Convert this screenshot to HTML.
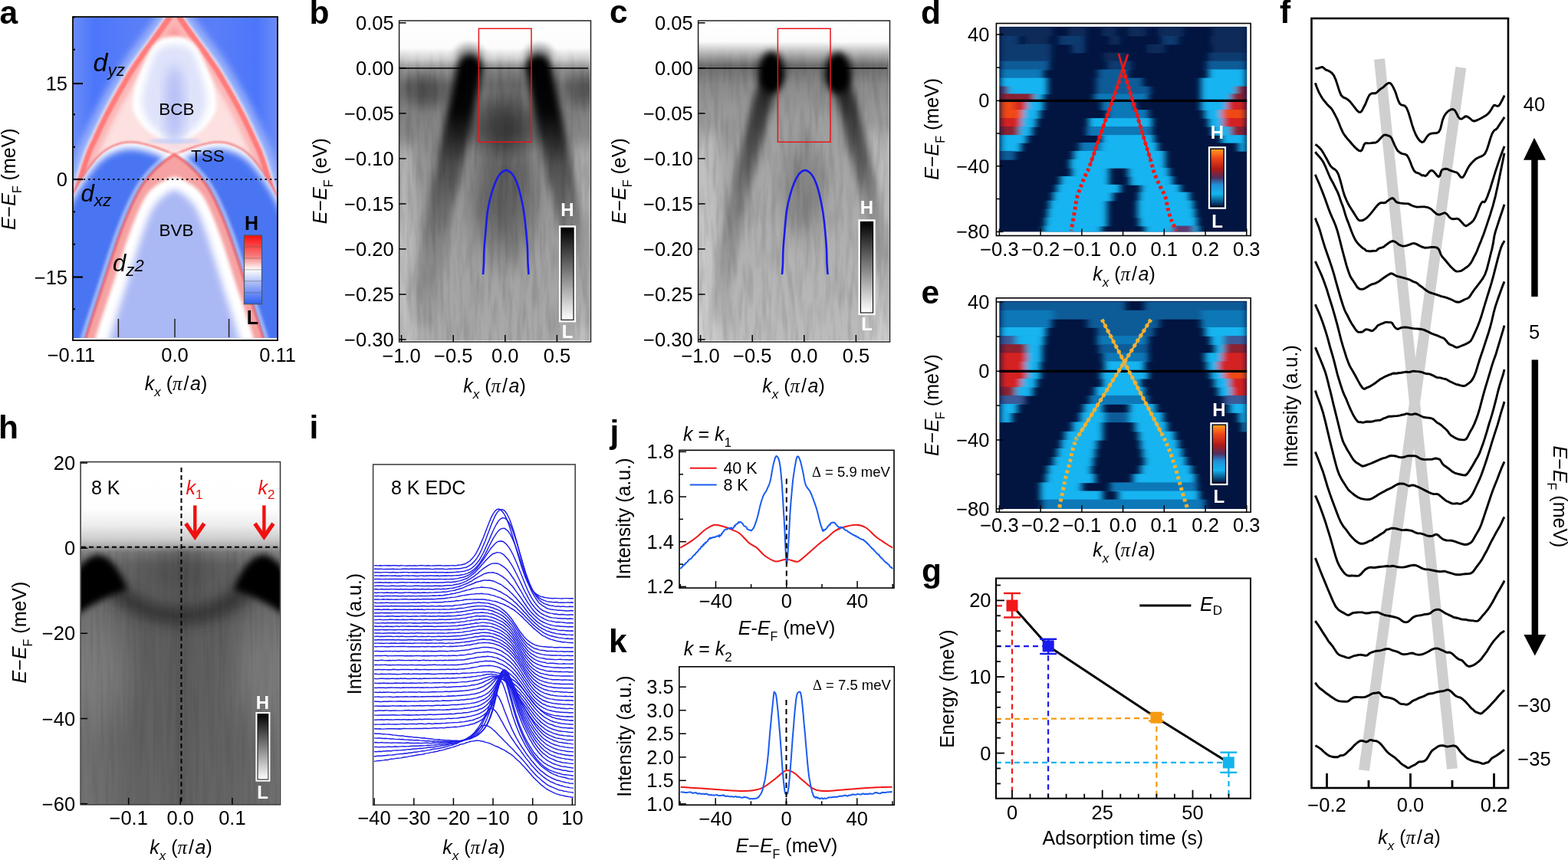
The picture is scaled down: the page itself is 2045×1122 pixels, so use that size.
<!DOCTYPE html><html><head><meta charset="utf-8"><style>html,body{margin:0;padding:0;background:#fff;overflow:hidden}svg{display:block}</style></head><body><svg width="2045" height="1122" viewBox="0 0 2045 1122" font-family='"Liberation Sans", Arial, sans-serif'><defs><clipPath id="clipA"><rect x="96" y="23" width="265" height="418"/></clipPath><filter id="bA1" x="-30%" y="-30%" width="160%" height="160%"><feGaussianBlur stdDeviation="1.0"/></filter><filter id="bA2" x="-30%" y="-30%" width="160%" height="160%"><feGaussianBlur stdDeviation="2"/></filter><filter id="bA3" x="-30%" y="-30%" width="160%" height="160%"><feGaussianBlur stdDeviation="3"/></filter><filter id="bA5" x="-30%" y="-30%" width="160%" height="160%"><feGaussianBlur stdDeviation="5"/></filter><filter id="bA8" x="-30%" y="-30%" width="160%" height="160%"><feGaussianBlur stdDeviation="8"/></filter><linearGradient id="gAbg" x1="0" y1="0" x2="1" y2="0"><stop offset="0" stop-color="#6a8cf8"/><stop offset="0.1" stop-color="#4c76fa"/><stop offset="0.3" stop-color="#5a7ef8"/><stop offset="0.7" stop-color="#5a7ef8"/><stop offset="0.9" stop-color="#4c76fa"/><stop offset="1" stop-color="#6a8cf8"/></linearGradient><linearGradient id="cbA" x1="0" y1="0" x2="0" y2="1"><stop offset="0" stop-color="#ff0c0c"/><stop offset="0.3" stop-color="#f77a7a"/><stop offset="0.5" stop-color="#ffffff"/><stop offset="0.72" stop-color="#9fb2f5"/><stop offset="1" stop-color="#2f5ff4"/></linearGradient><linearGradient id="gfade" gradientUnits="userSpaceOnUse" x1="0" y1="60" x2="0" y2="100"><stop offset="0" stop-color="#fff" stop-opacity="0"/><stop offset="1" stop-color="#fff" stop-opacity="1"/></linearGradient><mask id="mfade" maskUnits="userSpaceOnUse" x="0" y="0" width="2045" height="1122"><rect x="0" y="60" width="2045" height="400" fill="url(#gfade)"/></mask><filter id="streakb" x="0" y="0" width="100%" height="100%"><feTurbulence type="fractalNoise" baseFrequency="0.16 0.02" numOctaves="2" seed="3"/><feColorMatrix type="matrix" values="0 0 0 0 0  0 0 0 0 0  0 0 0 0 0  1.6 0 0 0 -0.62"/></filter><filter id="streakc" x="0" y="0" width="100%" height="100%"><feTurbulence type="fractalNoise" baseFrequency="0.16 0.02" numOctaves="2" seed="7"/><feColorMatrix type="matrix" values="0 0 0 0 0  0 0 0 0 0  0 0 0 0 0  1.6 0 0 0 -0.62"/></filter><filter id="bB4" x="-50%" y="-50%" width="200%" height="200%"><feGaussianBlur stdDeviation="5"/></filter><filter id="bB8" x="-50%" y="-50%" width="200%" height="200%"><feGaussianBlur stdDeviation="9"/></filter><clipPath id="clipBb"><rect x="521" y="27.5" width="248.5" height="417.0"/></clipPath><linearGradient id="gBbg" gradientUnits="userSpaceOnUse" x1="0" y1="27" x2="0" y2="445"><stop offset="0" stop-color="#ffffff"/><stop offset="0.085" stop-color="#fcfcfc"/><stop offset="0.12" stop-color="#d0d0d0"/><stop offset="0.15" stop-color="#909090"/><stop offset="0.2" stop-color="#7a7a7a"/><stop offset="0.3" stop-color="#828282"/><stop offset="0.45" stop-color="#909090"/><stop offset="0.7" stop-color="#a0a0a0"/><stop offset="1" stop-color="#aaaaaa"/></linearGradient><radialGradient id="rg0"><stop offset="0" stop-color="#202020" stop-opacity="0.450"/><stop offset="0.25" stop-color="#202020" stop-opacity="0.414"/><stop offset="0.5" stop-color="#202020" stop-opacity="0.293"/><stop offset="0.75" stop-color="#202020" stop-opacity="0.113"/><stop offset="0.9" stop-color="#202020" stop-opacity="0.032"/><stop offset="1" stop-color="#202020" stop-opacity="0.000"/></radialGradient><radialGradient id="rg1"><stop offset="0" stop-color="#202020" stop-opacity="0.400"/><stop offset="0.25" stop-color="#202020" stop-opacity="0.368"/><stop offset="0.5" stop-color="#202020" stop-opacity="0.260"/><stop offset="0.75" stop-color="#202020" stop-opacity="0.100"/><stop offset="0.9" stop-color="#202020" stop-opacity="0.028"/><stop offset="1" stop-color="#202020" stop-opacity="0.000"/></radialGradient><radialGradient id="rg2"><stop offset="0" stop-color="#606060" stop-opacity="0.600"/><stop offset="0.25" stop-color="#606060" stop-opacity="0.552"/><stop offset="0.5" stop-color="#606060" stop-opacity="0.390"/><stop offset="0.75" stop-color="#606060" stop-opacity="0.150"/><stop offset="0.9" stop-color="#606060" stop-opacity="0.042"/><stop offset="1" stop-color="#606060" stop-opacity="0.000"/></radialGradient><linearGradient id="gArmb" gradientUnits="userSpaceOnUse" x1="0" y1="80" x2="0" y2="420"><stop offset="0" stop-color="#000" stop-opacity="1"/><stop offset="0.2" stop-color="#000" stop-opacity="0.95"/><stop offset="0.4" stop-color="#000" stop-opacity="0.45"/><stop offset="0.7" stop-color="#000" stop-opacity="0.18"/><stop offset="1" stop-color="#000" stop-opacity="0.06"/></linearGradient><radialGradient id="rg3"><stop offset="0" stop-color="#404040" stop-opacity="0.300"/><stop offset="0.25" stop-color="#404040" stop-opacity="0.276"/><stop offset="0.5" stop-color="#404040" stop-opacity="0.195"/><stop offset="0.75" stop-color="#404040" stop-opacity="0.075"/><stop offset="0.9" stop-color="#404040" stop-opacity="0.021"/><stop offset="1" stop-color="#404040" stop-opacity="0.000"/></radialGradient><radialGradient id="rg4"><stop offset="0" stop-color="#101010" stop-opacity="0.600"/><stop offset="0.25" stop-color="#101010" stop-opacity="0.552"/><stop offset="0.5" stop-color="#101010" stop-opacity="0.390"/><stop offset="0.75" stop-color="#101010" stop-opacity="0.150"/><stop offset="0.9" stop-color="#101010" stop-opacity="0.042"/><stop offset="1" stop-color="#101010" stop-opacity="0.000"/></radialGradient><radialGradient id="rg5"><stop offset="0" stop-color="#101010" stop-opacity="0.420"/><stop offset="0.25" stop-color="#101010" stop-opacity="0.386"/><stop offset="0.5" stop-color="#101010" stop-opacity="0.273"/><stop offset="0.75" stop-color="#101010" stop-opacity="0.105"/><stop offset="0.9" stop-color="#101010" stop-opacity="0.029"/><stop offset="1" stop-color="#101010" stop-opacity="0.000"/></radialGradient><clipPath id="clipBc"><rect x="911" y="27.5" width="248.5" height="417.0"/></clipPath><linearGradient id="gCbg" gradientUnits="userSpaceOnUse" x1="0" y1="27" x2="0" y2="445"><stop offset="0" stop-color="#ffffff"/><stop offset="0.065" stop-color="#fcfcfc"/><stop offset="0.1" stop-color="#b8b8b8"/><stop offset="0.14" stop-color="#6e6e6e"/><stop offset="0.2" stop-color="#8a8a8a"/><stop offset="0.3" stop-color="#9c9c9c"/><stop offset="0.6" stop-color="#acacac"/><stop offset="1" stop-color="#bcbcbc"/></linearGradient><linearGradient id="gArmc" gradientUnits="userSpaceOnUse" x1="0" y1="95" x2="0" y2="420"><stop offset="0" stop-color="#000" stop-opacity="0.8"/><stop offset="0.25" stop-color="#000" stop-opacity="0.55"/><stop offset="0.5" stop-color="#000" stop-opacity="0.25"/><stop offset="1" stop-color="#000" stop-opacity="0.06"/></linearGradient><radialGradient id="rg6"><stop offset="0" stop-color="#303030" stop-opacity="0.300"/><stop offset="0.25" stop-color="#303030" stop-opacity="0.276"/><stop offset="0.5" stop-color="#303030" stop-opacity="0.195"/><stop offset="0.75" stop-color="#303030" stop-opacity="0.075"/><stop offset="0.9" stop-color="#303030" stop-opacity="0.021"/><stop offset="1" stop-color="#303030" stop-opacity="0.000"/></radialGradient><linearGradient id="cbG" x1="0" y1="0" x2="0" y2="1"><stop offset="0" stop-color="#000"/><stop offset="1" stop-color="#fff"/></linearGradient><filter id="hblur" x="-5%" y="0" width="110%" height="100%"><feGaussianBlur stdDeviation="4 0"/></filter><linearGradient id="cbDE" x1="0" y1="0" x2="0" y2="1"><stop offset="0" stop-color="#ffa020"/><stop offset="0.15" stop-color="#f04a18"/><stop offset="0.35" stop-color="#b01818"/><stop offset="0.5" stop-color="#503060"/><stop offset="0.62" stop-color="#2090d8"/><stop offset="0.78" stop-color="#14b4f0"/><stop offset="1" stop-color="#021440"/></linearGradient><clipPath id="clipd"><rect x="1303.4" y="34.9" width="322.79999999999995" height="267.5"/></clipPath><clipPath id="clipe"><rect x="1303.4" y="392.8" width="322.79999999999995" height="271.2"/></clipPath><clipPath id="clipH"><rect x="106" y="603.5" width="258.8" height="445.5"/></clipPath><linearGradient id="gHbg" gradientUnits="userSpaceOnUse" x1="0" y1="603" x2="0" y2="1049"><stop offset="0" stop-color="#fff"/><stop offset="0.135" stop-color="#fefefe"/><stop offset="0.185" stop-color="#ececec"/><stop offset="0.222" stop-color="#d0d0d0"/><stop offset="0.243" stop-color="#b2b2b2"/><stop offset="0.251" stop-color="#909090"/><stop offset="0.265" stop-color="#747474"/><stop offset="0.3" stop-color="#636363"/><stop offset="0.4" stop-color="#5b5b5b"/><stop offset="0.6" stop-color="#5e5e5e"/><stop offset="1" stop-color="#646464"/></linearGradient><linearGradient id="gHx" x1="0" y1="0" x2="1" y2="0"><stop offset="0" stop-color="#fff" stop-opacity="0.1"/><stop offset="0.3" stop-color="#fff" stop-opacity="0"/><stop offset="0.5" stop-color="#000" stop-opacity="0.06"/><stop offset="0.75" stop-color="#fff" stop-opacity="0"/><stop offset="1" stop-color="#fff" stop-opacity="0.08"/></linearGradient><filter id="bH4" x="-50%" y="-50%" width="200%" height="200%"><feGaussianBlur stdDeviation="4"/></filter><filter id="bH8" x="-100%" y="-200%" width="300%" height="500%"><feGaussianBlur stdDeviation="8"/></filter><radialGradient id="rg7"><stop offset="0" stop-color="#909090" stop-opacity="0.450"/><stop offset="0.25" stop-color="#909090" stop-opacity="0.414"/><stop offset="0.5" stop-color="#909090" stop-opacity="0.293"/><stop offset="0.75" stop-color="#909090" stop-opacity="0.113"/><stop offset="0.9" stop-color="#909090" stop-opacity="0.032"/><stop offset="1" stop-color="#909090" stop-opacity="0.000"/></radialGradient><radialGradient id="rg8"><stop offset="0" stop-color="#383838" stop-opacity="0.350"/><stop offset="0.25" stop-color="#383838" stop-opacity="0.322"/><stop offset="0.5" stop-color="#383838" stop-opacity="0.227"/><stop offset="0.75" stop-color="#383838" stop-opacity="0.087"/><stop offset="0.9" stop-color="#383838" stop-opacity="0.025"/><stop offset="1" stop-color="#383838" stop-opacity="0.000"/></radialGradient><filter id="streakh" x="0" y="0" width="100%" height="100%"><feTurbulence type="fractalNoise" baseFrequency="0.2 0.01" numOctaves="2" seed="5"/><feColorMatrix type="matrix" values="0 0 0 0 0  0 0 0 0 0  0 0 0 0 0  1.6 0 0 0 -0.62"/></filter><linearGradient id="cbH" x1="0" y1="0" x2="0" y2="1"><stop offset="0" stop-color="#000"/><stop offset="1" stop-color="#fff"/></linearGradient><clipPath id="clipI"><rect x="487.5" y="607" width="262" height="442"/></clipPath></defs><text x="-0.5" y="31.3" font-size="42.5" font-weight="bold">a</text>
<text x="403.5" y="31.0" font-size="42.5" font-weight="bold">b</text>
<text x="795.0" y="29.5" font-size="42.5" font-weight="bold">c</text>
<text x="1201.0" y="30.5" font-size="42.5" font-weight="bold">d</text>
<text x="1201.5" y="395.6" font-size="42.5" font-weight="bold">e</text>
<text x="1669.0" y="30.0" font-size="42.5" font-weight="bold">f</text>
<text x="1202.0" y="759.0" font-size="42.5" font-weight="bold">g</text>
<text x="-2.0" y="572.3" font-size="42.5" font-weight="bold">h</text>
<text x="403.5" y="572.0" font-size="42.5" font-weight="bold">i</text>
<text x="795.5" y="578.0" font-size="42.5" font-weight="bold">j</text>
<text x="794.0" y="851.0" font-size="42.5" font-weight="bold">k</text>
<g clip-path="url(#clipA)">
<rect x="96.0" y="23.0" width="265.0" height="418.0" fill="url(#gAbg)"/>
<path d="M76.6,319.0 L77.5,314.5 L78.7,308.1 L80.2,300.7 L81.8,292.8 L83.3,285.3 L84.6,279.0 L85.7,273.7 L86.8,269.0 L87.8,264.6 L88.7,260.5 L89.7,256.6 L90.6,252.8 L91.5,249.3 L92.3,246.1 L93.1,243.2 L94.0,240.1 L95.0,236.7 L96.2,232.5 L97.8,227.5 L99.6,221.7 L101.5,215.5 L103.5,209.2 L105.5,203.4 L107.3,198.3 L108.9,194.2 L110.2,190.9 L111.5,188.0 L112.9,185.2 L114.4,182.1 L116.2,178.3 L118.3,173.7 L120.7,168.5 L123.3,163.0 L126.0,157.3 L128.8,151.6 L131.5,146.0 L134.3,140.6 L137.2,135.3 L140.1,129.9 L143.1,124.5 L146.1,119.2 L149.2,113.8 L152.2,108.5 L155.3,103.1 L158.5,97.8 L161.7,92.4 L165.2,86.9 L168.8,81.2 L172.9,75.3 L177.3,69.2 L181.9,63.0 L186.4,57.0 L190.6,51.2 L194.5,46.0 L197.9,41.1 L201.2,36.6 L204.2,32.4 L207.0,28.4 L209.5,24.7 L211.8,21.3 L213.7,18.2 L215.3,15.2 L216.7,12.5 L217.9,9.9 L219.0,7.6 L220.1,5.6 L221.0,4.1 L221.6,3.0 L222.2,2.0 L223.3,0.7 L225.3,-0.6 L227.5,-1.0 L229.7,-0.6 L231.7,0.7 L232.8,2.0 L233.4,3.0 L234.0,4.1 L234.9,5.6 L236.0,7.6 L237.1,9.9 L238.3,12.5 L239.7,15.2 L241.3,18.2 L243.2,21.3 L245.5,24.7 L248.0,28.4 L250.8,32.4 L253.8,36.6 L257.1,41.1 L260.5,46.0 L264.4,51.2 L268.6,57.0 L273.1,63.0 L277.7,69.2 L282.1,75.3 L286.2,81.2 L289.8,86.9 L293.3,92.4 L296.5,97.8 L299.7,103.1 L302.8,108.5 L305.8,113.8 L308.9,119.2 L311.9,124.5 L314.9,129.9 L317.8,135.3 L320.7,140.6 L323.5,146.0 L326.2,151.6 L329.0,157.3 L331.7,163.0 L334.3,168.5 L336.7,173.7 L338.8,178.3 L340.6,182.1 L342.1,185.2 L343.5,188.0 L344.8,190.9 L346.1,194.2 L347.7,198.3 L349.5,203.4 L351.5,209.2 L353.5,215.5 L355.4,221.7 L357.2,227.5 L358.8,232.5 L360.0,236.7 L361.0,240.1 L361.9,243.2 L362.7,246.1 L363.5,249.3 L364.4,252.8 L365.3,256.6 L366.3,260.5 L367.2,264.6 L368.2,269.0 L369.3,273.7 L370.4,279.0 L371.7,285.3 L373.2,292.8 L374.8,300.7 L376.3,308.1 L377.5,314.5 L378.4,319.0" fill="none" stroke="#a8bdfa" stroke-width="14" filter="url(#bA5)" opacity="0.8"/>
<path d="M81.5,320.0 L82.4,315.5 L83.6,309.1 L85.1,301.6 L86.7,293.8 L88.2,286.3 L89.5,280.0 L90.6,274.8 L91.7,270.1 L92.7,265.8 L93.6,261.7 L94.6,257.8 L95.5,254.0 L96.4,250.5 L97.2,247.4 L97.9,244.5 L98.8,241.5 L99.8,238.1 L101.0,234.0 L102.5,229.0 L104.3,223.2 L106.3,217.0 L108.3,210.8 L110.2,205.0 L112.0,200.0 L113.5,196.0 L114.8,192.9 L116.1,190.1 L117.4,187.3 L118.9,184.2 L120.7,180.4 L122.8,175.8 L125.2,170.6 L127.8,165.1 L130.5,159.5 L133.2,153.8 L136.0,148.3 L138.8,143.0 L141.6,137.6 L144.5,132.3 L147.4,127.0 L150.4,121.6 L153.5,116.3 L156.6,111.0 L159.6,105.7 L162.8,100.3 L166.0,95.0 L169.4,89.5 L173.0,84.0 L177.0,78.2 L181.4,72.1 L185.9,66.0 L190.4,59.9 L194.6,54.2 L198.5,48.9 L202.0,44.1 L205.3,39.5 L208.3,35.3 L211.1,31.3 L213.7,27.5 L216.0,24.0 L218.0,20.7 L219.7,17.6 L221.2,14.7 L222.4,12.1 L223.5,9.9 L224.5,8.0 L225.3,6.5 L225.9,5.5 L226.3,4.8 L226.7,4.3 L227.1,4.1 L227.5,4.0 L227.9,4.1 L228.3,4.3 L228.7,4.8 L229.1,5.5 L229.7,6.5 L230.5,8.0 L231.5,9.9 L232.6,12.1 L233.8,14.7 L235.3,17.6 L237.0,20.7 L239.0,24.0 L241.3,27.5 L243.9,31.3 L246.7,35.3 L249.7,39.5 L253.0,44.1 L256.5,48.9 L260.4,54.2 L264.6,59.9 L269.1,66.0 L273.6,72.1 L278.0,78.2 L282.0,84.0 L285.6,89.5 L289.0,95.0 L292.2,100.3 L295.4,105.7 L298.4,111.0 L301.5,116.3 L304.6,121.6 L307.6,127.0 L310.5,132.3 L313.4,137.6 L316.2,143.0 L319.0,148.3 L321.8,153.8 L324.5,159.5 L327.2,165.1 L329.8,170.6 L332.2,175.8 L334.3,180.4 L336.1,184.2 L337.6,187.3 L338.9,190.1 L340.2,192.9 L341.5,196.0 L343.0,200.0 L344.8,205.0 L346.7,210.8 L348.7,217.0 L350.7,223.2 L352.5,229.0 L354.0,234.0 L355.2,238.1 L356.2,241.5 L357.1,244.5 L357.8,247.4 L358.6,250.5 L359.5,254.0 L360.4,257.8 L361.4,261.7 L362.3,265.8 L363.3,270.1 L364.4,274.8 L365.5,280.0 L366.8,286.3 L368.3,293.8 L369.9,301.6 L371.4,309.1 L372.6,315.5 L373.5,320.0" fill="none" stroke="#ffffff" stroke-width="5" filter="url(#bA2)" opacity="0.9"/>
<path d="M81.5,320.0 L82.4,315.5 L83.6,309.1 L85.1,301.6 L86.7,293.8 L88.2,286.3 L89.5,280.0 L90.6,274.8 L91.7,270.1 L92.7,265.8 L93.6,261.7 L94.6,257.8 L95.5,254.0 L96.4,250.5 L97.2,247.4 L97.9,244.5 L98.8,241.5 L99.8,238.1 L101.0,234.0 L102.5,229.0 L104.3,223.2 L106.3,217.0 L108.3,210.8 L110.2,205.0 L112.0,200.0 L113.5,196.0 L114.8,192.9 L116.1,190.1 L117.4,187.3 L118.9,184.2 L120.7,180.4 L122.8,175.8 L125.2,170.6 L127.8,165.1 L130.5,159.5 L133.2,153.8 L136.0,148.3 L138.8,143.0 L141.6,137.6 L144.5,132.3 L147.4,127.0 L150.4,121.6 L153.5,116.3 L156.6,111.0 L159.6,105.7 L162.8,100.3 L166.0,95.0 L169.4,89.5 L173.0,84.0 L177.0,78.2 L181.4,72.1 L185.9,66.0 L190.4,59.9 L194.6,54.2 L198.5,48.9 L202.0,44.1 L205.3,39.5 L208.3,35.3 L211.1,31.3 L213.7,27.5 L216.0,24.0 L218.0,20.7 L219.7,17.6 L221.2,14.7 L222.4,12.1 L223.5,9.9 L224.5,8.0 L225.3,6.5 L225.9,5.5 L226.3,4.8 L226.7,4.3 L227.1,4.1 L227.5,4.0 L227.9,4.1 L228.3,4.3 L228.7,4.8 L229.1,5.5 L229.7,6.5 L230.5,8.0 L231.5,9.9 L232.6,12.1 L233.8,14.7 L235.3,17.6 L237.0,20.7 L239.0,24.0 L241.3,27.5 L243.9,31.3 L246.7,35.3 L249.7,39.5 L253.0,44.1 L256.5,48.9 L260.4,54.2 L264.6,59.9 L269.1,66.0 L273.6,72.1 L278.0,78.2 L282.0,84.0 L285.6,89.5 L289.0,95.0 L292.2,100.3 L295.4,105.7 L298.4,111.0 L301.5,116.3 L304.6,121.6 L307.6,127.0 L310.5,132.3 L313.4,137.6 L316.2,143.0 L319.0,148.3 L321.8,153.8 L324.5,159.5 L327.2,165.1 L329.8,170.6 L332.2,175.8 L334.3,180.4 L336.1,184.2 L337.6,187.3 L338.9,190.1 L340.2,192.9 L341.5,196.0 L343.0,200.0 L344.8,205.0 L346.7,210.8 L348.7,217.0 L350.7,223.2 L352.5,229.0 L354.0,234.0 L355.2,238.1 L356.2,241.5 L357.1,244.5 L357.8,247.4 L358.6,250.5 L359.5,254.0 L360.4,257.8 L361.4,261.7 L362.3,265.8 L363.3,270.1 L364.4,274.8 L365.5,280.0 L366.8,286.3 L368.3,293.8 L369.9,301.6 L371.4,309.1 L372.6,315.5 L373.5,320.0 Z" fill="#fde0e0" stroke="none" stroke-width="1.5" filter="url(#bA1)"/>
<path d="M181.4,72.1 L185.9,66.0 L190.4,59.9 L194.6,54.2 L198.5,48.9 L202.0,44.1 L205.3,39.5 L208.3,35.3 L211.1,31.3 L213.7,27.5 L216.0,24.0 L218.0,20.7 L219.7,17.6 L221.2,14.7 L222.4,12.1 L223.5,9.9 L224.5,8.0 L225.3,6.5 L225.9,5.5 L226.3,4.8 L226.7,4.3 L227.1,4.1 L227.5,4.0 L227.9,4.1 L228.3,4.3 L228.7,4.8 L229.1,5.5 L229.7,6.5 L230.5,8.0 L231.5,9.9 L232.6,12.1 L233.8,14.7 L235.3,17.6 L237.0,20.7 L239.0,24.0 L241.3,27.5 L243.9,31.3 L246.7,35.3 L249.7,39.5 L253.0,44.1 L256.5,48.9 L260.4,54.2 L264.6,59.9 L269.1,66.0 L273.6,72.1 Z" fill="#fc9a9a" stroke="none" stroke-width="1.5" filter="url(#bA1)"/>
<path d="M90.3,321.7 L91.2,317.2 L92.5,310.9 L94.0,303.4 L95.5,295.5 L97.0,288.1 L98.3,281.9 L99.4,276.7 L100.4,272.1 L101.4,267.8 L102.4,263.8 L103.3,260.0 L104.2,256.2 L105.1,252.7 L105.9,249.7 L106.6,246.9 L107.4,244.0 L108.4,240.6 L109.6,236.6 L111.1,231.6 L112.9,225.9 L114.9,219.7 L116.9,213.6 L118.7,207.9 L120.5,203.1 L121.9,199.4 L123.1,196.4 L124.2,193.9 L125.5,191.2 L127.0,188.1 L128.9,184.2 L131.0,179.6 L133.4,174.4 L135.9,169.0 L138.6,163.4 L141.3,157.8 L144.0,152.4 L146.7,147.1 L149.5,141.9 L152.4,136.6 L155.3,131.4 L158.3,126.1 L161.3,120.8 L164.4,115.5 L167.4,110.2 L170.5,104.9 L173.7,99.7 L177.0,94.4 L180.5,89.0 L184.4,83.4 L188.6,77.4 L193.1,71.3 L197.6,65.3 L201.9,59.5 L205.8,54.2 L209.3,49.3 L212.6,44.8 L215.6,40.5 L218.5,36.4 L221.2,32.5 L223.6,28.8 L225.8,25.2 L227.7,21.8 L229.2,18.7 L230.5,16.1 L231.5,13.9 L232.4,12.3 L233.2,10.9 L233.7,9.9 L233.8,9.8 L232.9,10.8 L230.2,12.5 L227.5,13.0 L224.8,12.5 L222.1,10.8 L221.2,9.8 L221.3,9.9 L221.8,10.9 L222.6,12.3 L223.5,13.9 L224.5,16.1 L225.8,18.7 L227.3,21.8 L229.2,25.2 L231.4,28.8 L233.8,32.5 L236.5,36.4 L239.4,40.5 L242.4,44.8 L245.7,49.3 L249.2,54.2 L253.1,59.5 L257.4,65.3 L261.9,71.3 L266.4,77.4 L270.6,83.4 L274.5,89.0 L278.0,94.4 L281.3,99.7 L284.5,104.9 L287.6,110.2 L290.6,115.5 L293.7,120.8 L296.7,126.1 L299.7,131.4 L302.6,136.6 L305.5,141.9 L308.3,147.1 L311.0,152.4 L313.7,157.8 L316.4,163.4 L319.1,169.0 L321.6,174.4 L324.0,179.6 L326.1,184.2 L328.0,188.1 L329.5,191.2 L330.8,193.9 L331.9,196.4 L333.1,199.4 L334.5,203.1 L336.3,207.9 L338.1,213.6 L340.1,219.7 L342.1,225.9 L343.9,231.6 L345.4,236.6 L346.6,240.6 L347.6,244.0 L348.4,246.9 L349.1,249.7 L349.9,252.7 L350.8,256.2 L351.7,260.0 L352.6,263.8 L353.6,267.8 L354.6,272.1 L355.6,276.7 L356.7,281.9 L358.0,288.1 L359.5,295.5 L361.0,303.4 L362.5,310.9 L363.8,317.2 L364.7,321.7" fill="none" stroke="#fbb6b6" stroke-width="12" filter="url(#bA3)"/>
<path d="M84.9,320.7 L85.8,316.2 L87.1,309.8 L88.6,302.3 L90.1,294.5 L91.6,287.0 L92.9,280.7 L94.0,275.5 L95.1,270.8 L96.1,266.5 L97.0,262.5 L98.0,258.7 L98.9,254.8 L99.8,251.3 L100.6,248.3 L101.3,245.4 L102.1,242.4 L103.1,239.1 L104.3,235.0 L105.9,230.0 L107.7,224.2 L109.6,218.0 L111.6,211.9 L113.5,206.1 L115.3,201.2 L116.8,197.3 L118.0,194.3 L119.3,191.6 L120.6,188.8 L122.1,185.7 L123.9,181.9 L126.0,177.2 L128.4,172.1 L131.0,166.6 L133.6,161.0 L136.4,155.3 L139.1,149.9 L141.9,144.6 L144.7,139.3 L147.6,134.0 L150.5,128.7 L153.5,123.4 L156.5,118.0 L159.6,112.7 L162.7,107.4 L165.8,102.1 L169.0,96.8 L172.3,91.4 L175.9,85.9 L179.9,80.2 L184.2,74.2 L188.7,68.1 L193.2,62.0 L197.5,56.3 L201.3,51.0 L204.8,46.1 L208.1,41.6 L211.2,37.3 L214.0,33.3 L216.6,29.5 L219.0,25.9 L221.0,22.4 L222.8,19.2 L224.3,16.2 L225.6,13.6 L226.6,11.5 L227.6,9.7 L228.4,8.3 L228.9,7.2 L229.2,6.7 L229.1,6.8 L228.3,7.3 L227.5,7.5 L226.7,7.3 L225.9,6.8 L225.8,6.7 L226.1,7.2 L226.6,8.3 L227.4,9.7 L228.4,11.5 L229.4,13.6 L230.7,16.2 L232.2,19.2 L234.0,22.4 L236.0,25.9 L238.4,29.5 L241.0,33.3 L243.8,37.3 L246.9,41.6 L250.2,46.1 L253.7,51.0 L257.5,56.3 L261.8,62.0 L266.3,68.1 L270.8,74.2 L275.1,80.2 L279.1,85.9 L282.7,91.4 L286.0,96.8 L289.2,102.1 L292.3,107.4 L295.4,112.7 L298.5,118.0 L301.5,123.4 L304.5,128.7 L307.4,134.0 L310.3,139.3 L313.1,144.6 L315.9,149.9 L318.6,155.3 L321.4,161.0 L324.0,166.6 L326.6,172.1 L329.0,177.2 L331.1,181.9 L332.9,185.7 L334.4,188.8 L335.7,191.6 L337.0,194.3 L338.2,197.3 L339.7,201.2 L341.5,206.1 L343.4,211.9 L345.4,218.0 L347.3,224.2 L349.1,230.0 L350.7,235.0 L351.9,239.1 L352.9,242.4 L353.7,245.4 L354.4,248.3 L355.2,251.3 L356.1,254.8 L357.0,258.7 L358.0,262.5 L358.9,266.5 L359.9,270.8 L361.0,275.5 L362.1,280.7 L363.4,287.0 L364.9,294.5 L366.4,302.3 L367.9,309.8 L369.2,316.2 L370.1,320.7" fill="none" stroke="#ff7a7a" stroke-width="7" filter="url(#bA1)"/>
<path d="M227.5,185.0 L226.9,184.9 L226.2,184.8 L225.2,184.7 L224.2,184.6 L222.9,184.3 L221.5,184.0 L219.8,183.6 L217.9,183.1 L215.9,182.5 L213.7,181.9 L211.6,181.2 L209.5,180.4 L207.5,179.5 L205.5,178.6 L203.5,177.6 L201.5,176.5 L199.5,175.3 L197.5,174.0 L195.5,172.6 L193.5,171.0 L191.4,169.3 L189.4,167.6 L187.5,165.8 L185.8,164.0 L184.2,162.1 L182.6,160.1 L181.2,158.1 L179.9,156.1 L178.6,154.0 L177.5,152.0 L176.4,150.1 L175.5,148.4 L174.6,146.8 L173.8,144.9 L173.3,142.7 L173.0,140.0 L173.0,136.6 L173.2,132.6 L173.7,128.2 L174.2,123.9 L174.9,119.7 L175.5,116.0 L176.2,112.9 L176.9,110.1 L177.8,107.5 L178.6,105.0 L179.6,102.6 L180.5,100.0 L181.5,97.3 L182.6,94.6 L183.7,91.9 L184.8,89.2 L185.9,86.6 L187.0,84.0 L188.1,81.5 L189.2,79.0 L190.4,76.5 L191.5,74.1 L192.5,72.0 L193.5,70.0 L194.3,68.3 L195.0,66.9 L195.7,65.6 L196.4,64.4 L197.1,63.3 L198.0,62.0 L199.0,60.6 L200.2,59.2 L201.4,57.8 L202.7,56.4 L204.1,55.2 L205.5,54.0 L207.0,53.0 L208.6,52.0 L210.2,51.1 L211.9,50.3 L213.7,49.6 L215.5,49.0 L217.4,48.5 L219.4,48.1 L221.4,47.8 L223.4,47.6 L225.5,47.5 L227.5,47.5 L229.5,47.5 L231.6,47.6 L233.6,47.8 L235.6,48.1 L237.6,48.5 L239.5,49.0 L241.3,49.6 L243.1,50.3 L244.8,51.1 L246.4,52.0 L248.0,53.0 L249.5,54.0 L250.9,55.2 L252.3,56.4 L253.6,57.8 L254.8,59.2 L256.0,60.6 L257.0,62.0 L257.9,63.3 L258.6,64.4 L259.3,65.6 L260.0,66.9 L260.7,68.3 L261.5,70.0 L262.5,72.0 L263.5,74.1 L264.6,76.5 L265.8,79.0 L266.9,81.5 L268.0,84.0 L269.1,86.6 L270.2,89.2 L271.3,91.9 L272.4,94.6 L273.5,97.3 L274.5,100.0 L275.4,102.6 L276.4,105.0 L277.2,107.5 L278.1,110.1 L278.8,112.9 L279.5,116.0 L280.1,119.7 L280.8,123.9 L281.3,128.2 L281.8,132.6 L282.0,136.6 L282.0,140.0 L281.7,142.7 L281.2,144.9 L280.4,146.8 L279.5,148.4 L278.6,150.1 L277.5,152.0 L276.4,154.0 L275.1,156.1 L273.8,158.1 L272.4,160.1 L270.8,162.1 L269.2,164.0 L267.5,165.8 L265.6,167.6 L263.6,169.3 L261.5,171.0 L259.5,172.6 L257.5,174.0 L255.5,175.3 L253.5,176.5 L251.5,177.6 L249.5,178.6 L247.5,179.5 L245.5,180.4 L243.4,181.2 L241.3,181.9 L239.1,182.5 L237.1,183.1 L235.2,183.6 L233.5,184.0 L232.1,184.3 L230.8,184.6 L229.8,184.7 L228.8,184.8 L228.1,184.9 L227.5,185.0 Z" fill="#ffffff" stroke="none" stroke-width="1.5" filter="url(#bA2)"/>
<path d="M227.5,186.0 L226.9,185.6 L226.2,185.1 L225.2,184.5 L224.2,183.8 L222.9,182.9 L221.5,182.0 L219.8,180.9 L217.9,179.7 L215.8,178.4 L213.6,177.0 L211.5,175.5 L209.5,174.0 L207.6,172.5 L205.6,170.9 L203.8,169.2 L201.9,167.6 L200.1,165.8 L198.5,164.0 L197.0,162.2 L195.5,160.3 L194.1,158.4 L192.8,156.4 L191.6,154.3 L190.5,152.0 L189.4,149.6 L188.4,147.1 L187.4,144.5 L186.5,141.8 L185.9,138.9 L185.5,136.0 L185.4,132.9 L185.5,129.8 L185.8,126.5 L186.2,123.1 L186.8,119.6 L187.5,116.0 L188.4,112.1 L189.5,108.0 L190.8,103.8 L192.1,99.6 L193.4,95.6 L194.5,92.0 L195.4,88.8 L196.3,85.9 L197.1,83.1 L197.8,80.6 L198.6,78.2 L199.5,76.0 L200.4,73.9 L201.3,72.1 L202.2,70.4 L203.2,68.8 L204.3,67.4 L205.5,66.0 L206.9,64.7 L208.5,63.6 L210.1,62.5 L211.9,61.6 L213.7,60.7 L215.5,60.0 L217.4,59.4 L219.4,58.9 L221.4,58.5 L223.4,58.2 L225.5,58.1 L227.5,58.0 L229.5,58.1 L231.6,58.2 L233.6,58.5 L235.6,58.9 L237.6,59.4 L239.5,60.0 L241.3,60.7 L243.1,61.6 L244.9,62.5 L246.5,63.6 L248.1,64.7 L249.5,66.0 L250.7,67.4 L251.8,68.8 L252.8,70.4 L253.7,72.1 L254.6,73.9 L255.5,76.0 L256.4,78.2 L257.2,80.6 L257.9,83.1 L258.7,85.9 L259.6,88.8 L260.5,92.0 L261.6,95.6 L262.9,99.6 L264.2,103.8 L265.5,108.0 L266.6,112.1 L267.5,116.0 L268.2,119.6 L268.8,123.1 L269.2,126.5 L269.5,129.8 L269.6,132.9 L269.5,136.0 L269.1,138.9 L268.5,141.8 L267.6,144.5 L266.6,147.1 L265.6,149.6 L264.5,152.0 L263.4,154.3 L262.2,156.4 L260.9,158.4 L259.5,160.3 L258.0,162.2 L256.5,164.0 L254.9,165.8 L253.1,167.6 L251.2,169.2 L249.4,170.9 L247.4,172.5 L245.5,174.0 L243.5,175.5 L241.4,177.0 L239.2,178.4 L237.1,179.7 L235.2,180.9 L233.5,182.0 L232.1,182.9 L230.8,183.8 L229.8,184.5 L228.8,185.1 L228.1,185.6 L227.5,186.0 Z" fill="#dfe3fa" stroke="none" stroke-width="1.5" filter="url(#bA5)"/>
<ellipse cx="227.5" cy="135" rx="12" ry="50" fill="#b4bef5" filter="url(#bA8)"/>
<ellipse cx="227.5" cy="184" rx="34" ry="2.5" fill="#c0ccf8" filter="url(#bA2)"/>
<path d="M80.0,282.0 L82.1,277.8 L85.1,271.9 L88.6,264.9 L92.4,257.5 L96.3,250.2 L100.0,243.6 L103.7,237.5 L107.5,231.4 L111.3,225.5 L115.2,219.8 L119.0,214.6 L122.7,210.0 L126.1,206.1 L129.4,202.7 L132.6,199.8 L135.8,197.2 L139.2,194.9 L142.8,192.8 L146.7,190.9 L150.8,189.2 L155.0,187.7 L159.3,186.6 L163.7,185.8 L168.2,185.4 L172.7,185.4 L177.3,185.8 L181.9,186.6 L186.6,187.6 L191.4,188.8 L196.3,190.1 L201.3,191.9 L206.5,194.2 L211.7,196.8 L217.0,199.1 L222.3,200.8 L227.5,201.5 L232.7,200.8 L238.0,199.1 L243.3,196.8 L248.5,194.2 L253.7,191.9 L258.7,190.1 L263.6,188.8 L268.4,187.6 L273.1,186.6 L277.7,185.8 L282.3,185.4 L286.8,185.4 L291.3,185.8 L295.7,186.6 L300.0,187.7 L304.2,189.2 L308.3,190.9 L312.2,192.8 L315.8,194.9 L319.2,197.2 L322.4,199.8 L325.6,202.7 L328.9,206.1 L332.3,210.0 L336.0,214.6 L339.8,219.8 L343.7,225.5 L347.5,231.4 L351.3,237.5 L355.0,243.6 L358.7,250.2 L362.6,257.5 L366.4,264.9 L369.9,271.9 L372.9,277.8 L375.0,282.0 L380,470 L60,470 Z" fill="#ffffff" stroke="none" stroke-width="1.5" filter="url(#bA1)"/>
<path d="M80.0,291.0 L82.1,286.8 L85.1,280.9 L88.6,273.9 L92.4,266.5 L96.3,259.2 L100.0,252.6 L103.7,246.5 L107.5,240.4 L111.3,234.5 L115.2,228.8 L119.0,223.6 L122.7,219.0 L126.1,215.1 L129.4,211.7 L132.6,208.8 L135.8,206.2 L139.2,203.9 L142.8,201.8 L146.7,199.9 L150.8,198.2 L155.0,196.7 L159.3,195.6 L163.7,194.8 L168.2,194.4 L172.7,194.4 L177.3,194.8 L181.9,195.6 L186.6,196.6 L191.4,197.8 L196.3,199.1 L201.3,200.9 L206.5,203.2 L211.7,205.8 L217.0,208.1 L222.3,209.8 L227.5,210.5 L232.7,209.8 L238.0,208.1 L243.3,205.8 L248.5,203.2 L253.7,200.9 L258.7,199.1 L263.6,197.8 L268.4,196.6 L273.1,195.6 L277.7,194.8 L282.3,194.4 L286.8,194.4 L291.3,194.8 L295.7,195.6 L300.0,196.7 L304.2,198.2 L308.3,199.9 L312.2,201.8 L315.8,203.9 L319.2,206.2 L322.4,208.8 L325.6,211.7 L328.9,215.1 L332.3,219.0 L336.0,223.6 L339.8,228.8 L343.7,234.5 L347.5,240.4 L351.3,246.5 L355.0,252.6 L358.7,259.2 L362.6,266.5 L366.4,273.9 L369.9,280.9 L372.9,286.8 L375.0,291.0 L380,470 L60,470 Z" fill="#4a74f2" stroke="none" stroke-width="1.5" filter="url(#bA5)"/>
<path d="M105.0,470.0 L105.6,467.3 L106.2,464.0 L107.1,459.9 L108.2,454.9 L109.8,448.6 L112.0,441.0 L114.9,431.6 L118.5,420.4 L122.5,408.1 L126.7,395.1 L131.0,382.3 L135.0,370.0 L138.9,358.0 L142.9,345.7 L146.9,333.4 L150.9,321.5 L154.8,310.2 L158.5,300.0 L162.1,290.7 L165.6,282.2 L169.0,274.3 L172.3,267.0 L175.4,260.4 L178.5,254.3 L181.4,249.0 L184.1,244.4 L186.7,240.5 L189.3,236.9 L191.9,233.6 L194.6,230.2 L197.4,226.8 L200.4,223.7 L203.3,220.7 L206.3,217.9 L209.2,215.3 L212.0,212.8 L214.7,210.3 L217.3,207.7 L219.9,205.4 L222.4,203.4 L224.9,202.0 L227.5,201.5 L230.1,202.0 L232.6,203.4 L235.1,205.4 L237.7,207.7 L240.3,210.3 L243.0,212.8 L245.8,215.3 L248.7,217.9 L251.7,220.7 L254.6,223.7 L257.6,226.8 L260.4,230.2 L263.1,233.6 L265.7,236.9 L268.3,240.5 L270.9,244.4 L273.6,249.0 L276.5,254.3 L279.6,260.4 L282.7,267.0 L286.0,274.3 L289.4,282.2 L292.9,290.7 L296.5,300.0 L300.2,310.2 L304.1,321.5 L308.1,333.4 L312.1,345.7 L316.1,358.0 L320.0,370.0 L324.0,382.3 L328.3,395.1 L332.5,408.1 L336.5,420.4 L340.1,431.6 L343.0,441.0 L345.2,448.6 L346.8,454.9 L347.9,459.9 L348.8,464.0 L349.4,467.3 L350.0,470.0 Z" fill="#f6a2a2" stroke="none" stroke-width="1.5" filter="url(#bA1)"/>
<path d="M119.5,470.0 L119.8,467.3 L120.1,464.0 L120.6,459.9 L121.3,454.9 L122.6,448.6 L124.5,441.0 L127.3,431.6 L130.8,420.4 L134.9,408.1 L139.2,395.1 L143.5,382.3 L147.5,370.0 L151.4,358.0 L155.2,345.7 L159.1,333.4 L163.0,321.5 L166.8,310.2 L170.5,300.0 L174.1,290.7 L177.6,282.0 L181.1,273.9 L184.5,266.6 L188.0,260.0 L191.5,254.3 L195.2,249.5 L199.1,245.7 L202.9,242.6 L206.7,240.1 L210.3,238.0 L213.5,236.0 L216.3,234.3 L218.8,233.0 L221.0,232.0 L223.1,231.4 L225.3,231.1 L227.5,231.0 L229.7,231.1 L231.9,231.4 L234.0,232.0 L236.2,233.0 L238.7,234.3 L241.5,236.0 L244.7,238.0 L248.3,240.1 L252.1,242.6 L255.9,245.7 L259.8,249.5 L263.5,254.3 L267.0,260.0 L270.5,266.6 L273.9,273.9 L277.4,282.0 L280.9,290.7 L284.5,300.0 L288.2,310.2 L292.0,321.5 L295.9,333.4 L299.8,345.7 L303.6,358.0 L307.5,370.0 L311.5,382.3 L315.8,395.1 L320.1,408.1 L324.2,420.4 L327.7,431.6 L330.5,441.0 L332.4,448.6 L333.7,454.9 L334.4,459.9 L334.9,464.0 L335.2,467.3 L335.5,470.0 Z" fill="#ffffff" stroke="none" stroke-width="1.5" filter="url(#bA2)"/>
<path d="M139.5,470.0 L139.7,467.3 L139.9,464.0 L140.1,459.9 L140.7,454.9 L141.7,448.6 L143.5,441.0 L146.1,431.6 L149.5,420.4 L153.4,408.1 L157.5,395.1 L161.6,382.3 L165.5,370.0 L169.3,357.8 L173.2,345.1 L177.1,332.4 L180.8,320.3 L184.4,309.3 L187.5,300.0 L190.2,292.5 L192.5,286.4 L194.6,281.5 L196.5,277.3 L198.4,273.6 L200.5,270.0 L202.7,266.7 L204.8,263.9 L206.9,261.6 L209.1,259.6 L211.3,257.8 L213.5,256.0 L215.8,254.1 L218.1,252.3 L220.4,250.6 L222.8,249.3 L225.2,248.3 L227.5,248.0 L229.8,248.3 L232.2,249.3 L234.6,250.6 L236.9,252.3 L239.2,254.1 L241.5,256.0 L243.7,257.8 L245.9,259.6 L248.1,261.6 L250.2,263.9 L252.3,266.7 L254.5,270.0 L256.6,273.6 L258.5,277.3 L260.4,281.5 L262.5,286.4 L264.8,292.5 L267.5,300.0 L270.6,309.3 L274.2,320.3 L277.9,332.4 L281.8,345.1 L285.7,357.8 L289.5,370.0 L293.4,382.3 L297.5,395.1 L301.6,408.1 L305.5,420.4 L308.9,431.6 L311.5,441.0 L313.3,448.6 L314.3,454.9 L314.9,459.9 L315.1,464.0 L315.3,467.3 L315.5,470.0 Z" fill="#aab8f4" stroke="none" stroke-width="1.5" filter="url(#bA5)"/>
<path d="M80.0,282.0 L82.1,277.8 L85.1,271.9 L88.6,264.9 L92.4,257.5 L96.3,250.2 L100.0,243.6 L103.7,237.5 L107.5,231.4 L111.3,225.5 L115.2,219.8 L119.0,214.6 L122.7,210.0 L126.1,206.1 L129.4,202.7 L132.6,199.8 L135.8,197.2 L139.2,194.9 L142.8,192.8 L146.7,190.9 L150.8,189.2 L155.0,187.7 L159.3,186.6 L163.7,185.8 L168.2,185.4 L172.7,185.4 L177.3,185.8 L181.9,186.6 L186.6,187.6 L191.4,188.8 L196.3,190.1 L201.7,191.7 L207.6,193.8 L213.7,196.1 L219.3,198.3 L224.1,200.2 L227.5,201.5" fill="none" stroke="#f26060" stroke-width="2" filter="url(#bA1)" opacity="0.9"/>
<path d="M375.0,282.0 L372.9,277.8 L369.9,271.9 L366.4,264.9 L362.6,257.5 L358.7,250.2 L355.0,243.6 L351.3,237.5 L347.5,231.4 L343.7,225.5 L339.8,219.8 L336.0,214.6 L332.3,210.0 L328.9,206.1 L325.6,202.7 L322.4,199.8 L319.2,197.2 L315.8,194.9 L312.2,192.8 L308.3,190.9 L304.2,189.2 L300.0,187.7 L295.7,186.6 L291.3,185.8 L286.8,185.4 L282.3,185.4 L277.7,185.8 L273.1,186.6 L268.4,187.6 L263.6,188.8 L258.7,190.1 L253.3,191.7 L247.4,193.8 L241.3,196.1 L235.7,198.3 L230.9,200.2 L227.5,201.5" fill="none" stroke="#f26060" stroke-width="2" filter="url(#bA1)" opacity="0.9"/>
<path d="M229.8,198.2 L231.4,199.4 L233.7,200.9 L236.5,202.8 L239.5,204.9 L242.6,207.3 L245.6,209.8 L248.5,212.3 L251.4,215.0 L254.5,217.8 L257.5,220.9 L260.5,224.2 L263.5,227.7 L266.3,231.1 L268.9,234.5 L271.6,238.2 L274.3,242.3 L277.1,247.0 L280.0,252.5 L283.2,258.6 L286.4,265.3 L289.7,272.7 L293.1,280.6 L296.6,289.3 L300.2,298.6 L304.0,308.9 L307.9,320.2 L311.9,332.2 L315.9,344.5 L319.9,356.8 L323.8,368.8 L327.8,381.0 L332.1,393.9 L336.3,406.8 L340.3,419.2 L343.9,430.4 L346.8,439.9 L349.0,447.5 L350.7,453.9 L351.8,459.1 L352.7,463.2 L353.3,466.5 L353.9,469.2" fill="none" stroke="#ffffff" stroke-width="4" filter="url(#bA2)" opacity="0.7"/>
<path d="M225.2,198.2 L223.6,199.4 L221.3,200.9 L218.5,202.8 L215.5,204.9 L212.4,207.3 L209.4,209.8 L206.5,212.3 L203.6,215.0 L200.5,217.8 L197.5,220.9 L194.5,224.2 L191.5,227.7 L188.7,231.1 L186.1,234.5 L183.4,238.2 L180.7,242.3 L177.9,247.0 L175.0,252.5 L171.8,258.6 L168.6,265.3 L165.3,272.7 L161.9,280.6 L158.4,289.3 L154.8,298.6 L151.0,308.9 L147.1,320.2 L143.1,332.2 L139.1,344.5 L135.1,356.8 L131.2,368.8 L127.2,381.0 L122.9,393.9 L118.7,406.8 L114.7,419.2 L111.1,430.4 L108.2,439.9 L106.0,447.5 L104.3,453.9 L103.2,459.1 L102.3,463.2 L101.7,466.5 L101.1,469.2" fill="none" stroke="#ffffff" stroke-width="4" filter="url(#bA2)" opacity="0.7"/>
<path d="M227.5,201.5 L229.2,202.7 L231.4,204.2 L234.2,206.1 L237.1,208.2 L240.1,210.4 L243.0,212.8 L245.8,215.3 L248.7,217.9 L251.7,220.7 L254.6,223.7 L257.6,226.8 L260.4,230.2 L263.1,233.6 L265.7,236.9 L268.3,240.5 L270.9,244.4 L273.6,249.0 L276.5,254.3 L279.6,260.4 L282.7,267.0 L286.0,274.3 L289.4,282.2 L292.9,290.7 L296.5,300.0 L300.2,310.2 L304.1,321.5 L308.1,333.4 L312.1,345.7 L316.1,358.0 L320.0,370.0 L324.0,382.3 L328.3,395.1 L332.5,408.1 L336.5,420.4 L340.1,431.6 L343.0,441.0 L345.2,448.6 L346.8,454.9 L347.9,459.9 L348.8,464.0 L349.4,467.3 L350.0,470.0" fill="none" stroke="#f26a6a" stroke-width="3" filter="url(#bA1)"/>
<path d="M227.5,201.5 L225.8,202.7 L223.6,204.2 L220.8,206.1 L217.9,208.2 L214.9,210.4 L212.0,212.8 L209.2,215.3 L206.3,217.9 L203.3,220.7 L200.4,223.7 L197.4,226.8 L194.6,230.2 L191.9,233.6 L189.3,236.9 L186.7,240.5 L184.1,244.4 L181.4,249.0 L178.5,254.3 L175.4,260.4 L172.3,267.0 L169.0,274.3 L165.6,282.2 L162.1,290.7 L158.5,300.0 L154.8,310.2 L150.9,321.5 L146.9,333.4 L142.9,345.7 L138.9,358.0 L135.0,370.0 L131.0,382.3 L126.7,395.1 L122.5,408.1 L118.5,420.4 L114.9,431.6 L112.0,441.0 L109.8,448.6 L108.2,454.9 L107.1,459.9 L106.2,464.0 L105.6,467.3 L105.0,470.0" fill="none" stroke="#f26a6a" stroke-width="3" filter="url(#bA1)"/>
</g>
<line x1="96.0" y1="234.0" x2="361.0" y2="234.0" stroke="#000" stroke-width="2.2" stroke-dasharray="2.2 4.2"/>
<line x1="154.4" y1="416.0" x2="154.4" y2="440.0" stroke="#222" stroke-width="1.5"/>
<line x1="228.0" y1="416.0" x2="228.0" y2="440.0" stroke="#222" stroke-width="1.5"/>
<line x1="298.6" y1="416.0" x2="298.6" y2="440.0" stroke="#222" stroke-width="1.5"/>
<rect x="96.0" y="441.0" width="265.0" height="2.5" fill="#fff"/>
<rect x="95.0" y="22.0" width="267.0" height="422.0" fill="none" stroke="#000" stroke-width="1.8"/>
<line x1="95.0" y1="109.0" x2="108.0" y2="109.0" stroke="#000" stroke-width="2.2"/>
<text x="88.0" y="118.0" font-size="25.5" text-anchor="end">15</text>
<line x1="95.0" y1="234.0" x2="108.0" y2="234.0" stroke="#000" stroke-width="2.2"/>
<text x="88.0" y="243.0" font-size="25.5" text-anchor="end">0</text>
<line x1="95.0" y1="361.5" x2="108.0" y2="361.5" stroke="#000" stroke-width="2.2"/>
<text x="88.0" y="370.5" font-size="25.5" text-anchor="end">−15</text>
<line x1="95.0" y1="403.3" x2="98.0" y2="403.3" stroke="#000" stroke-width="2"/>
<line x1="95.0" y1="318.7" x2="98.0" y2="318.7" stroke="#000" stroke-width="2"/>
<line x1="95.0" y1="276.3" x2="98.0" y2="276.3" stroke="#000" stroke-width="2"/>
<line x1="95.0" y1="191.7" x2="98.0" y2="191.7" stroke="#000" stroke-width="2"/>
<line x1="95.0" y1="149.3" x2="98.0" y2="149.3" stroke="#000" stroke-width="2"/>
<line x1="95.0" y1="64.7" x2="98.0" y2="64.7" stroke="#000" stroke-width="2"/>
<line x1="95.0" y1="22.4" x2="98.0" y2="22.4" stroke="#000" stroke-width="2"/>
<text x="93.0" y="472.0" font-size="25.5" text-anchor="middle">−0.11</text>
<text x="228.0" y="472.0" font-size="25.5" text-anchor="middle">0.0</text>
<text x="362.0" y="472.0" font-size="25.5" text-anchor="middle">0.11</text>
<text x="229.5" y="509.0" font-size="25" text-anchor="middle"><tspan font-style="italic">k</tspan><tspan font-style="italic" font-size="17" dy="8">x</tspan><tspan dy="-8"> (</tspan><tspan font-family="Liberation Serif" font-style="italic">π</tspan><tspan dx="2">/</tspan><tspan font-style="italic" dx="1.5">a</tspan>)</text>
<text x="20.5" y="233.7" font-size="25" text-anchor="middle" transform="rotate(-90 20.5 233.7)"><tspan font-style="italic">E</tspan>−<tspan font-style="italic">E</tspan><tspan font-size="16" dy="8">F</tspan><tspan dy="-8"> (meV)</tspan></text>
<text x="121.5" y="93.0" font-size="34"><tspan font-style="italic">d</tspan><tspan font-style="italic" font-size="22.5" dy="6.4">yz</tspan></text>
<text x="105.5" y="262.5" font-size="31"><tspan font-style="italic">d</tspan><tspan font-style="italic" font-size="22.5" dy="6.4">xz</tspan></text>
<text x="147.0" y="353.5" font-size="31"><tspan font-style="italic">d</tspan><tspan font-style="italic" font-size="22.5" dy="6.3">z</tspan><tspan font-style="italic" font-size="22" dy="-6.3">2</tspan></text>
<text x="230.4" y="150.4" font-size="22.5" text-anchor="middle">BCB</text>
<text x="270.8" y="210.5" font-size="22.5" text-anchor="middle">TSS</text>
<text x="229.9" y="308.2" font-size="22.5" text-anchor="middle">BVB</text>
<rect x="318.5" y="307.0" width="23.0" height="89.7" fill="url(#cbA)" stroke="#555" stroke-width="1.2"/>
<line x1="319.0" y1="321.9" x2="341.0" y2="321.9" stroke="#555" stroke-width="0.8" opacity="0.6"/>
<line x1="319.0" y1="336.9" x2="341.0" y2="336.9" stroke="#555" stroke-width="0.8" opacity="0.6"/>
<line x1="319.0" y1="351.9" x2="341.0" y2="351.9" stroke="#555" stroke-width="0.8" opacity="0.6"/>
<line x1="319.0" y1="366.8" x2="341.0" y2="366.8" stroke="#555" stroke-width="0.8" opacity="0.6"/>
<line x1="319.0" y1="381.8" x2="341.0" y2="381.8" stroke="#555" stroke-width="0.8" opacity="0.6"/>
<text x="328.1" y="300.0" font-size="25" text-anchor="middle" font-weight="bold">H</text>
<text x="329.5" y="422.6" font-size="25" text-anchor="middle" font-weight="bold">L</text>
<g clip-path="url(#clipBb)">
<rect x="521.0" y="27.5" width="248.5" height="417.0" fill="url(#gBbg)"/>
<rect x="501" y="190" width="42" height="300" fill="#fff" opacity="0.3" filter="url(#bB8)"/>
<rect x="743.5" y="190" width="42" height="300" fill="#fff" opacity="0.25" filter="url(#bB8)"/>
<ellipse cx="554.0" cy="118.0" rx="44.0" ry="32.0" fill="url(#rg0)"/>
<ellipse cx="760.0" cy="118.0" rx="36.0" ry="32.0" fill="url(#rg1)"/>
<ellipse cx="612.0" cy="70.0" rx="25.6" ry="19.2" fill="url(#rg2)"/>
<ellipse cx="703.0" cy="70.0" rx="25.6" ry="19.2" fill="url(#rg2)"/>
<path d="M613.0,88.0 L612.1,92.3 L610.8,98.0 L609.3,104.9 L607.6,112.7 L605.8,121.2 L604.0,130.0 L602.1,139.5 L600.0,150.0 L597.8,161.1 L595.6,172.5 L593.3,183.9 L591.0,195.0 L588.7,205.8 L586.4,216.5 L584.1,227.2 L581.7,238.0 L579.3,248.9 L577.0,260.0 L574.6,271.3 L572.3,282.6 L569.9,294.1 L567.5,305.7 L565.2,317.7 L563.0,330.0 L560.7,343.7 L558.4,358.9 L556.1,374.4 L554.0,388.9 L552.3,401.2 L551.0,410.0" fill="none" stroke="url(#gArmb)" stroke-width="34" filter="url(#bB4)" stroke-linecap="round"/>
<path d="M702.0,88.0 L702.9,92.3 L704.2,98.0 L705.7,104.9 L707.4,112.7 L709.2,121.2 L711.0,130.0 L712.9,139.5 L715.0,150.0 L717.2,161.1 L719.4,172.5 L721.7,183.9 L724.0,195.0 L726.3,205.8 L728.6,216.5 L730.9,227.2 L733.3,238.0 L735.7,248.9 L738.0,260.0 L740.4,271.3 L742.7,282.6 L745.1,294.1 L747.5,305.7 L749.8,317.7 L752.0,330.0 L754.3,343.7 L756.6,358.9 L758.9,374.4 L761.0,388.9 L762.7,401.2 L764.0,410.0" fill="none" stroke="url(#gArmb)" stroke-width="34" filter="url(#bB4)" stroke-linecap="round"/>
<ellipse cx="658.0" cy="115.0" rx="48.0" ry="44.0" fill="url(#rg3)"/>
<ellipse cx="658.0" cy="165.0" rx="64.0" ry="48.0" fill="url(#rg4)"/>
<ellipse cx="658.0" cy="255.0" rx="60.0" ry="120.0" fill="url(#rg5)"/>
<rect x="521" y="60" width="248.5" height="384.5" fill="#000" filter="url(#streakb)" mask="url(#mfade)" opacity="0.16"/>
</g>
<line x1="521.0" y1="89.0" x2="767.0" y2="89.0" stroke="#000" stroke-width="1.5"/>
<rect x="624.4" y="37.3" width="68.6" height="148.0" fill="none" stroke="#e8161b" stroke-width="1.5"/>
<path d="M630.0,358.0 C630.2,355.5 630.8,348.5 631.0,343.0 C631.2,337.5 631.1,332.2 631.5,325.0 C631.9,317.8 632.8,308.3 633.5,300.0 C634.2,291.7 634.9,282.5 636.0,275.0 C637.1,267.5 638.6,261.2 640.3,255.0 C642.0,248.8 644.0,242.7 646.0,238.0 C648.0,233.3 650.0,229.6 652.0,227.0 C654.0,224.4 656.3,223.2 658.0,222.5 C659.7,221.8 660.3,221.8 662.0,222.5 C663.7,223.2 666.0,224.4 668.0,227.0 C670.0,229.6 672.2,233.3 674.0,238.0 C675.8,242.7 677.5,248.8 679.0,255.0 C680.5,261.2 681.8,267.5 683.0,275.0 C684.2,282.5 685.2,291.7 686.0,300.0 C686.8,308.3 687.6,317.8 688.0,325.0 C688.4,332.2 688.2,337.5 688.5,343.0 C688.8,348.5 689.3,355.5 689.5,358.0" fill="none" stroke="#1a1aee" stroke-width="2.6"/>
<rect x="520.6" y="27.0" width="249.9" height="419.0" fill="none" stroke="#222" stroke-width="1.5"/>
<line x1="520.6" y1="29.8" x2="529.6" y2="29.8" stroke="#000" stroke-width="1.5"/>
<text x="513.6" y="38.8" font-size="25.5" text-anchor="end">0.05</text>
<line x1="520.6" y1="88.8" x2="529.6" y2="88.8" stroke="#000" stroke-width="1.5"/>
<text x="513.6" y="97.8" font-size="25.5" text-anchor="end">0.00</text>
<line x1="520.6" y1="147.9" x2="529.6" y2="147.9" stroke="#000" stroke-width="1.5"/>
<text x="513.6" y="156.9" font-size="25.5" text-anchor="end">−0.05</text>
<line x1="520.6" y1="206.9" x2="529.6" y2="206.9" stroke="#000" stroke-width="1.5"/>
<text x="513.6" y="215.9" font-size="25.5" text-anchor="end">−0.10</text>
<line x1="520.6" y1="265.9" x2="529.6" y2="265.9" stroke="#000" stroke-width="1.5"/>
<text x="513.6" y="274.9" font-size="25.5" text-anchor="end">−0.15</text>
<line x1="520.6" y1="324.9" x2="529.6" y2="324.9" stroke="#000" stroke-width="1.5"/>
<text x="513.6" y="333.9" font-size="25.5" text-anchor="end">−0.20</text>
<line x1="520.6" y1="384.0" x2="529.6" y2="384.0" stroke="#000" stroke-width="1.5"/>
<text x="513.6" y="393.0" font-size="25.5" text-anchor="end">−0.25</text>
<line x1="520.6" y1="443.0" x2="529.6" y2="443.0" stroke="#000" stroke-width="1.5"/>
<text x="513.6" y="452.0" font-size="25.5" text-anchor="end">−0.30</text>
<line x1="523.6" y1="446.0" x2="523.6" y2="437.0" stroke="#000" stroke-width="1.5"/>
<text x="523.6" y="472.5" font-size="25.5" text-anchor="middle">−1.0</text>
<line x1="591.2" y1="446.0" x2="591.2" y2="437.0" stroke="#000" stroke-width="1.5"/>
<text x="591.2" y="472.5" font-size="25.5" text-anchor="middle">−0.5</text>
<line x1="658.8" y1="446.0" x2="658.8" y2="437.0" stroke="#000" stroke-width="1.5"/>
<text x="658.8" y="472.5" font-size="25.5" text-anchor="middle">0.0</text>
<line x1="726.4" y1="446.0" x2="726.4" y2="437.0" stroke="#000" stroke-width="1.5"/>
<text x="726.4" y="472.5" font-size="25.5" text-anchor="middle">0.5</text>
<text x="645.0" y="511.5" font-size="25" text-anchor="middle"><tspan font-style="italic">k</tspan><tspan font-style="italic" font-size="17" dy="8">x</tspan><tspan dy="-8"> (</tspan><tspan font-family="Liberation Serif" font-style="italic">π</tspan><tspan dx="2">/</tspan><tspan font-style="italic" dx="1.5">a</tspan>)</text>
<text x="425.7" y="236.2" font-size="25" text-anchor="middle" transform="rotate(-90 425.7 236.2)"><tspan font-style="italic">E</tspan>−<tspan font-style="italic">E</tspan><tspan font-size="16" dy="8">F</tspan><tspan dy="-8"> (eV)</tspan></text>
<g clip-path="url(#clipBc)">
<rect x="911.0" y="27.5" width="248.5" height="417.0" fill="url(#gCbg)"/>
<rect x="891" y="170" width="45" height="300" fill="#fff" opacity="0.3" filter="url(#bB8)"/>
<rect x="1131.5" y="170" width="45" height="300" fill="#fff" opacity="0.25" filter="url(#bB8)"/>
<path d="M1006.0,100.0 L1004.7,103.5 L1003.0,108.0 L1001.0,113.4 L998.7,119.8 L996.4,127.0 L994.0,135.0 L991.6,144.1 L989.0,154.4 L986.2,165.6 L983.5,177.2 L980.7,188.8 L978.0,200.0 L975.3,210.8 L972.6,221.5 L969.9,232.2 L967.2,243.0 L964.6,253.9 L962.0,265.0 L959.5,276.3 L957.1,287.6 L954.8,299.1 L952.4,310.7 L950.2,322.7 L948.0,335.0 L945.7,348.7 L943.4,363.9 L941.1,379.4 L939.0,393.9 L937.3,406.2 L936.0,415.0" fill="none" stroke="url(#gArmc)" stroke-width="24" filter="url(#bB4)" stroke-linecap="round"/>
<path d="M1093.0,100.0 L1094.3,103.5 L1096.0,108.0 L1098.0,113.4 L1100.3,119.8 L1102.6,127.0 L1105.0,135.0 L1107.4,144.1 L1110.0,154.4 L1112.8,165.6 L1115.5,177.2 L1118.3,188.8 L1121.0,200.0 L1123.7,210.8 L1126.4,221.5 L1129.1,232.2 L1131.8,243.0 L1134.4,253.9 L1137.0,265.0 L1139.5,276.3 L1141.9,287.6 L1144.2,299.1 L1146.6,310.7 L1148.8,322.7 L1151.0,335.0 L1153.3,348.7 L1155.6,363.9 L1157.9,379.4 L1160.0,393.9 L1161.7,406.2 L1163.0,415.0" fill="none" stroke="url(#gArmc)" stroke-width="24" filter="url(#bB4)" stroke-linecap="round"/>
<ellipse cx="1006" cy="94" rx="17" ry="27" fill="#000" filter="url(#bB4)"/>
<ellipse cx="1093" cy="95" rx="17" ry="27" fill="#000" filter="url(#bB4)"/>
<ellipse cx="1048.0" cy="250.0" rx="44.0" ry="90.0" fill="url(#rg6)"/>
<rect x="911" y="60" width="248.5" height="384.5" fill="#000" filter="url(#streakc)" mask="url(#mfade)" opacity="0.16"/>
</g>
<line x1="911.0" y1="89.0" x2="1157.0" y2="89.0" stroke="#000" stroke-width="1.5"/>
<rect x="1014.4" y="37.3" width="68.6" height="148.0" fill="none" stroke="#e8161b" stroke-width="1.5"/>
<path d="M1020.0,358.0 C1020.2,355.5 1020.8,348.5 1021.0,343.0 C1021.2,337.5 1021.1,332.2 1021.5,325.0 C1021.9,317.8 1022.8,308.3 1023.5,300.0 C1024.2,291.7 1024.9,282.5 1026.0,275.0 C1027.1,267.5 1028.6,261.2 1030.3,255.0 C1032.0,248.8 1034.0,242.7 1036.0,238.0 C1038.0,233.3 1040.0,229.6 1042.0,227.0 C1044.0,224.4 1046.3,223.2 1048.0,222.5 C1049.7,221.8 1050.3,221.8 1052.0,222.5 C1053.7,223.2 1056.0,224.4 1058.0,227.0 C1060.0,229.6 1062.2,233.3 1064.0,238.0 C1065.8,242.7 1067.5,248.8 1069.0,255.0 C1070.5,261.2 1071.8,267.5 1073.0,275.0 C1074.2,282.5 1075.2,291.7 1076.0,300.0 C1076.8,308.3 1077.6,317.8 1078.0,325.0 C1078.4,332.2 1078.2,337.5 1078.5,343.0 C1078.8,348.5 1079.3,355.5 1079.5,358.0" fill="none" stroke="#1a1aee" stroke-width="2.6"/>
<rect x="910.6" y="27.0" width="249.9" height="419.0" fill="none" stroke="#222" stroke-width="1.5"/>
<line x1="910.6" y1="29.8" x2="919.6" y2="29.8" stroke="#000" stroke-width="1.5"/>
<text x="903.6" y="38.8" font-size="25.5" text-anchor="end">0.05</text>
<line x1="910.6" y1="88.8" x2="919.6" y2="88.8" stroke="#000" stroke-width="1.5"/>
<text x="903.6" y="97.8" font-size="25.5" text-anchor="end">0.00</text>
<line x1="910.6" y1="147.9" x2="919.6" y2="147.9" stroke="#000" stroke-width="1.5"/>
<text x="903.6" y="156.9" font-size="25.5" text-anchor="end">−0.05</text>
<line x1="910.6" y1="206.9" x2="919.6" y2="206.9" stroke="#000" stroke-width="1.5"/>
<text x="903.6" y="215.9" font-size="25.5" text-anchor="end">−0.10</text>
<line x1="910.6" y1="265.9" x2="919.6" y2="265.9" stroke="#000" stroke-width="1.5"/>
<text x="903.6" y="274.9" font-size="25.5" text-anchor="end">−0.15</text>
<line x1="910.6" y1="324.9" x2="919.6" y2="324.9" stroke="#000" stroke-width="1.5"/>
<text x="903.6" y="333.9" font-size="25.5" text-anchor="end">−0.20</text>
<line x1="910.6" y1="384.0" x2="919.6" y2="384.0" stroke="#000" stroke-width="1.5"/>
<text x="903.6" y="393.0" font-size="25.5" text-anchor="end">−0.25</text>
<line x1="910.6" y1="443.0" x2="919.6" y2="443.0" stroke="#000" stroke-width="1.5"/>
<text x="903.6" y="452.0" font-size="25.5" text-anchor="end">−0.30</text>
<line x1="913.6" y1="446.0" x2="913.6" y2="437.0" stroke="#000" stroke-width="1.5"/>
<text x="913.6" y="472.5" font-size="25.5" text-anchor="middle">−1.0</text>
<line x1="981.2" y1="446.0" x2="981.2" y2="437.0" stroke="#000" stroke-width="1.5"/>
<text x="981.2" y="472.5" font-size="25.5" text-anchor="middle">−0.5</text>
<line x1="1048.8" y1="446.0" x2="1048.8" y2="437.0" stroke="#000" stroke-width="1.5"/>
<text x="1048.8" y="472.5" font-size="25.5" text-anchor="middle">0.0</text>
<line x1="1116.4" y1="446.0" x2="1116.4" y2="437.0" stroke="#000" stroke-width="1.5"/>
<text x="1116.4" y="472.5" font-size="25.5" text-anchor="middle">0.5</text>
<text x="1035.0" y="511.5" font-size="25" text-anchor="middle"><tspan font-style="italic">k</tspan><tspan font-style="italic" font-size="17" dy="8">x</tspan><tspan dy="-8"> (</tspan><tspan font-family="Liberation Serif" font-style="italic">π</tspan><tspan dx="2">/</tspan><tspan font-style="italic" dx="1.5">a</tspan>)</text>
<text x="815.7" y="236.2" font-size="25" text-anchor="middle" transform="rotate(-90 815.7 236.2)"><tspan font-style="italic">E</tspan>−<tspan font-style="italic">E</tspan><tspan font-size="16" dy="8">F</tspan><tspan dy="-8"> (eV)</tspan></text>
<rect x="732.0" y="297.4" width="16.0" height="119.9" fill="url(#cbG)" stroke="#000" stroke-width="1"/>
<rect x="730.0" y="295.4" width="20.0" height="123.9" fill="none" stroke="#fff" stroke-width="2.2"/>
<text x="740.0" y="282.0" font-size="24" text-anchor="middle" font-weight="bold" fill="#fff">H</text>
<text x="740.0" y="440.5" font-size="24" text-anchor="middle" font-weight="bold" fill="#fff">L</text>
<rect x="1122.5" y="289.4" width="16.0" height="118.6" fill="url(#cbG)" stroke="#000" stroke-width="1"/>
<rect x="1120.5" y="287.4" width="20.0" height="122.6" fill="none" stroke="#fff" stroke-width="2.2"/>
<text x="1130.5" y="279.0" font-size="24" text-anchor="middle" font-weight="bold" fill="#fff">H</text>
<text x="1130.5" y="431.0" font-size="24" text-anchor="middle" font-weight="bold" fill="#fff">L</text>
<rect x="1303.4" y="34.9" width="322.8" height="267.5" fill="#021440"/>
<g clip-path="url(#clipd)" filter="url(#hblur)">
<rect x="1304.9" y="35.7" width="68.4" height="11.8" fill="#082a58"/>
<rect x="1392.8" y="35.7" width="24.4" height="11.8" fill="#082a58"/>
<rect x="1436.8" y="35.7" width="19.5" height="11.8" fill="#082a58"/>
<rect x="1471.0" y="35.7" width="24.4" height="11.8" fill="#082a58"/>
<rect x="1510.1" y="35.7" width="34.2" height="11.8" fill="#082a58"/>
<rect x="1580.9" y="35.7" width="44.0" height="11.8" fill="#082a58"/>
<rect x="1304.9" y="46.7" width="24.4" height="11.8" fill="#0a3a70"/>
<rect x="1336.6" y="46.7" width="31.8" height="11.8" fill="#082a58"/>
<rect x="1380.6" y="46.7" width="34.2" height="11.8" fill="#0a3a70"/>
<rect x="1446.6" y="46.7" width="14.7" height="11.8" fill="#082a58"/>
<rect x="1514.9" y="46.7" width="22.0" height="11.8" fill="#0a3a70"/>
<rect x="1578.5" y="46.7" width="46.4" height="11.8" fill="#082a58"/>
<rect x="1304.9" y="57.6" width="66.0" height="11.8" fill="#0a3a70"/>
<rect x="1397.7" y="57.6" width="17.1" height="11.8" fill="#0a3a70"/>
<rect x="1495.4" y="57.6" width="24.4" height="11.8" fill="#082a58"/>
<rect x="1580.9" y="57.6" width="44.0" height="11.8" fill="#082a58"/>
<rect x="1304.9" y="68.6" width="66.0" height="11.8" fill="#0a3a70"/>
<rect x="1439.2" y="68.6" width="31.8" height="11.8" fill="#082a58"/>
<rect x="1576.0" y="68.6" width="48.9" height="11.8" fill="#0a3a70"/>
<rect x="1304.9" y="79.6" width="63.5" height="11.8" fill="#0c5c98"/>
<rect x="1444.1" y="79.6" width="31.8" height="11.8" fill="#0a3a70"/>
<rect x="1573.6" y="79.6" width="51.3" height="11.8" fill="#0c5c98"/>
<rect x="1304.9" y="90.6" width="56.2" height="11.8" fill="#0f78b8"/>
<rect x="1431.9" y="90.6" width="39.1" height="11.8" fill="#0c5c98"/>
<rect x="1576.0" y="90.6" width="48.9" height="11.8" fill="#14b4f0"/>
<rect x="1304.9" y="101.6" width="61.1" height="11.8" fill="#14b4f0"/>
<rect x="1429.5" y="101.6" width="61.1" height="11.8" fill="#0c5c98"/>
<rect x="1566.2" y="101.6" width="58.6" height="11.8" fill="#14b4f0"/>
<rect x="1304.9" y="112.6" width="9.8" height="10.6" fill="#5a3a70"/>
<rect x="1314.7" y="112.6" width="51.3" height="10.6" fill="#14b4f0"/>
<rect x="1429.5" y="112.6" width="70.8" height="10.6" fill="#0c5c98"/>
<rect x="1566.2" y="112.6" width="46.4" height="10.6" fill="#14b4f0"/>
<rect x="1612.7" y="112.6" width="12.2" height="10.6" fill="#8a2030"/>
<rect x="1304.9" y="122.4" width="44.0" height="10.6" fill="#8a2030"/>
<rect x="1348.9" y="122.4" width="12.2" height="10.6" fill="#14b4f0"/>
<rect x="1427.0" y="122.4" width="70.8" height="10.6" fill="#0f78b8"/>
<rect x="1566.2" y="122.4" width="39.1" height="10.6" fill="#14b4f0"/>
<rect x="1605.3" y="122.4" width="19.5" height="10.6" fill="#8a2030"/>
<rect x="1304.9" y="132.1" width="19.5" height="11.8" fill="#f04a18"/>
<rect x="1324.4" y="132.1" width="14.7" height="11.8" fill="#d42020"/>
<rect x="1339.1" y="132.1" width="22.0" height="11.8" fill="#14b4f0"/>
<rect x="1436.8" y="132.1" width="44.0" height="11.8" fill="#0f78b8"/>
<rect x="1566.2" y="132.1" width="34.2" height="11.8" fill="#14b4f0"/>
<rect x="1600.4" y="132.1" width="24.4" height="11.8" fill="#d42020"/>
<rect x="1304.9" y="143.1" width="29.3" height="11.8" fill="#f04a18"/>
<rect x="1334.2" y="143.1" width="22.0" height="11.8" fill="#14b4f0"/>
<rect x="1444.1" y="143.1" width="53.7" height="11.8" fill="#0f78b8"/>
<rect x="1571.1" y="143.1" width="22.0" height="11.8" fill="#14b4f0"/>
<rect x="1593.1" y="143.1" width="31.8" height="11.8" fill="#f04a18"/>
<rect x="1304.9" y="154.1" width="26.9" height="11.8" fill="#d42020"/>
<rect x="1331.8" y="154.1" width="19.5" height="11.8" fill="#14b4f0"/>
<rect x="1419.7" y="154.1" width="83.0" height="11.8" fill="#14b4f0"/>
<rect x="1576.0" y="154.1" width="19.5" height="11.8" fill="#14b4f0"/>
<rect x="1595.6" y="154.1" width="29.3" height="11.8" fill="#d42020"/>
<rect x="1304.9" y="165.1" width="24.4" height="11.8" fill="#8a2030"/>
<rect x="1329.3" y="165.1" width="17.1" height="11.8" fill="#14b4f0"/>
<rect x="1417.2" y="165.1" width="85.5" height="11.8" fill="#0f78b8"/>
<rect x="1580.9" y="165.1" width="24.4" height="11.8" fill="#14b4f0"/>
<rect x="1605.3" y="165.1" width="19.5" height="11.8" fill="#8a2030"/>
<rect x="1304.9" y="176.1" width="34.2" height="10.6" fill="#14b4f0"/>
<rect x="1436.8" y="176.1" width="68.4" height="10.6" fill="#14b4f0"/>
<rect x="1593.1" y="176.1" width="31.8" height="10.6" fill="#14b4f0"/>
<rect x="1304.9" y="185.9" width="26.9" height="11.8" fill="#14b4f0"/>
<rect x="1407.5" y="185.9" width="29.3" height="11.8" fill="#0f78b8"/>
<rect x="1436.8" y="185.9" width="73.3" height="11.8" fill="#14b4f0"/>
<rect x="1615.1" y="185.9" width="9.8" height="11.8" fill="#14b4f0"/>
<rect x="1304.9" y="196.9" width="19.5" height="11.8" fill="#0c5c98"/>
<rect x="1400.1" y="196.9" width="119.7" height="11.8" fill="#14b4f0"/>
<rect x="1395.3" y="207.9" width="124.6" height="11.8" fill="#14b4f0"/>
<rect x="1397.7" y="218.9" width="48.9" height="11.8" fill="#14b4f0"/>
<rect x="1471.0" y="218.9" width="53.7" height="11.8" fill="#14b4f0"/>
<rect x="1383.0" y="229.9" width="63.5" height="11.8" fill="#14b4f0"/>
<rect x="1473.4" y="229.9" width="56.2" height="11.8" fill="#14b4f0"/>
<rect x="1378.2" y="240.8" width="83.0" height="10.6" fill="#14b4f0"/>
<rect x="1488.1" y="240.8" width="51.3" height="10.6" fill="#14b4f0"/>
<rect x="1373.3" y="250.6" width="78.2" height="11.8" fill="#14b4f0"/>
<rect x="1485.6" y="250.6" width="66.0" height="11.8" fill="#14b4f0"/>
<rect x="1368.4" y="261.6" width="75.7" height="11.8" fill="#14b4f0"/>
<rect x="1483.2" y="261.6" width="73.3" height="11.8" fill="#14b4f0"/>
<rect x="1366.0" y="272.6" width="78.2" height="11.8" fill="#14b4f0"/>
<rect x="1483.2" y="272.6" width="75.7" height="11.8" fill="#14b4f0"/>
<rect x="1363.5" y="283.6" width="80.6" height="11.8" fill="#14b4f0"/>
<rect x="1485.6" y="283.6" width="75.7" height="11.8" fill="#14b4f0"/>
<rect x="1361.1" y="294.6" width="75.7" height="10.6" fill="#14b4f0"/>
<rect x="1493.0" y="294.6" width="36.6" height="10.6" fill="#14b4f0"/>
<rect x="1529.6" y="294.6" width="26.9" height="10.6" fill="#5a3a70"/>
<rect x="1556.5" y="294.6" width="7.3" height="10.6" fill="#14b4f0"/>
</g>
<line x1="1303.4" y1="131.4" x2="1626.2" y2="131.4" stroke="#000" stroke-width="3.2"/>
<rect x="1299.4" y="30.5" width="331.8" height="277.0" fill="none" stroke="#000" stroke-width="1.6"/>
<line x1="1299.4" y1="45.0" x2="1308.4" y2="45.0" stroke="#000" stroke-width="1.5"/>
<text x="1290.4" y="54.0" font-size="25.5" text-anchor="end">40</text>
<line x1="1299.4" y1="131.4" x2="1308.4" y2="131.4" stroke="#000" stroke-width="1.5"/>
<text x="1290.4" y="140.4" font-size="25.5" text-anchor="end">0</text>
<line x1="1299.4" y1="216.7" x2="1308.4" y2="216.7" stroke="#000" stroke-width="1.5"/>
<text x="1290.4" y="225.7" font-size="25.5" text-anchor="end">−40</text>
<line x1="1299.4" y1="302.4" x2="1308.4" y2="302.4" stroke="#000" stroke-width="1.5"/>
<text x="1290.4" y="311.4" font-size="25.5" text-anchor="end">−80</text>
<line x1="1299.4" y1="88.2" x2="1304.4" y2="88.2" stroke="#000" stroke-width="1.5"/>
<line x1="1299.4" y1="174.1" x2="1304.4" y2="174.1" stroke="#000" stroke-width="1.5"/>
<line x1="1299.4" y1="259.5" x2="1304.4" y2="259.5" stroke="#000" stroke-width="1.5"/>
<line x1="1303.4" y1="307.5" x2="1303.4" y2="298.5" stroke="#000" stroke-width="1.5"/>
<text x="1303.4" y="333.6" font-size="25.5" text-anchor="middle">−0.3</text>
<line x1="1357.1" y1="307.5" x2="1357.1" y2="298.5" stroke="#000" stroke-width="1.5"/>
<text x="1357.1" y="333.6" font-size="25.5" text-anchor="middle">−0.2</text>
<line x1="1410.9" y1="307.5" x2="1410.9" y2="298.5" stroke="#000" stroke-width="1.5"/>
<text x="1410.9" y="333.6" font-size="25.5" text-anchor="middle">−0.1</text>
<line x1="1464.6" y1="307.5" x2="1464.6" y2="298.5" stroke="#000" stroke-width="1.5"/>
<text x="1464.6" y="333.6" font-size="25.5" text-anchor="middle">0.0</text>
<line x1="1518.3" y1="307.5" x2="1518.3" y2="298.5" stroke="#000" stroke-width="1.5"/>
<text x="1518.3" y="333.6" font-size="25.5" text-anchor="middle">0.1</text>
<line x1="1572.1" y1="307.5" x2="1572.1" y2="298.5" stroke="#000" stroke-width="1.5"/>
<text x="1572.1" y="333.6" font-size="25.5" text-anchor="middle">0.2</text>
<line x1="1625.8" y1="307.5" x2="1625.8" y2="298.5" stroke="#000" stroke-width="1.5"/>
<text x="1625.8" y="333.6" font-size="25.5" text-anchor="middle">0.3</text>
<text x="1466.0" y="365.7" font-size="25" text-anchor="middle"><tspan font-style="italic">k</tspan><tspan font-style="italic" font-size="17" dy="8">x</tspan><tspan dy="-8"> (</tspan><tspan font-family="Liberation Serif" font-style="italic">π</tspan><tspan dx="2">/</tspan><tspan font-style="italic" dx="1.5">a</tspan>)</text>
<text x="1224.0" y="168.3" font-size="25" text-anchor="middle" transform="rotate(-90 1224.0 168.3)"><tspan font-style="italic">E</tspan>−<tspan font-style="italic">E</tspan><tspan font-size="16" dy="8">F</tspan><tspan dy="-8"> (meV)</tspan></text>
<rect x="1579.0" y="194.3" width="17.0" height="75.3" fill="url(#cbDE)" stroke="#000" stroke-width="1"/>
<rect x="1577.0" y="192.3" width="21.0" height="79.3" fill="none" stroke="#fff" stroke-width="2.2"/>
<text x="1587.5" y="181.0" font-size="24" text-anchor="middle" font-weight="bold" fill="#fff">H</text>
<text x="1587.5" y="297.0" font-size="24" text-anchor="middle" font-weight="bold" fill="#fff">L</text>
<rect x="1303.4" y="392.8" width="322.8" height="271.2" fill="#021440"/>
<g clip-path="url(#clipe)" filter="url(#hblur)">
<rect x="1304.9" y="393.7" width="162.9" height="11.9" fill="#0c5c98"/>
<rect x="1492.5" y="393.7" width="133.3" height="11.9" fill="#0c5c98"/>
<rect x="1304.9" y="404.8" width="69.1" height="11.9" fill="#0f78b8"/>
<rect x="1374.0" y="404.8" width="192.5" height="11.9" fill="#0c5c98"/>
<rect x="1566.6" y="404.8" width="59.2" height="11.9" fill="#0f78b8"/>
<rect x="1304.9" y="415.9" width="66.6" height="11.9" fill="#0f78b8"/>
<rect x="1418.5" y="415.9" width="93.8" height="11.9" fill="#0c5c98"/>
<rect x="1566.6" y="415.9" width="59.2" height="11.9" fill="#0f78b8"/>
<rect x="1304.9" y="427.0" width="59.2" height="11.9" fill="#14b4f0"/>
<rect x="1430.8" y="427.0" width="74.0" height="11.9" fill="#0c5c98"/>
<rect x="1571.5" y="427.0" width="54.3" height="11.9" fill="#14b4f0"/>
<rect x="1304.9" y="438.1" width="19.7" height="11.9" fill="#3a5a98"/>
<rect x="1324.7" y="438.1" width="37.0" height="11.9" fill="#14b4f0"/>
<rect x="1430.8" y="438.1" width="66.6" height="11.9" fill="#0f78b8"/>
<rect x="1578.9" y="438.1" width="17.3" height="11.9" fill="#14b4f0"/>
<rect x="1596.2" y="438.1" width="29.6" height="11.9" fill="#3a5a98"/>
<rect x="1304.9" y="449.2" width="34.6" height="11.9" fill="#8a2030"/>
<rect x="1339.5" y="449.2" width="19.7" height="11.9" fill="#14b4f0"/>
<rect x="1433.3" y="449.2" width="64.2" height="11.9" fill="#0c5c98"/>
<rect x="1583.8" y="449.2" width="12.3" height="11.9" fill="#14b4f0"/>
<rect x="1596.2" y="449.2" width="29.6" height="11.9" fill="#8a2030"/>
<rect x="1304.9" y="460.3" width="34.6" height="11.9" fill="#d42020"/>
<rect x="1339.5" y="460.3" width="19.7" height="11.9" fill="#14b4f0"/>
<rect x="1438.2" y="460.3" width="59.2" height="11.9" fill="#0f78b8"/>
<rect x="1571.5" y="460.3" width="22.2" height="11.9" fill="#14b4f0"/>
<rect x="1593.7" y="460.3" width="32.1" height="11.9" fill="#d42020"/>
<rect x="1304.9" y="471.5" width="32.1" height="11.9" fill="#d42020"/>
<rect x="1337.0" y="471.5" width="19.7" height="11.9" fill="#14b4f0"/>
<rect x="1440.7" y="471.5" width="51.8" height="11.9" fill="#14b4f0"/>
<rect x="1574.0" y="471.5" width="14.8" height="11.9" fill="#14b4f0"/>
<rect x="1588.8" y="471.5" width="37.0" height="11.9" fill="#d42020"/>
<rect x="1304.9" y="482.6" width="34.6" height="11.9" fill="#d42020"/>
<rect x="1339.5" y="482.6" width="17.3" height="11.9" fill="#14b4f0"/>
<rect x="1435.8" y="482.6" width="61.7" height="11.9" fill="#14b4f0"/>
<rect x="1578.9" y="482.6" width="17.3" height="11.9" fill="#14b4f0"/>
<rect x="1596.2" y="482.6" width="29.6" height="11.9" fill="#f04a18"/>
<rect x="1304.9" y="493.7" width="27.2" height="11.9" fill="#d42020"/>
<rect x="1332.1" y="493.7" width="19.7" height="11.9" fill="#14b4f0"/>
<rect x="1438.2" y="493.7" width="49.4" height="11.9" fill="#14b4f0"/>
<rect x="1583.8" y="493.7" width="19.7" height="11.9" fill="#14b4f0"/>
<rect x="1603.6" y="493.7" width="22.2" height="11.9" fill="#d42020"/>
<rect x="1304.9" y="504.8" width="19.7" height="11.9" fill="#8a2030"/>
<rect x="1324.7" y="504.8" width="22.2" height="11.9" fill="#14b4f0"/>
<rect x="1428.3" y="504.8" width="64.2" height="11.9" fill="#14b4f0"/>
<rect x="1588.8" y="504.8" width="17.3" height="11.9" fill="#14b4f0"/>
<rect x="1606.1" y="504.8" width="19.7" height="11.9" fill="#d42020"/>
<rect x="1304.9" y="515.9" width="32.1" height="11.9" fill="#3a5a98"/>
<rect x="1420.9" y="515.9" width="76.5" height="11.9" fill="#0f78b8"/>
<rect x="1596.2" y="515.9" width="29.6" height="11.9" fill="#3a5a98"/>
<rect x="1304.9" y="527.0" width="22.2" height="11.9" fill="#14b4f0"/>
<rect x="1413.5" y="527.0" width="24.7" height="11.9" fill="#14b4f0"/>
<rect x="1472.8" y="527.0" width="34.6" height="11.9" fill="#14b4f0"/>
<rect x="1603.6" y="527.0" width="22.2" height="11.9" fill="#14b4f0"/>
<rect x="1304.9" y="538.1" width="14.8" height="13.1" fill="#14b4f0"/>
<rect x="1408.6" y="538.1" width="32.1" height="13.1" fill="#14b4f0"/>
<rect x="1440.7" y="538.1" width="32.1" height="13.1" fill="#0c5c98"/>
<rect x="1472.8" y="538.1" width="44.4" height="13.1" fill="#14b4f0"/>
<rect x="1615.9" y="538.1" width="9.9" height="13.1" fill="#14b4f0"/>
<rect x="1398.7" y="550.4" width="39.5" height="13.1" fill="#14b4f0"/>
<rect x="1480.2" y="550.4" width="42.0" height="13.1" fill="#14b4f0"/>
<rect x="1620.9" y="550.4" width="4.9" height="13.1" fill="#14b4f0"/>
<rect x="1388.9" y="562.8" width="49.4" height="11.9" fill="#14b4f0"/>
<rect x="1485.1" y="562.8" width="46.9" height="11.9" fill="#14b4f0"/>
<rect x="1383.9" y="573.9" width="46.9" height="11.9" fill="#14b4f0"/>
<rect x="1487.6" y="573.9" width="49.4" height="11.9" fill="#14b4f0"/>
<rect x="1379.0" y="585.0" width="49.4" height="11.9" fill="#14b4f0"/>
<rect x="1490.1" y="585.0" width="51.8" height="11.9" fill="#14b4f0"/>
<rect x="1374.0" y="596.1" width="51.8" height="11.9" fill="#14b4f0"/>
<rect x="1492.5" y="596.1" width="54.3" height="11.9" fill="#14b4f0"/>
<rect x="1366.6" y="607.2" width="56.8" height="11.9" fill="#14b4f0"/>
<rect x="1487.6" y="607.2" width="66.6" height="11.9" fill="#14b4f0"/>
<rect x="1364.2" y="618.3" width="64.2" height="11.9" fill="#14b4f0"/>
<rect x="1477.7" y="618.3" width="81.5" height="11.9" fill="#14b4f0"/>
<rect x="1356.8" y="629.4" width="54.3" height="11.9" fill="#14b4f0"/>
<rect x="1448.1" y="629.4" width="113.5" height="11.9" fill="#0f78b8"/>
<rect x="1356.8" y="640.5" width="81.5" height="11.9" fill="#14b4f0"/>
<rect x="1458.0" y="640.5" width="106.1" height="11.9" fill="#14b4f0"/>
<rect x="1359.2" y="651.6" width="212.3" height="13.1" fill="#0f78b8"/>
</g>
<line x1="1303.4" y1="484.3" x2="1626.2" y2="484.3" stroke="#000" stroke-width="3.2"/>
<rect x="1299.4" y="388.8" width="331.8" height="279.4" fill="none" stroke="#000" stroke-width="1.6"/>
<line x1="1299.4" y1="393.9" x2="1308.4" y2="393.9" stroke="#000" stroke-width="1.5"/>
<text x="1290.4" y="402.9" font-size="25.5" text-anchor="end">40</text>
<line x1="1299.4" y1="484.3" x2="1308.4" y2="484.3" stroke="#000" stroke-width="1.5"/>
<text x="1290.4" y="493.3" font-size="25.5" text-anchor="end">0</text>
<line x1="1299.4" y1="574.0" x2="1308.4" y2="574.0" stroke="#000" stroke-width="1.5"/>
<text x="1290.4" y="583.0" font-size="25.5" text-anchor="end">−40</text>
<line x1="1299.4" y1="663.8" x2="1308.4" y2="663.8" stroke="#000" stroke-width="1.5"/>
<text x="1290.4" y="672.8" font-size="25.5" text-anchor="end">−80</text>
<line x1="1299.4" y1="439.1" x2="1304.4" y2="439.1" stroke="#000" stroke-width="1.5"/>
<line x1="1299.4" y1="529.1" x2="1304.4" y2="529.1" stroke="#000" stroke-width="1.5"/>
<line x1="1299.4" y1="618.9" x2="1304.4" y2="618.9" stroke="#000" stroke-width="1.5"/>
<line x1="1303.4" y1="668.2" x2="1303.4" y2="659.2" stroke="#000" stroke-width="1.5"/>
<text x="1303.4" y="693.6" font-size="25.5" text-anchor="middle">−0.3</text>
<line x1="1357.1" y1="668.2" x2="1357.1" y2="659.2" stroke="#000" stroke-width="1.5"/>
<text x="1357.1" y="693.6" font-size="25.5" text-anchor="middle">−0.2</text>
<line x1="1410.9" y1="668.2" x2="1410.9" y2="659.2" stroke="#000" stroke-width="1.5"/>
<text x="1410.9" y="693.6" font-size="25.5" text-anchor="middle">−0.1</text>
<line x1="1464.6" y1="668.2" x2="1464.6" y2="659.2" stroke="#000" stroke-width="1.5"/>
<text x="1464.6" y="693.6" font-size="25.5" text-anchor="middle">0.0</text>
<line x1="1518.3" y1="668.2" x2="1518.3" y2="659.2" stroke="#000" stroke-width="1.5"/>
<text x="1518.3" y="693.6" font-size="25.5" text-anchor="middle">0.1</text>
<line x1="1572.1" y1="668.2" x2="1572.1" y2="659.2" stroke="#000" stroke-width="1.5"/>
<text x="1572.1" y="693.6" font-size="25.5" text-anchor="middle">0.2</text>
<line x1="1625.8" y1="668.2" x2="1625.8" y2="659.2" stroke="#000" stroke-width="1.5"/>
<text x="1625.8" y="693.6" font-size="25.5" text-anchor="middle">0.3</text>
<text x="1466.0" y="725.7" font-size="25" text-anchor="middle"><tspan font-style="italic">k</tspan><tspan font-style="italic" font-size="17" dy="8">x</tspan><tspan dy="-8"> (</tspan><tspan font-family="Liberation Serif" font-style="italic">π</tspan><tspan dx="2">/</tspan><tspan font-style="italic" dx="1.5">a</tspan>)</text>
<text x="1224.0" y="528.5" font-size="25" text-anchor="middle" transform="rotate(-90 1224.0 528.5)"><tspan font-style="italic">E</tspan>−<tspan font-style="italic">E</tspan><tspan font-size="16" dy="8">F</tspan><tspan dy="-8"> (meV)</tspan></text>
<rect x="1581.4" y="554.3" width="17.0" height="75.7" fill="url(#cbDE)" stroke="#000" stroke-width="1"/>
<rect x="1579.4" y="552.3" width="21.0" height="79.7" fill="none" stroke="#fff" stroke-width="2.2"/>
<text x="1589.9" y="543.0" font-size="24" text-anchor="middle" font-weight="bold" fill="#fff">H</text>
<text x="1589.9" y="656.0" font-size="24" text-anchor="middle" font-weight="bold" fill="#fff">L</text>
<line x1="1458.8" y1="69.9" x2="1500.3" y2="207.9" stroke="#f01818" stroke-width="2.6"/>
<line x1="1471.0" y1="71.0" x2="1422.1" y2="214.0" stroke="#f01818" stroke-width="2.6"/>
<path d="M1464.9,90.6 C1461.3,100.8 1450.6,131.4 1443.5,152.0 C1436.4,172.6 1426.5,201.8 1422.1,214.0 C1417.7,226.2 1419.0,220.7 1417.2,225.0 C1415.4,229.3 1413.1,234.3 1411.1,239.6 C1409.1,244.9 1406.6,250.6 1405.0,256.7 C1403.4,262.8 1402.7,268.9 1401.4,276.3 C1400.1,283.7 1397.7,296.9 1397.0,301.0" fill="none" stroke="#f01818" stroke-width="5" stroke-dasharray="4 3.6"/>
<path d="M1464.9,90.6 C1467.9,100.3 1476.7,129.4 1482.6,149.0 C1488.5,168.6 1496.5,195.2 1500.3,207.9 C1504.1,220.6 1503.2,219.3 1505.2,225.0 C1507.2,230.7 1510.1,236.7 1512.5,242.0 C1514.9,247.3 1518.0,251.6 1519.8,256.9 C1521.6,262.2 1522.1,268.6 1523.5,273.8 C1524.9,279.0 1526.2,283.5 1528.0,288.0 C1529.8,292.5 1533.4,298.8 1534.5,301.0" fill="none" stroke="#f01818" stroke-width="5" stroke-dasharray="4 3.6"/>
<line x1="1437.2" y1="416.9" x2="1514.7" y2="565.2" stroke="#f4b030" stroke-width="2.6"/>
<line x1="1500.9" y1="416.9" x2="1408.6" y2="565.2" stroke="#f4b030" stroke-width="2.6"/>
<path d="M1437.2,416.9 C1443.7,429.2 1463.1,466.3 1476.0,491.0 C1488.9,515.7 1507.4,551.2 1514.7,565.2 C1522.0,579.2 1517.7,570.5 1519.7,575.0 C1521.8,579.5 1525.0,587.0 1527.0,592.4 C1529.0,597.8 1530.3,601.9 1532.0,607.2 C1533.7,612.6 1535.3,618.7 1537.0,624.5 C1538.7,630.3 1540.0,635.4 1541.9,641.8 C1543.8,648.2 1547.4,659.5 1548.5,663.0" fill="none" stroke="#f4b030" stroke-width="5" stroke-dasharray="4 3.6"/>
<path d="M1500.9,416.9 C1493.2,429.2 1470.2,466.3 1454.8,491.0 C1439.4,515.7 1417.1,551.6 1408.6,565.2 C1400.1,578.8 1405.3,568.9 1403.7,572.6 C1402.1,576.3 1400.2,582.1 1398.7,587.5 C1397.2,592.9 1396.5,599.0 1395.0,604.7 C1393.5,610.5 1391.4,616.2 1390.0,622.0 C1388.6,627.8 1387.8,632.5 1386.4,639.3 C1385.0,646.1 1382.3,659.0 1381.5,663.0" fill="none" stroke="#f4b030" stroke-width="5" stroke-dasharray="4 3.6"/>
<line x1="1799" y1="77" x2="1894" y2="1003" stroke="#cfcfcf" stroke-width="14"/>
<line x1="1905.3" y1="88" x2="1779" y2="1005" stroke="#cfcfcf" stroke-width="14"/>
<path d="M1715.4,89.1 L1717.2,89.4 L1719.7,89.0 L1722.4,87.9 L1724.7,87.5 L1726.3,88.4 L1727.6,89.9 L1728.9,91.0 L1730.5,91.5 L1732.6,92.3 L1734.9,93.7 L1737.3,95.5 L1739.7,98.6 L1742.0,103.8 L1744.2,110.4 L1746.5,117.9 L1749.0,124.1 L1751.7,126.8 L1754.7,128.1 L1757.6,129.8 L1760.6,132.4 L1763.6,136.1 L1766.7,140.1 L1769.6,143.9 L1772.2,146.2 L1774.2,146.4 L1775.9,145.1 L1777.5,142.1 L1779.1,139.0 L1780.8,135.8 L1782.5,131.4 L1784.3,127.1 L1786.1,123.9 L1788.0,122.3 L1790.1,121.6 L1792.1,121.8 L1794.2,121.7 L1796.2,120.0 L1798.2,118.1 L1800.2,116.3 L1802.3,115.0 L1804.6,113.4 L1807.0,111.0 L1809.4,109.1 L1811.6,108.1 L1813.5,108.7 L1815.2,110.6 L1816.8,113.4 L1818.5,116.8 L1820.2,120.8 L1821.8,125.9 L1823.6,131.2 L1825.5,135.1 L1827.6,136.8 L1829.9,137.3 L1832.3,138.2 L1834.7,141.2 L1837.0,147.0 L1839.3,154.5 L1841.6,162.6 L1844.0,169.8 L1846.5,175.7 L1849.2,180.5 L1851.9,183.8 L1854.4,185.6 L1856.7,184.8 L1858.9,181.8 L1861.1,178.2 L1863.7,175.4 L1866.8,174.1 L1870.2,173.8 L1873.6,173.6 L1876.4,172.3 L1878.5,168.5 L1880.0,162.7 L1881.4,156.6 L1883.4,151.7 L1886.0,147.8 L1889.0,144.7 L1892.1,142.9 L1894.9,142.5 L1897.4,143.9 L1899.7,147.9 L1902.0,152.6 L1904.2,155.1 L1906.5,155.1 L1908.8,153.5 L1911.2,151.8 L1913.5,152.0 L1915.7,153.5 L1918.0,155.2 L1920.3,157.3 L1922.7,158.0 L1925.6,157.1 L1928.7,155.7 L1931.7,154.2 L1934.3,152.8 L1936.4,151.6 L1938.1,150.5 L1939.6,149.4 L1941.3,147.7 L1943.0,145.8 L1944.7,143.2 L1946.5,140.0 L1948.2,137.5 L1950.0,137.2 L1951.7,138.0 L1953.4,138.6 L1955.2,137.6 L1957.1,134.4 L1959.1,130.7 L1960.9,127.2 L1962.1,124.5" fill="none" stroke="#000" stroke-width="2.9" stroke-linejoin="round"/>
<path d="M1715.4,108.3 L1717.3,113.7 L1720.1,120.4 L1723.1,125.9 L1725.8,130.0 L1728.3,133.0 L1730.7,135.9 L1733.0,138.3 L1735.1,140.2 L1737.0,142.4 L1738.6,145.1 L1740.2,148.0 L1742.1,151.6 L1744.2,155.7 L1746.4,161.0 L1748.8,167.2 L1751.3,172.7 L1754.1,177.0 L1757.0,180.7 L1760.0,184.0 L1762.9,187.5 L1765.9,190.9 L1769.1,194.0 L1772.0,196.3 L1774.5,197.1 L1776.3,195.8 L1777.6,192.6 L1778.8,189.1 L1780.3,187.0 L1782.1,186.7 L1784.1,186.9 L1786.2,186.9 L1788.4,186.6 L1790.6,186.2 L1793.0,186.3 L1795.3,185.5 L1797.7,183.6 L1800.0,181.1 L1802.4,178.4 L1804.7,176.4 L1806.9,175.9 L1809.0,176.5 L1811.0,177.1 L1813.0,178.0 L1815.0,180.4 L1817.0,184.9 L1818.9,189.4 L1820.9,193.4 L1823.1,196.9 L1825.8,199.1 L1828.9,200.6 L1831.9,201.1 L1834.7,202.4 L1837.2,206.2 L1839.5,211.7 L1841.7,217.7 L1844.0,222.4 L1846.4,224.8 L1848.8,225.6 L1851.2,226.5 L1853.3,228.1 L1854.9,229.0 L1856.2,228.7 L1857.5,229.0 L1859.0,229.6 L1860.9,228.3 L1862.9,225.5 L1865.0,223.2 L1867.1,222.3 L1869.5,223.4 L1872.0,226.2 L1874.4,229.3 L1876.4,230.7 L1877.8,229.5 L1878.7,226.5 L1879.7,223.3 L1881.0,221.3 L1883.0,220.6 L1885.4,220.2 L1887.9,220.6 L1890.3,221.9 L1892.7,222.9 L1895.0,223.5 L1897.3,224.3 L1899.6,224.9 L1901.7,226.6 L1903.7,229.4 L1905.7,231.5 L1907.7,231.4 L1909.7,228.8 L1911.7,224.9 L1913.7,220.8 L1915.8,217.1 L1918.0,214.2 L1920.2,211.8 L1922.6,209.3 L1925.1,207.1 L1927.8,205.8 L1930.9,204.4 L1933.9,203.0 L1936.6,200.7 L1939.2,195.3 L1941.6,188.0 L1943.8,180.5 L1945.9,174.8 L1947.8,171.4 L1949.4,169.6 L1951.0,168.9 L1952.9,167.0 L1955.2,163.3 L1957.9,159.2 L1960.4,155.5 L1962.1,152.8" fill="none" stroke="#000" stroke-width="2.9" stroke-linejoin="round"/>
<path d="M1715.4,188.4 L1717.3,189.6 L1720.1,192.0 L1723.1,195.3 L1725.8,199.4 L1728.2,203.6 L1730.5,207.7 L1732.7,212.1 L1735.1,216.2 L1737.7,219.0 L1740.4,220.7 L1743.1,223.0 L1745.5,227.4 L1747.7,234.2 L1749.7,241.6 L1751.6,248.8 L1753.6,255.4 L1755.9,260.8 L1758.1,265.5 L1760.5,269.7 L1762.9,273.5 L1765.4,277.4 L1768.1,281.8 L1770.7,285.8 L1773.3,287.8 L1775.9,287.8 L1778.3,287.0 L1780.9,285.5 L1783.8,283.1 L1787.1,279.4 L1790.8,274.9 L1794.4,270.2 L1797.7,266.5 L1800.3,264.8 L1802.6,264.4 L1804.7,264.7 L1806.9,264.3 L1809.3,262.4 L1811.7,260.6 L1814.0,259.1 L1816.2,258.5 L1818.0,259.7 L1819.5,261.7 L1821.1,263.4 L1823.1,264.4 L1825.8,264.9 L1828.8,265.3 L1831.9,265.6 L1834.7,265.6 L1837.0,265.9 L1838.9,266.9 L1841.1,268.0 L1844.0,269.2 L1848.1,270.1 L1853.0,269.9 L1858.0,269.8 L1862.5,270.7 L1866.5,272.8 L1870.1,276.1 L1873.5,279.1 L1876.4,280.1 L1878.8,279.7 L1880.8,278.8 L1882.6,278.1 L1884.5,277.7 L1886.5,278.7 L1888.5,281.2 L1890.5,283.6 L1892.6,285.1 L1894.8,285.8 L1897.1,285.6 L1899.5,285.2 L1901.9,285.7 L1904.4,287.7 L1907.1,290.8 L1909.8,293.9 L1912.3,294.8 L1914.7,293.4 L1917.0,291.8 L1919.2,290.1 L1921.6,287.7 L1924.2,283.3 L1927.1,276.3 L1929.8,269.2 L1932.0,264.9 L1933.5,263.2 L1934.5,263.1 L1935.5,263.8 L1936.6,263.2 L1938.2,260.3 L1940.0,256.1 L1941.8,251.1 L1943.6,246.0 L1945.2,240.6 L1946.8,235.3 L1948.5,229.9 L1950.5,223.4 L1953.4,214.6 L1956.8,204.7 L1959.9,196.3 L1962.1,190.9" fill="none" stroke="#000" stroke-width="2.9" stroke-linejoin="round"/>
<path d="M1715.4,198.1 L1717.3,200.8 L1720.0,203.8 L1723.0,207.3 L1725.8,211.4 L1728.2,216.3 L1730.5,221.8 L1732.8,227.3 L1735.1,232.5 L1737.5,236.8 L1739.9,241.3 L1742.2,246.0 L1744.4,250.4 L1746.3,255.1 L1748.0,260.3 L1749.6,264.7 L1751.3,268.9 L1753.0,274.4 L1754.7,280.3 L1756.4,285.4 L1758.3,290.1 L1760.4,295.7 L1762.6,301.8 L1765.0,307.7 L1767.5,312.9 L1770.4,317.0 L1773.6,320.4 L1776.6,323.1 L1779.1,324.7 L1780.7,325.9 L1781.6,327.0 L1782.5,327.2 L1783.8,327.4 L1785.8,327.8 L1788.3,327.7 L1790.7,327.3 L1793.0,327.4 L1794.9,327.1 L1796.6,325.5 L1798.3,324.2 L1800.0,323.7 L1801.7,323.2 L1803.3,322.7 L1805.0,321.8 L1806.9,320.1 L1809.1,318.5 L1811.4,316.8 L1813.8,315.3 L1816.2,314.5 L1818.5,314.9 L1820.9,316.3 L1823.2,318.2 L1825.5,319.7 L1827.8,320.6 L1830.1,321.1 L1832.4,320.9 L1834.7,320.3 L1836.9,319.6 L1839.1,318.9 L1841.3,317.9 L1844.0,317.4 L1847.1,318.4 L1850.5,320.1 L1854.2,322.0 L1857.9,323.2 L1862.0,323.1 L1866.4,322.5 L1870.7,322.4 L1874.1,323.2 L1876.3,325.1 L1877.7,327.9 L1879.0,331.6 L1881.0,335.1 L1884.1,338.5 L1887.9,343.0 L1891.7,347.6 L1895.0,350.8 L1897.4,352.9 L1899.3,354.0 L1901.1,354.1 L1903.1,353.9 L1905.6,353.4 L1908.2,351.8 L1910.9,349.8 L1913.5,348.2 L1915.9,346.0 L1918.3,343.1 L1920.6,339.0 L1922.7,334.7 L1924.6,331.2 L1926.3,327.5 L1928.0,323.1 L1929.7,318.7 L1931.4,314.8 L1932.9,310.8 L1934.7,306.3 L1937.0,299.6 L1940.0,290.6 L1943.5,280.2 L1947.1,268.3 L1950.5,255.3 L1953.8,240.2 L1957.1,223.9 L1960.0,209.7 L1962.0,199.7" fill="none" stroke="#000" stroke-width="2.9" stroke-linejoin="round"/>
<path d="M1715.4,227.8 L1717.3,232.5 L1720.0,238.7 L1723.0,246.0 L1725.8,253.1 L1728.2,259.5 L1730.5,266.0 L1732.7,272.2 L1735.0,278.1 L1737.3,283.5 L1739.6,288.6 L1741.9,294.2 L1744.4,301.8 L1747.2,312.4 L1750.2,324.3 L1753.2,335.7 L1756.0,346.0 L1758.5,353.8 L1760.7,359.8 L1762.9,363.7 L1765.2,366.9 L1767.5,370.6 L1769.7,374.1 L1772.0,376.4 L1774.5,377.4 L1777.2,377.3 L1780.0,376.3 L1782.9,374.5 L1786.0,372.5 L1789.3,370.8 L1792.9,369.8 L1796.4,368.4 L1800.0,366.0 L1803.6,363.2 L1807.2,360.7 L1810.8,358.4 L1813.9,356.8 L1816.4,357.2 L1818.5,358.6 L1820.6,359.8 L1823.1,360.7 L1826.3,361.4 L1829.9,362.4 L1833.6,363.4 L1837.0,364.3 L1840.1,365.8 L1843.1,367.4 L1845.9,368.3 L1848.6,369.8 L1851.0,372.0 L1853.1,373.5 L1855.3,375.0 L1857.9,377.3 L1861.0,379.5 L1864.4,381.5 L1868.1,382.7 L1871.8,383.8 L1875.7,385.2 L1879.9,386.6 L1884.1,387.7 L1888.0,388.9 L1891.7,390.3 L1895.2,392.0 L1898.6,393.7 L1901.9,394.3 L1905.0,393.5 L1908.0,391.9 L1910.8,390.5 L1913.5,389.5 L1915.9,388.1 L1918.0,385.1 L1920.1,381.8 L1922.7,378.2 L1926.0,373.9 L1929.6,369.2 L1933.3,364.2 L1936.6,358.4 L1939.4,350.4 L1941.8,341.0 L1944.0,332.0 L1945.9,324.6 L1947.2,318.4 L1948.1,312.7 L1949.0,307.4 L1950.5,301.6 L1953.2,293.4 L1956.5,283.2 L1959.8,273.5 L1962.0,266.8" fill="none" stroke="#000" stroke-width="2.9" stroke-linejoin="round"/>
<path d="M1715.4,284.5 L1716.4,287.4 L1717.9,291.3 L1719.5,295.1 L1721.2,299.9 L1722.8,305.3 L1724.3,310.7 L1726.1,316.7 L1728.2,323.3 L1730.8,330.8 L1733.7,339.1 L1736.7,347.9 L1739.7,357.7 L1742.7,368.7 L1745.8,379.5 L1748.7,389.5 L1751.3,397.8 L1753.3,403.5 L1754.9,407.3 L1756.5,410.0 L1758.3,413.5 L1760.5,418.1 L1762.9,422.2 L1765.3,425.9 L1767.5,429.3 L1769.4,431.7 L1771.1,433.1 L1772.8,433.4 L1774.5,433.3 L1776.2,433.3 L1777.8,432.5 L1779.5,430.9 L1781.4,429.7 L1783.6,429.9 L1786.0,430.7 L1788.5,431.7 L1790.7,431.3 L1792.6,429.5 L1794.4,427.9 L1796.0,425.7 L1797.7,424.2 L1799.4,423.6 L1801.0,422.7 L1802.7,422.2 L1804.6,421.4 L1806.8,420.4 L1809.2,420.4 L1811.7,420.6 L1813.9,420.6 L1815.7,421.6 L1817.3,424.3 L1819.0,426.8 L1820.8,428.5 L1822.8,429.3 L1825.0,428.6 L1827.4,427.5 L1830.1,427.1 L1833.3,427.0 L1836.8,427.4 L1840.4,428.1 L1844.0,428.6 L1847.6,428.9 L1851.2,429.2 L1854.7,429.7 L1857.9,430.7 L1860.4,431.8 L1862.6,432.8 L1864.7,433.9 L1867.2,435.2 L1870.4,436.3 L1874.1,437.6 L1877.8,439.3 L1881.0,440.5 L1883.6,441.8 L1885.9,444.2 L1888.1,447.1 L1890.3,449.1 L1892.6,450.1 L1895.0,451.0 L1897.3,452.4 L1899.6,453.3 L1901.9,453.0 L1904.2,452.0 L1906.5,451.0 L1908.8,450.1 L1911.1,449.2 L1913.4,447.9 L1915.8,446.6 L1918.1,444.9 L1920.4,440.9 L1922.8,435.7 L1925.1,430.6 L1927.4,425.2 L1929.7,419.2 L1931.9,412.8 L1934.1,405.3 L1936.6,397.1 L1939.4,387.9 L1942.4,378.2 L1945.4,368.3 L1948.2,358.2 L1950.8,347.9 L1953.3,338.1 L1955.6,329.7 L1957.5,323.4 L1959.1,319.5 L1960.3,317.3 L1961.3,315.7 L1962.0,314.0" fill="none" stroke="#000" stroke-width="2.9" stroke-linejoin="round"/>
<path d="M1715.4,340.8 L1717.3,345.1 L1720.0,351.0 L1723.0,357.6 L1725.8,364.6 L1728.1,370.9 L1730.4,377.4 L1732.6,384.8 L1735.1,392.7 L1737.9,401.8 L1740.9,412.1 L1743.9,423.0 L1746.7,434.0 L1749.2,443.8 L1751.5,451.8 L1753.7,458.9 L1756.0,466.2 L1758.3,472.6 L1760.5,477.6 L1762.7,481.6 L1765.2,485.7 L1768.0,490.8 L1771.1,496.6 L1774.2,502.1 L1776.8,505.9 L1778.7,507.3 L1780.2,507.2 L1781.7,506.2 L1783.8,505.3 L1786.9,504.1 L1790.6,501.8 L1794.4,499.2 L1797.7,496.6 L1800.3,494.6 L1802.6,493.5 L1804.7,492.3 L1806.9,491.1 L1809.2,490.2 L1811.5,489.2 L1813.9,488.3 L1816.2,487.3 L1818.5,487.0 L1820.9,487.2 L1823.2,486.8 L1825.5,486.5 L1827.8,486.2 L1830.1,485.8 L1832.4,485.3 L1834.7,485.2 L1837.0,485.6 L1839.3,485.3 L1841.7,484.4 L1844.0,484.2 L1846.3,484.5 L1848.6,484.6 L1850.9,484.9 L1853.2,485.3 L1855.5,485.9 L1857.8,486.8 L1860.2,487.5 L1862.5,487.7 L1864.8,488.2 L1867.2,489.2 L1869.5,490.1 L1871.8,491.4 L1874.1,492.5 L1876.4,492.6 L1878.7,492.9 L1881.0,493.7 L1883.3,494.2 L1885.5,494.5 L1887.8,495.7 L1890.3,497.3 L1893.0,498.5 L1896.0,500.0 L1898.9,501.3 L1901.9,502.0 L1904.9,502.8 L1907.9,503.5 L1910.8,503.2 L1913.5,501.6 L1916.0,499.6 L1918.2,497.9 L1920.4,495.0 L1922.7,490.7 L1925.0,484.7 L1927.3,477.1 L1929.7,469.3 L1932.0,462.5 L1934.3,455.8 L1936.7,448.4 L1939.0,441.3 L1941.3,434.2 L1943.6,426.5 L1945.8,417.8 L1948.0,408.2 L1950.5,399.1 L1953.5,390.3 L1956.8,380.9 L1959.9,372.5 L1962.0,367.4" fill="none" stroke="#000" stroke-width="2.9" stroke-linejoin="round"/>
<path d="M1715.4,397.1 L1717.2,401.5 L1719.9,407.4 L1722.9,414.8 L1725.8,422.7 L1728.7,431.6 L1731.7,441.7 L1734.6,452.5 L1737.4,462.0 L1739.9,470.8 L1742.2,480.1 L1744.4,488.9 L1746.7,496.5 L1749.0,503.7 L1751.2,510.4 L1753.5,515.9 L1756.0,521.2 L1758.8,528.2 L1761.9,535.4 L1764.9,541.4 L1767.5,545.8 L1769.5,548.5 L1771.1,550.3 L1772.7,550.7 L1774.5,550.7 L1776.6,551.2 L1778.7,551.1 L1781.1,550.3 L1783.8,550.0 L1787.1,550.2 L1790.9,549.7 L1794.6,548.7 L1797.7,548.4 L1799.9,548.3 L1801.6,547.5 L1803.0,546.6 L1804.6,545.8 L1806.2,545.3 L1807.7,544.9 L1809.4,544.0 L1811.6,543.3 L1814.7,543.2 L1818.4,542.9 L1822.2,542.6 L1825.5,542.1 L1828.1,541.3 L1830.4,541.0 L1832.5,540.4 L1834.7,539.7 L1837.0,540.1 L1839.3,540.9 L1841.7,540.8 L1844.0,540.1 L1846.2,539.8 L1848.4,540.5 L1850.6,541.5 L1853.2,542.8 L1856.3,544.2 L1859.7,544.8 L1863.0,545.1 L1866.0,545.5 L1868.3,546.3 L1870.1,547.5 L1871.9,549.2 L1874.1,551.3 L1876.8,552.7 L1879.8,554.8 L1882.9,557.7 L1885.7,560.0 L1888.1,562.5 L1890.1,565.6 L1892.3,567.9 L1895.0,569.6 L1898.5,571.7 L1902.6,573.3 L1906.6,573.9 L1910.0,573.9 L1912.5,572.5 L1914.4,569.5 L1916.2,565.7 L1918.1,562.0 L1920.4,558.2 L1922.7,553.4 L1925.1,547.4 L1927.4,541.0 L1929.6,533.9 L1931.7,525.9 L1933.8,517.8 L1936.0,509.8 L1938.2,502.4 L1940.5,494.9 L1942.8,487.1 L1945.0,479.6 L1947.0,473.1 L1949.0,467.6 L1951.0,461.9 L1953.0,455.2 L1955.4,447.2 L1958.0,438.4 L1960.4,430.4 L1962.0,424.6" fill="none" stroke="#000" stroke-width="2.9" stroke-linejoin="round"/>
<path d="M1715.4,453.1 L1717.8,458.9 L1721.4,467.5 L1725.1,476.6 L1728.2,484.7 L1730.3,491.8 L1732.0,498.4 L1733.4,504.3 L1735.0,510.3 L1736.7,517.4 L1738.4,524.8 L1740.2,532.0 L1742.1,539.6 L1744.3,548.5 L1746.7,558.3 L1749.1,567.8 L1751.3,575.3 L1753.2,579.5 L1754.8,582.3 L1756.4,585.5 L1758.3,588.7 L1760.4,592.1 L1762.8,596.3 L1765.1,599.8 L1767.5,602.3 L1769.8,604.0 L1772.0,605.3 L1774.3,606.9 L1776.8,608.2 L1779.6,607.8 L1782.6,606.6 L1785.6,605.5 L1788.4,604.5 L1790.9,603.4 L1793.2,602.4 L1795.4,601.4 L1797.7,600.4 L1800.0,599.3 L1802.3,598.3 L1804.6,597.7 L1806.9,597.1 L1809.2,596.2 L1811.5,595.2 L1813.9,594.5 L1816.2,594.6 L1818.5,594.8 L1820.9,595.2 L1823.2,596.0 L1825.5,596.6 L1827.8,596.7 L1830.1,596.5 L1832.4,596.0 L1834.7,595.2 L1837.0,594.6 L1839.2,594.7 L1841.5,594.8 L1844.0,594.6 L1846.7,595.1 L1849.7,596.8 L1852.6,598.4 L1855.6,599.3 L1858.6,599.6 L1861.5,599.4 L1864.5,599.4 L1867.2,599.4 L1869.7,598.6 L1872.1,598.0 L1874.3,598.3 L1876.4,598.8 L1878.1,599.8 L1879.6,602.1 L1881.2,605.0 L1883.4,607.3 L1886.4,609.3 L1889.9,611.8 L1893.7,614.9 L1897.3,617.1 L1900.9,618.2 L1904.5,619.0 L1908.1,619.9 L1911.2,620.0 L1913.8,618.0 L1916.1,614.7 L1918.2,611.4 L1920.4,607.8 L1922.7,603.7 L1925.0,599.5 L1927.4,595.7 L1929.7,591.0 L1932.1,584.6 L1934.5,577.9 L1936.8,570.9 L1939.0,563.7 L1940.9,557.0 L1942.5,551.5 L1944.1,546.6 L1945.9,540.7 L1947.8,533.8 L1949.9,525.9 L1952.0,517.6 L1954.0,509.5 L1956.2,501.6 L1958.5,494.4 L1960.6,487.7 L1962.0,482.0" fill="none" stroke="#000" stroke-width="2.9" stroke-linejoin="round"/>
<path d="M1715.4,509.5 L1717.2,514.9 L1719.9,521.9 L1722.9,530.0 L1725.8,539.3 L1728.7,550.6 L1731.7,563.4 L1734.6,575.6 L1737.4,586.8 L1739.9,596.9 L1742.2,605.7 L1744.4,613.3 L1746.7,619.4 L1749.0,623.9 L1751.2,627.7 L1753.5,631.3 L1756.0,635.2 L1758.6,639.0 L1761.3,641.5 L1764.2,644.0 L1767.5,646.5 L1771.3,649.0 L1775.5,650.6 L1779.8,651.4 L1783.8,651.8 L1787.4,651.2 L1790.9,649.6 L1794.3,647.5 L1797.7,645.2 L1801.2,643.2 L1804.7,641.4 L1808.1,639.4 L1811.6,637.9 L1815.1,636.3 L1818.7,634.0 L1822.2,632.0 L1825.5,631.0 L1828.6,630.9 L1831.7,631.5 L1834.5,632.8 L1837.0,634.0 L1839.0,633.8 L1840.6,633.1 L1842.2,632.9 L1844.0,633.2 L1846.0,633.9 L1848.2,634.8 L1850.5,635.7 L1853.2,637.0 L1856.5,638.7 L1860.2,640.6 L1863.9,642.5 L1867.2,643.9 L1869.8,644.6 L1872.1,644.6 L1874.2,644.5 L1876.4,645.4 L1878.7,647.3 L1880.9,649.2 L1883.2,651.2 L1885.7,653.2 L1888.4,654.5 L1891.4,655.9 L1894.4,657.1 L1897.3,657.0 L1900.2,656.7 L1903.2,657.4 L1906.1,657.0 L1908.8,655.2 L1911.3,654.2 L1913.6,653.1 L1915.8,650.8 L1918.1,648.0 L1920.4,644.6 L1922.8,640.0 L1925.1,635.0 L1927.4,630.2 L1929.7,625.2 L1932.0,619.5 L1934.3,613.1 L1936.6,606.4 L1938.9,599.5 L1941.2,592.1 L1943.6,584.4 L1945.9,576.7 L1948.3,569.1 L1950.7,561.6 L1953.1,554.4 L1955.2,547.2 L1957.2,539.9 L1959.2,533.4 L1960.8,528.2 L1962.0,524.0" fill="none" stroke="#000" stroke-width="2.9" stroke-linejoin="round"/>
<path d="M1715.4,589.4 L1717.2,594.1 L1719.9,600.8 L1722.9,608.7 L1725.8,616.6 L1728.6,625.7 L1731.5,635.5 L1734.5,644.4 L1737.4,652.6 L1740.3,660.3 L1743.2,668.0 L1746.1,675.5 L1749.0,681.8 L1751.8,686.5 L1754.7,689.9 L1757.5,693.6 L1760.6,698.0 L1764.0,701.8 L1767.5,705.2 L1771.1,707.8 L1774.5,709.3 L1777.7,709.3 L1780.7,708.4 L1783.6,707.1 L1786.1,705.7 L1788.0,705.2 L1789.5,704.6 L1791.1,703.1 L1793.0,701.8 L1795.7,700.4 L1798.8,698.2 L1801.9,696.2 L1804.6,694.8 L1806.5,692.9 L1808.0,691.2 L1809.5,690.8 L1811.6,690.3 L1814.6,689.2 L1818.3,689.2 L1822.0,690.0 L1825.5,690.8 L1828.5,691.6 L1831.4,691.5 L1834.2,691.3 L1837.0,691.7 L1839.8,692.1 L1842.5,693.0 L1845.4,694.6 L1848.6,695.7 L1852.5,695.9 L1856.8,697.2 L1861.1,698.8 L1864.8,699.5 L1867.6,699.4 L1869.9,698.4 L1871.9,697.4 L1874.1,697.3 L1876.3,698.7 L1878.5,701.0 L1880.8,702.7 L1883.4,704.2 L1886.5,705.0 L1889.9,705.1 L1893.6,705.3 L1897.3,706.3 L1901.4,707.9 L1905.7,709.4 L1909.9,710.5 L1913.5,710.3 L1916.3,709.1 L1918.5,707.7 L1920.6,705.4 L1922.7,701.7 L1925.0,697.6 L1927.3,693.7 L1929.7,689.5 L1932.0,684.0 L1934.3,677.3 L1936.5,670.6 L1938.8,663.8 L1941.3,656.3 L1944.1,647.7 L1947.1,639.2 L1950.1,631.7 L1952.9,624.8 L1955.6,617.6 L1958.2,610.9 L1960.4,605.9 L1962.0,602.4" fill="none" stroke="#000" stroke-width="2.9" stroke-linejoin="round"/>
<path d="M1715.4,646.5 L1717.3,650.7 L1720.0,657.1 L1723.0,664.9 L1725.8,672.8 L1728.2,679.8 L1730.5,687.1 L1732.8,694.5 L1735.1,701.9 L1737.4,710.1 L1739.8,718.7 L1742.1,726.6 L1744.4,733.2 L1746.7,738.1 L1749.0,741.9 L1751.3,745.2 L1753.6,748.1 L1755.9,750.0 L1758.2,751.1 L1760.6,751.2 L1762.9,751.0 L1765.2,751.1 L1767.4,751.2 L1769.7,751.4 L1772.2,751.1 L1775.0,749.0 L1778.0,745.5 L1781.0,742.6 L1783.8,741.1 L1786.2,740.3 L1788.3,740.1 L1790.4,740.5 L1793.0,740.5 L1796.3,740.0 L1799.9,739.5 L1803.6,739.1 L1806.9,738.7 L1809.4,738.5 L1811.6,738.9 L1813.7,738.7 L1816.2,738.3 L1819.4,738.9 L1822.9,739.8 L1826.5,740.1 L1830.1,740.1 L1833.6,739.5 L1837.2,738.5 L1840.7,737.6 L1844.0,737.2 L1847.1,737.7 L1849.9,739.0 L1852.8,740.6 L1855.6,741.9 L1858.4,742.7 L1861.3,742.9 L1864.1,743.1 L1867.2,743.8 L1870.6,744.5 L1874.2,745.3 L1877.8,745.8 L1881.0,745.5 L1883.5,745.2 L1885.6,745.7 L1887.8,746.5 L1890.3,747.2 L1893.5,748.2 L1897.0,749.2 L1900.6,749.8 L1904.2,749.7 L1907.8,749.1 L1911.4,748.8 L1914.9,748.6 L1918.1,748.0 L1920.8,746.3 L1923.0,743.5 L1925.2,740.4 L1927.4,737.3 L1929.7,734.4 L1932.0,731.2 L1934.3,727.1 L1936.6,722.8 L1938.9,718.8 L1941.2,714.1 L1943.6,709.1 L1945.9,704.7 L1948.3,700.4 L1950.7,695.8 L1953.1,691.6 L1955.2,688.1 L1957.2,684.5 L1959.2,680.1 L1960.8,676.4 L1962.0,674.4" fill="none" stroke="#000" stroke-width="2.9" stroke-linejoin="round"/>
<path d="M1715.4,728.0 L1717.7,733.8 L1720.9,742.1 L1724.6,751.2 L1728.2,759.9 L1731.6,768.2 L1735.1,776.4 L1738.6,784.6 L1742.1,791.5 L1745.7,795.6 L1749.3,798.0 L1752.9,799.9 L1756.0,801.9 L1758.6,802.6 L1760.9,801.7 L1763.0,800.3 L1765.2,799.4 L1767.5,799.3 L1769.8,799.0 L1772.2,798.9 L1774.5,798.9 L1776.8,798.9 L1779.0,799.6 L1781.3,800.0 L1783.8,800.0 L1786.6,799.5 L1789.5,798.9 L1792.5,798.9 L1795.3,798.7 L1797.8,798.9 L1800.1,800.2 L1802.3,801.1 L1804.6,802.0 L1806.9,802.8 L1809.3,803.1 L1811.6,803.5 L1813.9,804.0 L1816.2,804.5 L1818.4,805.0 L1820.7,805.6 L1823.1,806.3 L1825.6,807.7 L1828.3,809.8 L1831.0,811.4 L1833.6,811.9 L1836.2,811.3 L1838.7,809.4 L1841.3,806.7 L1844.0,804.8 L1846.9,803.6 L1849.9,803.1 L1852.8,802.8 L1855.6,802.2 L1858.1,801.5 L1860.3,801.3 L1862.5,801.0 L1864.8,800.4 L1867.1,798.8 L1869.3,796.8 L1871.6,795.8 L1874.1,795.1 L1876.9,795.2 L1879.9,796.7 L1882.9,798.8 L1885.7,800.4 L1888.1,801.5 L1890.4,802.6 L1892.6,803.6 L1895.0,805.0 L1897.7,805.8 L1900.6,806.3 L1903.6,807.2 L1906.5,808.1 L1909.4,808.2 L1912.4,808.5 L1915.4,809.3 L1918.1,809.5 L1920.6,809.6 L1923.0,810.1 L1925.3,810.4 L1927.4,810.1 L1929.2,808.7 L1930.8,806.8 L1932.5,804.6 L1934.3,802.4 L1936.4,800.2 L1938.7,797.4 L1941.1,794.3 L1943.6,790.6 L1946.5,785.7 L1949.6,780.0 L1952.6,774.3 L1955.2,770.0 L1957.4,766.2 L1959.3,762.8 L1960.9,760.1 L1962.0,757.5" fill="none" stroke="#000" stroke-width="2.9" stroke-linejoin="round"/>
<path d="M1715.4,810.2 L1717.3,812.9 L1720.0,816.7 L1723.0,821.4 L1725.8,825.9 L1728.1,829.4 L1730.4,832.9 L1732.6,836.6 L1735.1,839.5 L1737.8,842.8 L1740.7,847.3 L1743.7,851.8 L1746.7,854.5 L1749.8,855.7 L1753.0,856.6 L1756.2,857.9 L1759.4,858.4 L1762.7,857.0 L1766.0,855.6 L1769.3,855.0 L1772.2,854.4 L1774.8,854.3 L1777.2,854.6 L1779.3,855.0 L1781.4,855.4 L1783.3,854.9 L1784.9,853.5 L1786.5,852.2 L1788.4,851.3 L1790.5,850.6 L1792.8,849.9 L1795.2,849.2 L1797.7,849.0 L1800.5,848.7 L1803.5,847.9 L1806.4,847.0 L1809.2,846.5 L1811.6,846.6 L1813.8,847.5 L1816.1,848.5 L1818.5,849.2 L1821.2,849.9 L1824.2,851.1 L1827.1,852.8 L1830.1,853.7 L1833.1,853.5 L1836.1,853.1 L1839.0,852.4 L1841.7,852.0 L1843.9,852.6 L1845.8,853.3 L1847.7,853.8 L1849.8,854.2 L1852.2,854.1 L1854.6,853.7 L1857.3,852.8 L1860.2,851.5 L1863.5,849.8 L1867.2,847.5 L1870.9,846.1 L1874.1,845.9 L1876.8,846.6 L1879.2,847.7 L1881.4,848.6 L1883.4,849.5 L1885.2,850.5 L1886.8,851.2 L1888.5,851.3 L1890.3,851.0 L1892.5,851.8 L1895.0,853.7 L1897.4,856.0 L1899.6,858.0 L1901.4,859.3 L1903.0,860.4 L1904.7,860.9 L1906.5,861.4 L1908.6,863.4 L1910.9,866.0 L1913.3,868.4 L1915.8,869.5 L1918.6,869.0 L1921.6,867.9 L1924.6,866.1 L1927.4,863.9 L1929.9,861.8 L1932.1,859.4 L1934.3,856.3 L1936.6,853.3 L1938.9,850.4 L1941.2,846.6 L1943.6,842.7 L1945.9,839.3 L1948.3,836.1 L1950.7,833.4 L1953.1,830.8 L1955.2,828.4 L1957.2,826.3 L1959.2,824.9 L1960.8,824.0 L1962.0,822.9" fill="none" stroke="#000" stroke-width="2.9" stroke-linejoin="round"/>
<path d="M1715.4,890.6 L1716.8,892.8 L1718.7,895.1 L1721.0,897.7 L1723.5,899.5 L1726.2,901.6 L1729.3,904.2 L1732.4,906.3 L1735.1,908.2 L1737.3,909.8 L1739.1,910.9 L1740.9,912.2 L1743.2,913.5 L1746.2,914.6 L1749.5,915.1 L1752.9,915.2 L1756.0,915.4 L1758.4,914.8 L1760.5,913.1 L1762.7,911.4 L1765.2,910.0 L1768.5,909.5 L1772.1,909.6 L1775.8,909.7 L1779.1,909.6 L1781.7,909.0 L1784.0,907.9 L1786.2,906.8 L1788.4,905.5 L1790.8,904.5 L1793.2,904.2 L1795.5,904.0 L1797.7,903.5 L1799.5,904.1 L1801.0,905.9 L1802.6,908.0 L1804.6,909.1 L1807.2,909.5 L1810.1,910.0 L1813.2,910.6 L1816.2,911.5 L1819.2,912.8 L1822.2,915.0 L1825.1,917.5 L1827.8,918.6 L1830.1,918.6 L1832.1,918.9 L1834.0,919.4 L1835.9,919.0 L1837.8,918.0 L1839.7,916.7 L1841.7,914.9 L1844.0,913.7 L1846.7,912.7 L1849.6,911.1 L1852.6,909.8 L1855.6,908.9 L1858.5,907.6 L1861.4,905.9 L1864.3,905.0 L1867.2,904.8 L1870.1,904.1 L1873.0,903.2 L1875.9,902.5 L1878.7,902.0 L1881.5,901.7 L1884.2,901.1 L1886.8,900.0 L1889.2,900.1 L1891.4,901.3 L1893.3,902.9 L1895.3,904.9 L1897.3,906.9 L1899.5,908.5 L1901.8,909.3 L1904.2,909.9 L1906.5,911.3 L1908.9,913.2 L1911.3,915.4 L1913.6,917.9 L1915.8,920.4 L1917.7,922.8 L1919.3,924.4 L1920.9,925.5 L1922.7,927.3 L1924.7,928.9 L1926.7,929.6 L1928.8,930.4 L1930.9,931.1 L1932.9,930.4 L1934.7,928.7 L1936.7,926.9 L1939.0,925.0 L1941.6,922.4 L1944.5,919.3 L1947.5,916.1 L1950.5,912.8 L1953.6,909.0 L1957.0,905.3 L1959.9,902.3 L1962.0,900.2" fill="none" stroke="#000" stroke-width="2.9" stroke-linejoin="round"/>
<path d="M1715.4,972.7 L1716.8,973.4 L1718.9,974.6 L1721.2,976.1 L1723.5,977.7 L1725.7,980.0 L1728.1,982.2 L1730.4,984.0 L1732.8,985.6 L1735.2,986.7 L1737.5,987.3 L1739.9,987.7 L1742.1,987.7 L1744.2,987.8 L1746.1,987.0 L1748.0,985.8 L1750.2,985.5 L1752.6,985.1 L1755.3,983.3 L1757.9,980.7 L1760.6,978.4 L1763.2,975.9 L1765.8,972.9 L1768.4,970.5 L1771.0,968.3 L1773.6,966.7 L1776.3,966.3 L1778.9,967.0 L1781.4,968.0 L1783.8,967.4 L1786.2,965.6 L1788.5,965.4 L1790.7,966.3 L1792.8,966.5 L1794.7,966.6 L1796.6,967.5 L1798.8,968.9 L1801.3,971.3 L1803.9,974.4 L1806.6,977.8 L1809.2,981.0 L1811.6,983.1 L1814.0,984.9 L1816.3,986.5 L1818.5,987.9 L1820.6,989.7 L1822.5,991.5 L1824.5,993.2 L1826.6,995.5 L1828.9,997.4 L1831.2,998.7 L1833.6,1000.3 L1835.9,1001.9 L1838.0,1001.6 L1840.1,1000.2 L1842.1,999.2 L1844.0,998.4 L1845.8,997.5 L1847.5,996.1 L1849.1,994.8 L1850.9,993.9 L1852.8,993.7 L1854.9,993.7 L1856.9,993.2 L1859.0,992.0 L1861.0,989.9 L1863.0,986.9 L1865.0,983.2 L1867.2,979.9 L1869.6,977.9 L1872.3,976.1 L1874.9,974.1 L1877.6,973.0 L1880.2,972.6 L1882.8,972.8 L1885.4,973.7 L1888.0,974.1 L1890.7,973.6 L1893.3,973.1 L1896.0,972.8 L1898.4,973.3 L1900.5,975.0 L1902.4,977.6 L1904.4,980.4 L1906.5,982.8 L1908.9,984.9 L1911.4,987.6 L1914.1,989.9 L1917.0,991.3 L1920.4,992.6 L1924.1,993.8 L1927.8,994.3 L1930.9,995.3 L1933.3,996.4 L1935.2,996.4 L1937.0,995.4 L1939.0,995.0 L1941.1,994.4 L1943.2,992.1 L1945.6,989.3 L1948.2,987.7 L1951.7,985.8 L1955.7,983.0 L1959.4,980.2 L1962.0,978.2" fill="none" stroke="#000" stroke-width="2.9" stroke-linejoin="round"/>
<rect x="1710.5" y="24.0" width="256.5" height="1004.0" fill="none" stroke="#000" stroke-width="2.6"/>
<line x1="1730.5" y1="1028.0" x2="1730.5" y2="1009.0" stroke="#000" stroke-width="2.8"/>
<line x1="1839.5" y1="1028.0" x2="1839.5" y2="1009.0" stroke="#000" stroke-width="2.8"/>
<line x1="1948.5" y1="1028.0" x2="1948.5" y2="1009.0" stroke="#000" stroke-width="2.8"/>
<line x1="1785.0" y1="1028.0" x2="1785.0" y2="1018.0" stroke="#000" stroke-width="2.8"/>
<line x1="1894.0" y1="1028.0" x2="1894.0" y2="1018.0" stroke="#000" stroke-width="2.8"/>
<text x="1730.5" y="1059.0" font-size="25.5" text-anchor="middle">−0.2</text>
<text x="1839.5" y="1059.0" font-size="25.5" text-anchor="middle">0.0</text>
<text x="1948.5" y="1059.0" font-size="25.5" text-anchor="middle">0.2</text>
<text x="1838.0" y="1100.6" font-size="25" text-anchor="middle"><tspan font-style="italic">k</tspan><tspan font-style="italic" font-size="17" dy="8">x</tspan><tspan dy="-8"> (</tspan><tspan font-family="Liberation Serif" font-style="italic">π</tspan><tspan dx="2">/</tspan><tspan font-style="italic" dx="1.5">a</tspan>)</text>
<text x="1691.5" y="530.0" font-size="25.2" text-anchor="middle" transform="rotate(-90 1691.5 530.0)">Intensity (a.u.)</text>
<text x="2001.0" y="145.0" font-size="25.5" text-anchor="middle">40</text>
<text x="2001.0" y="442.0" font-size="25.5" text-anchor="middle">5</text>
<text x="2001.0" y="929.0" font-size="25.5" text-anchor="middle">−30</text>
<text x="2001.0" y="999.0" font-size="25.5" text-anchor="middle">−35</text>
<polygon points="2001,179.8 1987,208.7 2016,208.7" fill="#000"/>
<rect x="1997.2" y="207.0" width="8.5" height="180.0" fill="#000"/>
<rect x="1997.6" y="469.4" width="8.5" height="360.0" fill="#000"/>
<polygon points="1987.4,828 2016.2,828 2001.8,855.6" fill="#000"/>
<text x="2026.0" y="648.0" font-size="25" text-anchor="middle" transform="rotate(90 2026.0 648.0)"><tspan font-style="italic">E</tspan>−<tspan font-style="italic">E</tspan><tspan font-size="16" dy="8">F</tspan><tspan dy="-8"> (meV)</tspan></text>
<line x1="1320.0" y1="798.4" x2="1320.0" y2="1031.7" stroke="#f01818" stroke-width="2.2" stroke-dasharray="7 5"/>
<line x1="1299.0" y1="790.4" x2="1307.0" y2="790.4" stroke="#f01818" stroke-width="2.2"/>
<line x1="1299.0" y1="843.2" x2="1367.1" y2="843.2" stroke="#1a1aee" stroke-width="2.2" stroke-dasharray="7 5"/>
<line x1="1367.1" y1="843.2" x2="1367.1" y2="1041.7" stroke="#1a1aee" stroke-width="2.2" stroke-dasharray="7 5"/>
<line x1="1299.0" y1="938.0" x2="1508.4" y2="937.0" stroke="#f59a10" stroke-width="2.2" stroke-dasharray="7 5"/>
<line x1="1508.4" y1="935.8" x2="1508.4" y2="1041.7" stroke="#f59a10" stroke-width="2.2" stroke-dasharray="7 5"/>
<line x1="1299.0" y1="994.9" x2="1602.5" y2="994.9" stroke="#12b4ee" stroke-width="2.2" stroke-dasharray="7 5"/>
<line x1="1602.5" y1="1007.0" x2="1602.5" y2="1041.7" stroke="#12b4ee" stroke-width="2.2" stroke-dasharray="7 5"/>
<polyline points="1320.0,790.1 1367.2,842.9 1508.0,936.2 1602.3,994.9" fill="none" stroke="#000" stroke-width="3" stroke-linejoin="round"/>
<line x1="1320.0" y1="774.0" x2="1320.0" y2="805.5" stroke="#f01818" stroke-width="2.4"/>
<line x1="1309.0" y1="774.0" x2="1331.0" y2="774.0" stroke="#f01818" stroke-width="2.4"/>
<line x1="1309.0" y1="805.5" x2="1331.0" y2="805.5" stroke="#f01818" stroke-width="2.4"/>
<rect x="1312.5" y="782.6" width="15.0" height="15.0" fill="#f01818"/>
<line x1="1367.2" y1="833.8" x2="1367.2" y2="853.0" stroke="#1a1aee" stroke-width="2.4"/>
<line x1="1356.2" y1="833.8" x2="1378.2" y2="833.8" stroke="#1a1aee" stroke-width="2.4"/>
<line x1="1356.2" y1="853.0" x2="1378.2" y2="853.0" stroke="#1a1aee" stroke-width="2.4"/>
<rect x="1359.7" y="835.4" width="15.0" height="15.0" fill="#1a1aee"/>
<line x1="1508.0" y1="932.0" x2="1508.0" y2="940.5" stroke="#f59a10" stroke-width="2.4"/>
<line x1="1498.0" y1="932.0" x2="1518.0" y2="932.0" stroke="#f59a10" stroke-width="2.4"/>
<line x1="1498.0" y1="940.5" x2="1518.0" y2="940.5" stroke="#f59a10" stroke-width="2.4"/>
<rect x="1500.5" y="928.7" width="15.0" height="15.0" fill="#f59a10"/>
<line x1="1602.3" y1="981.6" x2="1602.3" y2="1007.8" stroke="#12b4ee" stroke-width="2.4"/>
<line x1="1591.3" y1="981.6" x2="1613.3" y2="981.6" stroke="#12b4ee" stroke-width="2.4"/>
<line x1="1591.3" y1="1007.8" x2="1613.3" y2="1007.8" stroke="#12b4ee" stroke-width="2.4"/>
<rect x="1594.8" y="987.4" width="15.0" height="15.0" fill="#12b4ee"/>
<rect x="1299.0" y="754.5" width="332.0" height="287.2" fill="none" stroke="#000" stroke-width="2"/>
<line x1="1299.0" y1="1022.4" x2="1305.0" y2="1022.4" stroke="#000" stroke-width="1.8"/>
<line x1="1299.0" y1="1002.5" x2="1305.0" y2="1002.5" stroke="#000" stroke-width="1.8"/>
<line x1="1299.0" y1="982.6" x2="1310.0" y2="982.6" stroke="#000" stroke-width="1.8"/>
<line x1="1299.0" y1="962.7" x2="1305.0" y2="962.7" stroke="#000" stroke-width="1.8"/>
<line x1="1299.0" y1="942.8" x2="1305.0" y2="942.8" stroke="#000" stroke-width="1.8"/>
<line x1="1299.0" y1="922.8" x2="1305.0" y2="922.8" stroke="#000" stroke-width="1.8"/>
<line x1="1299.0" y1="902.9" x2="1305.0" y2="902.9" stroke="#000" stroke-width="1.8"/>
<line x1="1299.0" y1="883.0" x2="1310.0" y2="883.0" stroke="#000" stroke-width="1.8"/>
<line x1="1299.0" y1="863.1" x2="1305.0" y2="863.1" stroke="#000" stroke-width="1.8"/>
<line x1="1299.0" y1="843.2" x2="1305.0" y2="843.2" stroke="#000" stroke-width="1.8"/>
<line x1="1299.0" y1="823.2" x2="1305.0" y2="823.2" stroke="#000" stroke-width="1.8"/>
<line x1="1299.0" y1="803.3" x2="1305.0" y2="803.3" stroke="#000" stroke-width="1.8"/>
<line x1="1299.0" y1="783.4" x2="1310.0" y2="783.4" stroke="#000" stroke-width="1.8"/>
<line x1="1299.0" y1="763.5" x2="1305.0" y2="763.5" stroke="#000" stroke-width="1.8"/>
<text x="1292.5" y="792.4" font-size="25.5" text-anchor="end">20</text>
<text x="1292.5" y="892.0" font-size="25.5" text-anchor="end">10</text>
<text x="1292.5" y="991.6" font-size="25.5" text-anchor="end">0</text>
<line x1="1320.0" y1="1041.7" x2="1320.0" y2="1030.7" stroke="#000" stroke-width="1.8"/>
<line x1="1343.5" y1="1041.7" x2="1343.5" y2="1035.7" stroke="#000" stroke-width="1.8"/>
<line x1="1367.1" y1="1041.7" x2="1367.1" y2="1035.7" stroke="#000" stroke-width="1.8"/>
<line x1="1390.6" y1="1041.7" x2="1390.6" y2="1035.7" stroke="#000" stroke-width="1.8"/>
<line x1="1414.2" y1="1041.7" x2="1414.2" y2="1035.7" stroke="#000" stroke-width="1.8"/>
<line x1="1437.7" y1="1041.7" x2="1437.7" y2="1030.7" stroke="#000" stroke-width="1.8"/>
<line x1="1461.3" y1="1041.7" x2="1461.3" y2="1035.7" stroke="#000" stroke-width="1.8"/>
<line x1="1484.8" y1="1041.7" x2="1484.8" y2="1035.7" stroke="#000" stroke-width="1.8"/>
<line x1="1508.4" y1="1041.7" x2="1508.4" y2="1035.7" stroke="#000" stroke-width="1.8"/>
<line x1="1531.9" y1="1041.7" x2="1531.9" y2="1035.7" stroke="#000" stroke-width="1.8"/>
<line x1="1555.5" y1="1041.7" x2="1555.5" y2="1030.7" stroke="#000" stroke-width="1.8"/>
<line x1="1579.0" y1="1041.7" x2="1579.0" y2="1035.7" stroke="#000" stroke-width="1.8"/>
<line x1="1602.5" y1="1041.7" x2="1602.5" y2="1035.7" stroke="#000" stroke-width="1.8"/>
<text x="1320.0" y="1069.0" font-size="25.5" text-anchor="middle">0</text>
<text x="1437.7" y="1069.0" font-size="25.5" text-anchor="middle">25</text>
<text x="1555.5" y="1069.0" font-size="25.5" text-anchor="middle">50</text>
<text x="1464.5" y="1102.0" font-size="25" text-anchor="middle">Adsorption time (s)</text>
<text x="1244.0" y="898.6" font-size="25" text-anchor="middle" transform="rotate(-90 1244.0 898.6)">Energy (meV)</text>
<line x1="1486.3" y1="790.0" x2="1553.4" y2="790.0" stroke="#000" stroke-width="3"/>
<text x="1565.0" y="797.0" font-size="25"><tspan font-style="italic">E</tspan><tspan font-size="17" dy="5">D</tspan></text>
<g clip-path="url(#clipH)">
<rect x="106.0" y="603.5" width="258.8" height="445.5" fill="url(#gHbg)"/>
<rect x="106.0" y="716.0" width="258.8" height="334.0" fill="url(#gHx)"/>
<ellipse cx="126.0" cy="875.0" rx="70.0" ry="110.0" fill="url(#rg7)"/>
<ellipse cx="346.0" cy="875.0" rx="70.0" ry="110.0" fill="url(#rg7)"/>
<ellipse cx="236.0" cy="745.0" rx="80.0" ry="40.0" fill="url(#rg8)"/>
<path d="M148,768 C175,792 205,804 236,804 C267,804 297,792 324,768" fill="none" stroke="#2a2a2a" stroke-width="24" opacity="0.7" filter="url(#bH8)"/>
<rect x="106" y="718" width="258.8" height="331" fill="#000" filter="url(#streakh)" opacity="0.1"/>
<path d="M96,805 L96,750 C108,732 119,724 128,724 C140,724 152,738 161,756 L166,770 C150,774 125,784 96,805 Z" fill="#000" filter="url(#bH4)"/>
<path d="M375,805 L375,750 C363,732 352,724 343,724 C331,724 319,738 310,756 L305,770 C321,774 346,784 375,805 Z" fill="#000" filter="url(#bH4)"/>
</g>
<line x1="106.0" y1="713.7" x2="364.8" y2="713.7" stroke="#000" stroke-width="2" stroke-dasharray="6 4"/>
<line x1="236.5" y1="610.0" x2="236.5" y2="1049.0" stroke="#000" stroke-width="2" stroke-dasharray="6 4"/>
<rect x="105.1" y="602.6" width="260.4" height="447.2" fill="none" stroke="#333" stroke-width="1.5"/>
<line x1="105.1" y1="604.0" x2="114.1" y2="604.0" stroke="#000" stroke-width="1.5"/>
<text x="98.1" y="613.0" font-size="25.5" text-anchor="end">20</text>
<line x1="105.1" y1="715.2" x2="114.1" y2="715.2" stroke="#000" stroke-width="1.5"/>
<text x="98.1" y="724.2" font-size="25.5" text-anchor="end">0</text>
<line x1="105.1" y1="826.3" x2="114.1" y2="826.3" stroke="#000" stroke-width="1.5"/>
<text x="98.1" y="835.3" font-size="25.5" text-anchor="end">−20</text>
<line x1="105.1" y1="937.5" x2="114.1" y2="937.5" stroke="#000" stroke-width="1.5"/>
<text x="98.1" y="946.5" font-size="25.5" text-anchor="end">−40</text>
<line x1="105.1" y1="1048.6" x2="114.1" y2="1048.6" stroke="#000" stroke-width="1.5"/>
<text x="98.1" y="1057.6" font-size="25.5" text-anchor="end">−60</text>
<line x1="167.7" y1="1049.8" x2="167.7" y2="1040.8" stroke="#000" stroke-width="1.5"/>
<text x="167.7" y="1076.0" font-size="25.5" text-anchor="middle">−0.1</text>
<line x1="235.3" y1="1049.8" x2="235.3" y2="1040.8" stroke="#000" stroke-width="1.5"/>
<text x="235.3" y="1076.0" font-size="25.5" text-anchor="middle">0.0</text>
<line x1="302.9" y1="1049.8" x2="302.9" y2="1040.8" stroke="#000" stroke-width="1.5"/>
<text x="302.9" y="1076.0" font-size="25.5" text-anchor="middle">0.1</text>
<text x="236.0" y="1114.0" font-size="25" text-anchor="middle"><tspan font-style="italic">k</tspan><tspan font-style="italic" font-size="17" dy="8">x</tspan><tspan dy="-8"> (</tspan><tspan font-family="Liberation Serif" font-style="italic">π</tspan><tspan dx="2">/</tspan><tspan font-style="italic" dx="1.5">a</tspan>)</text>
<text x="34.0" y="825.0" font-size="25" text-anchor="middle" transform="rotate(-90 34.0 825.0)"><tspan font-style="italic">E</tspan>−<tspan font-style="italic">E</tspan><tspan font-size="16" dy="8">F</tspan><tspan dy="-8"> (meV)</tspan></text>
<text x="119.0" y="645.0" font-size="25">8 K</text>
<text x="242.5" y="645.0" font-size="25" fill="#f01010"><tspan font-style="italic">k</tspan><tspan font-size="17" dy="6">1</tspan></text>
<text x="336.5" y="645.0" font-size="25" fill="#f01010"><tspan font-style="italic">k</tspan><tspan font-size="17" dy="6">2</tspan></text>
<line x1="254.3" y1="659.4" x2="254.3" y2="699.0" stroke="#f01010" stroke-width="4.4"/>
<polyline points="242.3,683 254.3,700.5 266.3,683" fill="none" stroke="#f01010" stroke-width="5.2" stroke-linejoin="miter" stroke-miterlimit="10"/>
<line x1="344.4" y1="659.4" x2="344.4" y2="699.0" stroke="#f01010" stroke-width="4.4"/>
<polyline points="332.4,683 344.4,700.5 356.4,683" fill="none" stroke="#f01010" stroke-width="5.2" stroke-linejoin="miter" stroke-miterlimit="10"/>
<rect x="336.0" y="931.5" width="14.0" height="85.5" fill="url(#cbH)" stroke="#000" stroke-width="1"/>
<rect x="334.4" y="930.0" width="17.0" height="88.6" fill="none" stroke="#fff" stroke-width="2"/>
<text x="342.5" y="924.7" font-size="24" text-anchor="middle" font-weight="bold" fill="#fff">H</text>
<text x="342.5" y="1042.0" font-size="24" text-anchor="middle" font-weight="bold" fill="#fff">L</text>
<path d="M887.3,714.7 C889.4,713.5 896.0,709.7 899.8,707.2 C903.5,704.7 906.4,702.4 909.8,699.7 C913.1,697.0 916.0,693.5 919.7,691.0 C923.5,688.5 928.1,685.4 932.2,684.8 C936.4,684.1 940.9,686.2 944.7,687.3 C948.4,688.3 951.3,689.5 954.7,691.0 C958.0,692.5 960.9,693.1 964.7,696.0 C968.4,698.9 973.4,705.4 977.1,708.5 C980.9,711.6 983.8,712.0 987.1,714.7 C990.4,717.4 993.1,721.8 997.1,724.7 C1001.0,727.6 1007.1,731.1 1010.8,732.2 C1014.6,733.2 1017.1,731.3 1019.6,730.9 C1022.0,730.5 1023.7,729.7 1025.8,729.7 C1027.9,729.7 1029.5,730.4 1032.0,730.9 C1034.5,731.4 1037.8,733.5 1040.8,732.7 C1043.7,731.8 1046.4,728.5 1049.5,725.9 C1052.6,723.4 1056.1,720.1 1059.5,717.2 C1062.8,714.3 1066.1,711.2 1069.5,708.5 C1072.8,705.8 1076.1,703.7 1079.4,701.0 C1082.8,698.3 1085.7,694.5 1089.4,692.3 C1093.2,690.0 1097.3,688.5 1101.9,687.3 C1106.5,686.0 1112.3,684.6 1116.9,684.8 C1121.4,685.0 1125.2,686.0 1129.3,688.5 C1133.5,691.0 1137.7,696.4 1141.8,699.7 C1146.0,703.1 1150.6,706.0 1154.3,708.5 C1158.0,711.0 1162.6,713.7 1164.3,714.7" fill="none" stroke="#f01818" stroke-width="2"/>
<path d="M887.3,741.8 L887.7,741.6 L888.3,741.0 L888.9,740.5 L889.7,739.4 L890.4,738.9 L891.0,737.0 L891.7,737.1 L892.2,737.3 L892.8,736.4 L893.4,736.3 L894.1,734.7 L894.8,734.6 L895.5,733.7 L896.2,733.4 L896.9,732.7 L897.7,731.1 L898.6,730.4 L899.8,729.4 L901.2,728.9 L902.9,727.0 L904.7,724.4 L906.5,723.4 L908.3,720.8 L909.8,719.9 L911.0,717.7 L912.2,716.2 L913.3,716.1 L914.2,713.9 L915.1,712.8 L916.0,712.9 L916.7,711.9 L917.4,710.4 L917.9,710.8 L918.5,709.7 L919.1,709.4 L919.7,708.1 L920.5,708.3 L921.4,707.0 L922.3,706.5 L923.2,705.5 L924.0,703.8 L924.7,703.3 L925.2,702.6 L925.6,702.3 L925.8,702.1 L926.1,702.3 L926.5,702.6 L927.2,701.5 L928.2,702.1 L929.4,701.2 L930.8,700.7 L932.2,701.0 L933.5,700.1 L934.7,699.5 L935.7,699.5 L936.6,699.7 L937.4,698.7 L938.1,699.9 L938.9,698.3 L939.7,698.8 L940.5,698.2 L941.3,696.0 L942.0,695.9 L942.8,694.1 L943.7,693.3 L944.7,691.6 L945.9,690.8 L947.2,690.2 L948.6,690.5 L950.0,688.9 L951.2,689.2 L952.2,689.1 L952.9,689.1 L953.3,688.6 L953.6,689.0 L953.8,689.7 L954.2,690.2 L954.7,689.2 L955.4,689.6 L956.2,688.9 L957.0,688.1 L957.9,685.9 L958.8,686.2 L959.7,684.2 L960.5,683.8 L961.3,683.3 L962.2,682.9 L963.0,681.4 L963.8,681.8 L964.7,681.1 L965.5,680.9 L966.2,681.3 L967.0,681.8 L967.8,682.4 L968.7,683.4 L969.6,685.0 L970.8,686.5 L972.0,686.6 L973.4,687.8 L974.7,690.5 L976.0,690.9 L977.1,691.4 L978.1,691.5 L979.0,692.1 L979.8,692.3 L980.5,691.4 L981.3,690.8 L982.1,689.8 L983.0,688.4 L983.8,686.7 L984.6,684.7 L985.4,682.4 L986.3,679.9 L987.1,677.3 L988.0,674.3 L988.8,670.9 L989.7,667.2 L990.5,663.6 L991.3,660.2 L992.1,657.3 L992.8,654.9 L993.4,652.7 L994.1,650.8 L994.6,649.1 L995.2,647.6 L995.8,646.1 L996.5,644.8 L997.0,643.9 L997.6,643.0 L998.2,642.2 L998.9,641.2 L999.6,639.9 L1000.4,638.2 L1001.2,636.4 L1002.1,634.5 L1003.0,632.3 L1003.8,630.0 L1004.6,627.4 L1005.3,624.4 L1005.9,621.0 L1006.5,617.4 L1007.1,613.8 L1007.7,610.4 L1008.3,607.4 L1008.9,604.8 L1009.6,602.2 L1010.2,599.9 L1010.8,597.9 L1011.4,596.4 L1012.1,595.4 L1012.7,595.1 L1013.4,595.3 L1014.0,596.0 L1014.7,597.0 L1015.3,598.4 L1015.8,599.9 L1016.3,601.6 L1016.7,603.5 L1017.1,605.7 L1017.5,608.2 L1017.9,611.3 L1018.3,614.9 L1018.7,619.2 L1019.1,624.0 L1019.6,629.4 L1020.0,635.1 L1020.4,641.1 L1020.8,647.3 L1021.2,653.8 L1021.6,660.6 L1022.0,667.8 L1022.5,675.1 L1022.9,682.4 L1023.3,689.8 L1023.7,697.9 L1024.1,707.1 L1024.5,716.4 L1025.0,724.8 L1025.4,731.2 L1025.8,734.7 L1026.2,734.7 L1026.6,732.0 L1027.1,727.3 L1027.5,721.5 L1027.9,715.4 L1028.3,709.7 L1028.6,704.2 L1028.9,698.2 L1029.3,691.8 L1029.6,685.2 L1029.9,678.7 L1030.3,672.3 L1030.7,665.8 L1031.2,659.2 L1031.7,652.5 L1032.3,646.0 L1032.8,640.1 L1033.3,634.9 L1033.7,630.5 L1034.1,626.9 L1034.5,623.7 L1034.9,620.8 L1035.3,617.9 L1035.8,614.9 L1036.3,611.4 L1036.9,607.7 L1037.6,604.1 L1038.2,600.7 L1038.9,598.0 L1039.5,596.2 L1040.1,595.4 L1040.8,595.4 L1041.4,595.9 L1042.0,597.0 L1042.6,598.4 L1043.3,599.9 L1043.9,601.7 L1044.5,604.0 L1045.1,606.6 L1045.8,609.3 L1046.4,612.1 L1047.0,614.9 L1047.6,617.8 L1048.2,620.8 L1048.7,623.9 L1049.3,627.0 L1050.0,629.9 L1050.7,632.4 L1051.6,634.3 L1052.6,635.9 L1053.6,637.2 L1054.7,638.6 L1055.8,640.2 L1057.0,642.3 L1058.2,645.0 L1059.4,648.0 L1060.6,651.2 L1061.9,654.7 L1063.2,658.4 L1064.5,662.3 L1065.8,666.8 L1067.1,671.9 L1068.4,677.2 L1069.7,682.3 L1070.9,686.5 L1072.0,689.1 L1072.8,692.2 L1073.4,691.7 L1073.9,692.5 L1074.4,692.6 L1075.0,691.0 L1075.7,691.3 L1076.6,691.0 L1077.6,689.6 L1078.7,688.6 L1079.9,686.4 L1080.9,685.7 L1081.9,684.3 L1082.8,684.4 L1083.6,682.6 L1084.4,682.0 L1085.1,682.0 L1086.0,681.5 L1086.9,681.7 L1088.1,681.7 L1089.4,683.0 L1090.8,684.9 L1092.2,686.2 L1093.4,687.3 L1094.4,688.4 L1095.1,688.3 L1095.4,688.5 L1095.7,689.0 L1095.9,688.6 L1096.3,687.9 L1096.9,687.8 L1097.8,688.0 L1098.9,688.2 L1100.2,689.3 L1101.5,690.8 L1102.9,691.9 L1104.4,692.1 L1106.0,693.6 L1107.7,694.7 L1109.5,695.8 L1111.3,696.9 L1113.0,698.0 L1114.4,698.3 L1115.4,699.4 L1116.2,699.2 L1116.9,699.7 L1117.5,700.4 L1118.3,700.7 L1119.4,700.7 L1120.7,702.4 L1122.3,702.9 L1124.0,703.7 L1125.8,704.0 L1127.6,706.0 L1129.3,706.9 L1131.0,708.9 L1132.7,710.2 L1134.3,712.4 L1136.0,713.9 L1137.7,715.9 L1139.3,717.0 L1141.0,719.1 L1142.7,720.9 L1144.3,722.7 L1146.0,723.6 L1147.6,726.0 L1149.3,727.7 L1151.0,729.2 L1152.8,731.4 L1154.6,733.2 L1156.3,734.3 L1157.9,735.9 L1159.3,736.7 L1160.5,738.8 L1161.5,739.9 L1162.4,740.0 L1163.2,741.0 L1163.8,741.5 L1164.3,742.0" fill="none" stroke="#1a5cf0" stroke-width="2"/>
<line x1="1025.8" y1="624.4" x2="1025.8" y2="765.0" stroke="#000" stroke-width="2" stroke-dasharray="7 5"/>
<rect x="886.0" y="587.4" width="280.0" height="179.7" fill="none" stroke="#000" stroke-width="1.6"/>
<line x1="886.0" y1="589.4" x2="895.0" y2="589.4" stroke="#000" stroke-width="1.5"/>
<text x="879.0" y="598.4" font-size="25.5" text-anchor="end">1.8</text>
<line x1="886.0" y1="648.1" x2="895.0" y2="648.1" stroke="#000" stroke-width="1.5"/>
<text x="879.0" y="657.1" font-size="25.5" text-anchor="end">1.6</text>
<line x1="886.0" y1="706.7" x2="895.0" y2="706.7" stroke="#000" stroke-width="1.5"/>
<text x="879.0" y="715.7" font-size="25.5" text-anchor="end">1.4</text>
<line x1="886.0" y1="765.4" x2="895.0" y2="765.4" stroke="#000" stroke-width="1.5"/>
<text x="879.0" y="774.4" font-size="25.5" text-anchor="end">1.2</text>
<line x1="886.0" y1="736.1" x2="891.0" y2="736.1" stroke="#000" stroke-width="1.5"/>
<line x1="886.0" y1="677.4" x2="891.0" y2="677.4" stroke="#000" stroke-width="1.5"/>
<line x1="886.0" y1="618.8" x2="891.0" y2="618.8" stroke="#000" stroke-width="1.5"/>
<line x1="933.5" y1="767.1" x2="933.5" y2="758.1" stroke="#000" stroke-width="1.5"/>
<text x="933.5" y="793.3" font-size="25.5" text-anchor="middle">−40</text>
<line x1="1025.8" y1="767.1" x2="1025.8" y2="758.1" stroke="#000" stroke-width="1.5"/>
<text x="1025.8" y="793.3" font-size="25.5" text-anchor="middle">0</text>
<line x1="1118.1" y1="767.1" x2="1118.1" y2="758.1" stroke="#000" stroke-width="1.5"/>
<text x="1118.1" y="793.3" font-size="25.5" text-anchor="middle">40</text>
<line x1="887.3" y1="767.1" x2="887.3" y2="762.1" stroke="#000" stroke-width="1.5"/>
<line x1="979.6" y1="767.1" x2="979.6" y2="762.1" stroke="#000" stroke-width="1.5"/>
<line x1="1072.0" y1="767.1" x2="1072.0" y2="762.1" stroke="#000" stroke-width="1.5"/>
<line x1="1164.2" y1="767.1" x2="1164.2" y2="762.1" stroke="#000" stroke-width="1.5"/>
<text x="1026.0" y="828.3" font-size="25" text-anchor="middle"><tspan font-style="italic">E</tspan>-<tspan font-style="italic">E</tspan><tspan font-size="16" dy="8">F</tspan><tspan dy="-8"> (meV)</tspan></text>
<text x="822.5" y="676.7" font-size="25" text-anchor="middle" transform="rotate(-90 822.5 676.7)">Intensity (a.u.)</text>
<text x="891.0" y="575.0" font-size="25"><tspan font-style="italic">k</tspan> = <tspan font-style="italic">k</tspan><tspan font-size="17" dy="8">1</tspan></text>
<line x1="899.8" y1="610.7" x2="934.7" y2="610.7" stroke="#f01818" stroke-width="2"/>
<line x1="899.8" y1="632.4" x2="934.7" y2="632.4" stroke="#1a5cf0" stroke-width="2"/>
<text x="943.4" y="618.0" font-size="21.5">40 K</text>
<text x="943.4" y="639.7" font-size="21.5">8 K</text>
<text x="1059.0" y="621.6" font-size="18.5"><tspan font-family="Liberation Serif">Δ</tspan> = 5.9 meV</text>
<path d="M887.7,1026.7 C892.2,1027.0 905.6,1028.0 914.6,1028.6 C923.6,1029.2 932.5,1029.9 941.5,1030.5 C950.5,1031.1 961.7,1032.0 968.4,1032.1 C975.2,1032.2 977.4,1032.1 981.9,1031.3 C986.4,1030.5 990.9,1029.5 995.3,1027.3 C999.8,1025.0 1005.2,1020.5 1008.8,1017.8 C1012.4,1015.2 1014.1,1013.2 1016.9,1011.1 C1019.7,1009.0 1022.4,1005.6 1025.5,1005.2 C1028.6,1004.7 1032.2,1006.3 1035.7,1008.4 C1039.2,1010.5 1042.4,1014.5 1046.5,1017.8 C1050.5,1021.2 1055.9,1026.3 1059.9,1028.6 C1064.0,1030.9 1065.8,1031.4 1070.7,1031.8 C1075.6,1032.3 1081.9,1031.8 1089.6,1031.3 C1097.2,1030.8 1107.5,1029.6 1116.5,1028.9 C1125.4,1028.2 1135.5,1027.6 1143.4,1027.3 C1151.2,1026.9 1160.2,1026.8 1163.6,1026.7" fill="none" stroke="#f01818" stroke-width="2"/>
<path d="M887.7,1033.0 L889.1,1033.6 L891.2,1033.5 L893.6,1034.0 L896.1,1034.1 L898.7,1033.4 L901.1,1033.5 L903.4,1035.0 L905.6,1034.2 L907.9,1034.3 L910.1,1035.7 L912.3,1035.1 L914.6,1035.9 L916.8,1035.5 L919.1,1036.1 L921.3,1035.6 L923.6,1036.7 L925.8,1037.3 L928.0,1037.0 L930.3,1037.6 L932.5,1037.6 L934.8,1036.8 L937.0,1038.1 L939.3,1038.0 L941.5,1037.7 L943.8,1037.4 L946.0,1038.9 L948.2,1038.4 L950.5,1038.9 L952.7,1039.3 L955.0,1039.2 L957.2,1039.7 L959.5,1039.1 L961.7,1039.9 L963.9,1039.6 L966.2,1040.6 L968.4,1040.8 L970.7,1039.9 L973.2,1040.3 L975.6,1040.9 L977.9,1042.4 L980.0,1041.9 L981.9,1042.3 L983.4,1041.8 L984.6,1042.1 L985.7,1041.9 L986.6,1041.5 L987.6,1041.3 L988.6,1040.3 L989.8,1039.5 L990.9,1037.7 L992.1,1036.3 L993.2,1034.0 L994.3,1031.5 L995.3,1027.5 L996.3,1022.6 L997.3,1019.0 L998.2,1013.9 L999.1,1008.1 L999.9,1001.5 L1000.7,995.3 L1001.5,987.6 L1002.2,981.0 L1002.8,972.7 L1003.5,964.2 L1004.1,956.7 L1004.8,949.2 L1005.5,941.8 L1006.2,934.1 L1007.0,926.5 L1007.7,919.5 L1008.3,913.5 L1008.8,908.8 L1009.2,905.8 L1009.4,903.9 L1009.6,903.1 L1009.7,902.9 L1009.9,903.2 L1010.1,903.4 L1010.5,903.6 L1010.9,903.8 L1011.3,904.5 L1011.8,905.7 L1012.3,908.0 L1012.8,911.5 L1013.4,916.5 L1014.1,922.9 L1014.8,930.2 L1015.5,938.1 L1016.2,946.4 L1016.9,954.6 L1017.6,963.3 L1018.3,972.8 L1019.0,982.7 L1019.7,992.3 L1020.3,1001.0 L1020.9,1008.4 L1021.5,1014.4 L1021.9,1019.5 L1022.4,1023.7 L1022.8,1027.3 L1023.2,1030.2 L1023.6,1032.7 L1024.0,1034.4 L1024.3,1035.3 L1024.6,1035.7 L1024.9,1035.6 L1025.2,1035.5 L1025.5,1035.3 L1025.8,1035.5 L1026.2,1035.6 L1026.5,1035.7 L1026.9,1035.3 L1027.3,1034.4 L1027.6,1032.7 L1028.0,1030.2 L1028.5,1027.3 L1028.9,1023.7 L1029.3,1019.5 L1029.8,1014.4 L1030.3,1008.4 L1030.9,1001.0 L1031.6,992.3 L1032.3,982.7 L1033.0,972.8 L1033.7,963.3 L1034.4,954.6 L1035.1,946.4 L1035.7,938.2 L1036.4,930.2 L1037.1,922.9 L1037.8,916.6 L1038.4,911.5 L1039.0,907.9 L1039.6,905.6 L1040.2,904.2 L1040.8,903.4 L1041.3,903.1 L1041.9,902.9 L1042.5,902.7 L1043.0,902.5 L1043.5,902.8 L1044.0,903.8 L1044.6,905.7 L1045.1,908.8 L1045.8,913.3 L1046.4,919.0 L1047.0,925.7 L1047.7,932.4 L1048.4,941.6 L1049.2,950.0 L1050.0,957.7 L1050.9,969.2 L1051.8,979.5 L1052.7,989.8 L1053.6,999.9 L1054.6,1008.9 L1055.5,1015.6 L1056.4,1019.9 L1057.3,1025.4 L1058.2,1028.4 L1059.0,1032.8 L1059.9,1035.1 L1060.8,1038.1 L1061.7,1039.7 L1062.6,1039.6 L1063.5,1040.8 L1064.4,1040.0 L1065.3,1040.0 L1066.2,1041.4 L1067.0,1040.8 L1067.8,1041.3 L1068.6,1041.8 L1069.6,1042.2 L1070.7,1041.5 L1072.0,1041.3 L1073.6,1042.4 L1075.2,1041.3 L1076.8,1042.0 L1078.5,1041.6 L1080.1,1040.5 L1081.7,1040.4 L1083.1,1040.3 L1084.6,1040.3 L1086.1,1040.0 L1087.8,1039.7 L1089.6,1039.6 L1091.6,1039.9 L1093.7,1038.9 L1096.0,1038.6 L1098.4,1038.8 L1100.7,1037.8 L1103.0,1037.7 L1105.3,1038.6 L1107.5,1037.6 L1109.7,1037.4 L1112.0,1036.3 L1114.2,1036.7 L1116.5,1036.8 L1118.7,1035.8 L1121.0,1036.6 L1123.2,1036.5 L1125.4,1035.4 L1127.7,1036.2 L1129.9,1035.8 L1132.2,1036.0 L1134.4,1035.3 L1136.7,1035.7 L1138.9,1035.6 L1141.1,1034.2 L1143.4,1034.1 L1145.7,1034.9 L1148.1,1035.2 L1150.5,1033.8 L1152.9,1034.0 L1155.0,1034.0 L1156.9,1033.4 L1158.4,1033.4 L1159.8,1033.2 L1161.1,1033.2 L1162.1,1033.5 L1162.9,1032.9 L1163.6,1033.0" fill="none" stroke="#1a5cf0" stroke-width="2"/>
<line x1="1025.5" y1="912.9" x2="1025.5" y2="1049.0" stroke="#000" stroke-width="2" stroke-dasharray="7 5"/>
<rect x="885.8" y="869.8" width="280.5" height="180.4" fill="none" stroke="#000" stroke-width="1.6"/>
<line x1="885.8" y1="896.2" x2="894.8" y2="896.2" stroke="#000" stroke-width="1.5"/>
<text x="878.8" y="905.2" font-size="25.5" text-anchor="end">3.5</text>
<line x1="885.8" y1="926.7" x2="894.8" y2="926.7" stroke="#000" stroke-width="1.5"/>
<text x="878.8" y="935.7" font-size="25.5" text-anchor="end">3.0</text>
<line x1="885.8" y1="957.2" x2="894.8" y2="957.2" stroke="#000" stroke-width="1.5"/>
<text x="878.8" y="966.2" font-size="25.5" text-anchor="end">2.5</text>
<line x1="885.8" y1="987.8" x2="894.8" y2="987.8" stroke="#000" stroke-width="1.5"/>
<text x="878.8" y="996.8" font-size="25.5" text-anchor="end">2.0</text>
<line x1="885.8" y1="1018.3" x2="894.8" y2="1018.3" stroke="#000" stroke-width="1.5"/>
<text x="878.8" y="1027.3" font-size="25.5" text-anchor="end">1.5</text>
<line x1="885.8" y1="1048.8" x2="894.8" y2="1048.8" stroke="#000" stroke-width="1.5"/>
<text x="878.8" y="1057.8" font-size="25.5" text-anchor="end">1.0</text>
<line x1="933.2" y1="1050.2" x2="933.2" y2="1041.2" stroke="#000" stroke-width="1.5"/>
<text x="933.2" y="1077.0" font-size="25.5" text-anchor="middle">−40</text>
<line x1="1025.5" y1="1050.2" x2="1025.5" y2="1041.2" stroke="#000" stroke-width="1.5"/>
<text x="1025.5" y="1077.0" font-size="25.5" text-anchor="middle">0</text>
<line x1="1117.8" y1="1050.2" x2="1117.8" y2="1041.2" stroke="#000" stroke-width="1.5"/>
<text x="1117.8" y="1077.0" font-size="25.5" text-anchor="middle">40</text>
<line x1="887.0" y1="1050.2" x2="887.0" y2="1045.2" stroke="#000" stroke-width="1.5"/>
<line x1="979.4" y1="1050.2" x2="979.4" y2="1045.2" stroke="#000" stroke-width="1.5"/>
<line x1="1071.7" y1="1050.2" x2="1071.7" y2="1045.2" stroke="#000" stroke-width="1.5"/>
<line x1="1164.0" y1="1050.2" x2="1164.0" y2="1045.2" stroke="#000" stroke-width="1.5"/>
<text x="1026.0" y="1112.0" font-size="25" text-anchor="middle"><tspan font-style="italic">E</tspan>−<tspan font-style="italic">E</tspan><tspan font-size="16" dy="8">F</tspan><tspan dy="-8"> (meV)</tspan></text>
<text x="823.0" y="960.5" font-size="25" text-anchor="middle" transform="rotate(-90 823.0 960.5)">Intensity (a.u.)</text>
<text x="891.7" y="855.0" font-size="25"><tspan font-style="italic">k</tspan> = <tspan font-style="italic">k</tspan><tspan font-size="17" dy="8">2</tspan></text>
<text x="1060.0" y="900.0" font-size="18.5"><tspan font-family="Liberation Serif">Δ</tspan> = 7.5 meV</text>
<g clip-path="url(#clipI)" fill="none" stroke="#1e1ee8" stroke-width="1.45">
<path d="M488.0,737.9 L490.5,737.8 L493.0,738.1 L495.5,737.8 L498.0,738.0 L500.5,737.9 L503.0,737.8 L505.5,738.0 L508.0,737.8 L510.5,738.0 L513.0,737.8 L515.5,737.8 L518.0,738.0 L520.5,738.2 L523.0,737.8 L525.5,737.9 L528.0,738.1 L530.5,738.2 L533.0,738.0 L535.5,737.9 L538.0,738.2 L540.5,737.8 L543.0,738.2 L545.5,737.9 L548.0,737.8 L550.5,737.8 L553.0,737.9 L555.5,738.2 L558.0,737.8 L560.5,738.0 L563.0,738.1 L565.5,737.9 L568.0,738.0 L570.5,737.8 L573.0,737.8 L575.5,737.8 L578.0,738.1 L580.5,737.9 L583.0,737.9 L585.5,738.0 L588.0,737.9 L590.5,737.8 L593.0,737.9 L595.5,737.7 L598.0,737.3 L600.5,737.1 L603.0,736.5 L605.5,736.0 L608.0,734.9 L610.5,733.3 L613.0,731.8 L615.5,729.0 L618.0,726.1 L620.5,722.6 L623.0,717.9 L625.5,712.9 L628.0,706.9 L630.5,701.0 L633.0,694.4 L635.5,687.7 L638.0,681.5 L640.5,675.4 L643.0,670.7 L645.5,666.9 L648.0,664.7 L650.5,664.0 L653.0,665.2 L655.5,667.8 L658.0,671.4 L660.5,676.6 L663.0,682.6 L665.5,690.1 L668.0,698.0 L670.5,706.5 L673.0,715.1 L675.5,723.5 L678.0,732.0 L680.5,740.2 L683.0,747.3 L685.5,754.1 L688.0,759.7 L690.5,764.4 L693.0,768.3 L695.5,771.7 L698.0,773.8 L700.5,775.7 L703.0,777.2 L705.5,778.4 L708.0,778.8 L710.5,779.5 L713.0,779.9 L715.5,780.3 L718.0,780.5 L720.5,780.7 L723.0,780.5 L725.5,780.6 L728.0,780.6 L730.5,780.9 L733.0,781.0 L735.5,780.6 L738.0,780.6 L740.5,780.6 L743.0,780.7 L745.5,780.8 L748.0,780.8"/>
<path d="M488.0,742.3 L490.5,742.2 L493.0,742.4 L495.5,742.3 L498.0,742.4 L500.5,742.6 L503.0,742.5 L505.5,742.4 L508.0,742.5 L510.5,742.5 L513.0,742.2 L515.5,742.6 L518.0,742.5 L520.5,742.6 L523.0,742.5 L525.5,742.3 L528.0,742.3 L530.5,742.2 L533.0,742.5 L535.5,742.2 L538.0,742.2 L540.5,742.3 L543.0,742.2 L545.5,742.3 L548.0,742.2 L550.5,742.2 L553.0,742.2 L555.5,742.2 L558.0,742.3 L560.5,742.2 L563.0,742.6 L565.5,742.5 L568.0,742.2 L570.5,742.3 L573.0,742.3 L575.5,742.3 L578.0,742.2 L580.5,742.6 L583.0,742.6 L585.5,742.3 L588.0,742.3 L590.5,742.1 L593.0,742.0 L595.5,742.0 L598.0,741.8 L600.5,741.8 L603.0,741.1 L605.5,740.5 L608.0,740.2 L610.5,738.9 L613.0,737.3 L615.5,735.6 L618.0,732.9 L620.5,730.2 L623.0,726.7 L625.5,722.3 L628.0,717.2 L630.5,711.3 L633.0,705.2 L635.5,698.5 L638.0,692.1 L640.5,685.3 L643.0,679.3 L645.5,673.6 L648.0,669.1 L650.5,666.3 L653.0,664.7 L655.5,664.7 L658.0,666.3 L660.5,669.5 L663.0,674.0 L665.5,679.7 L668.0,686.9 L670.5,694.8 L673.0,703.4 L675.5,712.5 L678.0,721.9 L680.5,731.0 L683.0,739.9 L685.5,748.1 L688.0,755.0 L690.5,761.6 L693.0,766.9 L695.5,771.3 L698.0,774.6 L700.5,777.4 L703.0,779.6 L705.5,781.3 L708.0,782.6 L710.5,783.7 L713.0,784.6 L715.5,785.0 L718.0,785.2 L720.5,785.6 L723.0,785.8 L725.5,785.6 L728.0,786.0 L730.5,786.2 L733.0,786.2 L735.5,786.2 L738.0,786.1 L740.5,785.9 L743.0,786.2 L745.5,786.0 L748.0,786.3"/>
<path d="M488.0,747.0 L490.5,746.7 L493.0,746.8 L495.5,747.0 L498.0,746.9 L500.5,746.6 L503.0,746.6 L505.5,746.6 L508.0,747.0 L510.5,747.0 L513.0,746.6 L515.5,747.0 L518.0,747.0 L520.5,746.9 L523.0,746.7 L525.5,746.8 L528.0,746.6 L530.5,746.6 L533.0,747.0 L535.5,746.9 L538.0,746.8 L540.5,747.0 L543.0,746.8 L545.5,747.0 L548.0,747.0 L550.5,746.7 L553.0,746.7 L555.5,746.7 L558.0,746.7 L560.5,746.8 L563.0,746.7 L565.5,746.8 L568.0,746.6 L570.5,747.0 L573.0,746.7 L575.5,746.8 L578.0,746.8 L580.5,747.0 L583.0,746.7 L585.5,747.0 L588.0,746.7 L590.5,746.7 L593.0,746.6 L595.5,746.3 L598.0,746.3 L600.5,745.9 L603.0,745.5 L605.5,745.4 L608.0,744.4 L610.5,743.7 L613.0,742.6 L615.5,741.0 L618.0,738.9 L620.5,736.5 L623.0,733.5 L625.5,730.0 L628.0,725.5 L630.5,721.0 L633.0,715.6 L635.5,710.0 L638.0,704.4 L640.5,698.4 L643.0,692.7 L645.5,687.5 L648.0,683.0 L650.5,679.2 L653.0,676.8 L655.5,675.6 L658.0,675.9 L660.5,677.6 L663.0,680.6 L665.5,685.0 L668.0,690.6 L670.5,697.4 L673.0,704.8 L675.5,713.1 L678.0,721.6 L680.5,730.0 L683.0,738.6 L685.5,746.9 L688.0,754.3 L690.5,760.7 L693.0,766.6 L695.5,771.8 L698.0,775.9 L700.5,779.5 L703.0,782.2 L705.5,784.7 L708.0,786.5 L710.5,787.9 L713.0,788.5 L715.5,789.5 L718.0,790.1 L720.5,790.2 L723.0,790.9 L725.5,791.2 L728.0,790.9 L730.5,791.4 L733.0,791.2 L735.5,791.3 L738.0,791.6 L740.5,791.6 L743.0,791.2 L745.5,791.4 L748.0,791.4"/>
<path d="M488.0,751.1 L490.5,751.0 L493.0,751.1 L495.5,751.3 L498.0,751.0 L500.5,751.2 L503.0,751.2 L505.5,751.0 L508.0,751.1 L510.5,751.3 L513.0,751.2 L515.5,751.0 L518.0,751.4 L520.5,751.3 L523.0,751.4 L525.5,751.0 L528.0,751.1 L530.5,751.0 L533.0,751.3 L535.5,751.1 L538.0,751.0 L540.5,751.2 L543.0,751.4 L545.5,751.4 L548.0,751.1 L550.5,751.0 L553.0,751.4 L555.5,751.2 L558.0,751.3 L560.5,751.0 L563.0,751.0 L565.5,751.3 L568.0,751.2 L570.5,751.0 L573.0,751.4 L575.5,751.3 L578.0,751.3 L580.5,751.0 L583.0,751.3 L585.5,750.9 L588.0,751.3 L590.5,751.0 L593.0,750.9 L595.5,750.8 L598.0,750.8 L600.5,750.2 L603.0,749.8 L605.5,749.4 L608.0,748.6 L610.5,747.6 L613.0,746.4 L615.5,744.8 L618.0,743.0 L620.5,740.7 L623.0,737.9 L625.5,734.9 L628.0,731.0 L630.5,727.0 L633.0,722.3 L635.5,717.6 L638.0,712.5 L640.5,707.7 L643.0,702.9 L645.5,698.9 L648.0,695.1 L650.5,692.0 L653.0,690.1 L655.5,689.4 L658.0,689.3 L660.5,691.1 L663.0,693.5 L665.5,697.2 L668.0,702.1 L670.5,707.6 L673.0,714.2 L675.5,721.4 L678.0,729.0 L680.5,736.4 L683.0,744.3 L685.5,751.7 L688.0,758.6 L690.5,764.9 L693.0,770.6 L695.5,775.4 L698.0,779.7 L700.5,783.2 L703.0,786.5 L705.5,788.6 L708.0,790.5 L710.5,791.9 L713.0,793.5 L715.5,794.4 L718.0,795.0 L720.5,795.3 L723.0,795.6 L725.5,795.9 L728.0,796.2 L730.5,796.2 L733.0,796.5 L735.5,796.5 L738.0,796.9 L740.5,796.9 L743.0,796.7 L745.5,796.6 L748.0,797.0"/>
<path d="M488.0,755.5 L490.5,755.5 L493.0,755.4 L495.5,755.5 L498.0,755.6 L500.5,755.6 L503.0,755.5 L505.5,755.6 L508.0,755.4 L510.5,755.5 L513.0,755.4 L515.5,755.5 L518.0,755.4 L520.5,755.4 L523.0,755.5 L525.5,755.5 L528.0,755.6 L530.5,755.6 L533.0,755.7 L535.5,755.7 L538.0,755.7 L540.5,755.8 L543.0,755.5 L545.5,755.5 L548.0,755.8 L550.5,755.4 L553.0,755.7 L555.5,755.7 L558.0,755.4 L560.5,755.8 L563.0,755.8 L565.5,755.7 L568.0,755.7 L570.5,755.7 L573.0,755.4 L575.5,755.6 L578.0,755.6 L580.5,755.7 L583.0,755.6 L585.5,755.6 L588.0,755.4 L590.5,755.4 L593.0,755.2 L595.5,754.9 L598.0,754.4 L600.5,753.8 L603.0,753.3 L605.5,752.7 L608.0,751.6 L610.5,750.8 L613.0,749.2 L615.5,747.4 L618.0,745.3 L620.5,742.9 L623.0,740.0 L625.5,736.6 L628.0,733.6 L630.5,730.0 L633.0,726.1 L635.5,722.4 L638.0,718.7 L640.5,715.0 L643.0,712.2 L645.5,709.4 L648.0,707.3 L650.5,706.2 L653.0,706.0 L655.5,706.3 L658.0,707.9 L660.5,710.2 L663.0,713.1 L665.5,716.9 L668.0,721.5 L670.5,726.8 L673.0,732.5 L675.5,738.5 L678.0,744.9 L680.5,751.0 L683.0,757.4 L685.5,763.5 L688.0,769.5 L690.5,774.6 L693.0,779.4 L695.5,783.3 L698.0,786.9 L700.5,790.0 L703.0,792.8 L705.5,794.8 L708.0,796.5 L710.5,797.6 L713.0,798.7 L715.5,799.5 L718.0,800.1 L720.5,800.4 L723.0,801.2 L725.5,801.1 L728.0,801.7 L730.5,801.8 L733.0,801.5 L735.5,801.8 L738.0,802.1 L740.5,802.2 L743.0,802.0 L745.5,801.9 L748.0,801.9"/>
<path d="M488.0,760.2 L490.5,759.9 L493.0,760.0 L495.5,759.8 L498.0,760.0 L500.5,760.2 L503.0,759.8 L505.5,760.2 L508.0,760.0 L510.5,760.2 L513.0,760.1 L515.5,759.9 L518.0,760.2 L520.5,760.0 L523.0,759.8 L525.5,759.8 L528.0,760.0 L530.5,760.0 L533.0,759.9 L535.5,759.8 L538.0,759.9 L540.5,759.9 L543.0,760.2 L545.5,759.8 L548.0,760.1 L550.5,760.2 L553.0,759.8 L555.5,760.2 L558.0,760.1 L560.5,760.2 L563.0,759.9 L565.5,759.9 L568.0,759.9 L570.5,760.2 L573.0,760.0 L575.5,759.9 L578.0,759.9 L580.5,759.7 L583.0,759.5 L585.5,759.5 L588.0,759.7 L590.5,759.2 L593.0,759.2 L595.5,758.5 L598.0,758.1 L600.5,757.6 L603.0,756.7 L605.5,755.9 L608.0,755.0 L610.5,753.6 L613.0,752.0 L615.5,750.0 L618.0,748.1 L620.5,745.7 L623.0,743.0 L625.5,740.4 L628.0,737.2 L630.5,734.7 L633.0,731.7 L635.5,729.2 L638.0,726.7 L640.5,724.4 L643.0,722.5 L645.5,721.8 L648.0,720.7 L650.5,720.9 L653.0,721.4 L655.5,722.7 L658.0,724.8 L660.5,727.5 L663.0,730.2 L665.5,734.1 L668.0,738.0 L670.5,742.7 L673.0,747.5 L675.5,752.5 L678.0,757.8 L680.5,763.1 L683.0,768.7 L685.5,773.5 L688.0,778.2 L690.5,783.0 L693.0,787.0 L695.5,790.3 L698.0,793.3 L700.5,795.9 L703.0,798.1 L705.5,800.1 L708.0,801.5 L710.5,802.8 L713.0,803.8 L715.5,804.7 L718.0,805.5 L720.5,805.9 L723.0,806.1 L725.5,806.4 L728.0,806.7 L730.5,806.8 L733.0,806.9 L735.5,806.9 L738.0,807.0 L740.5,807.5 L743.0,807.1 L745.5,807.3 L748.0,807.4"/>
<path d="M488.0,764.6 L490.5,764.3 L493.0,764.3 L495.5,764.3 L498.0,764.3 L500.5,764.4 L503.0,764.6 L505.5,764.6 L508.0,764.6 L510.5,764.2 L513.0,764.2 L515.5,764.5 L518.0,764.6 L520.5,764.4 L523.0,764.4 L525.5,764.2 L528.0,764.3 L530.5,764.6 L533.0,764.6 L535.5,764.6 L538.0,764.6 L540.5,764.3 L543.0,764.2 L545.5,764.2 L548.0,764.4 L550.5,764.5 L553.0,764.6 L555.5,764.5 L558.0,764.5 L560.5,764.5 L563.0,764.4 L565.5,764.4 L568.0,764.1 L570.5,764.5 L573.0,764.2 L575.5,764.5 L578.0,764.3 L580.5,764.0 L583.0,763.8 L585.5,763.7 L588.0,763.7 L590.5,763.4 L593.0,762.8 L595.5,762.3 L598.0,762.0 L600.5,761.3 L603.0,760.4 L605.5,759.3 L608.0,758.3 L610.5,756.7 L613.0,755.3 L615.5,753.7 L618.0,752.1 L620.5,750.0 L623.0,748.1 L625.5,745.8 L628.0,743.7 L630.5,741.7 L633.0,740.2 L635.5,738.4 L638.0,736.8 L640.5,735.6 L643.0,735.1 L645.5,734.9 L648.0,735.0 L650.5,735.6 L653.0,736.9 L655.5,738.6 L658.0,740.3 L660.5,742.6 L663.0,745.6 L665.5,748.8 L668.0,752.5 L670.5,756.0 L673.0,760.4 L675.5,764.6 L678.0,768.8 L680.5,773.0 L683.0,777.7 L685.5,781.6 L688.0,785.9 L690.5,789.4 L693.0,792.9 L695.5,796.3 L698.0,798.9 L700.5,801.6 L703.0,803.5 L705.5,805.1 L708.0,806.5 L710.5,807.8 L713.0,808.9 L715.5,809.9 L718.0,810.1 L720.5,810.7 L723.0,811.1 L725.5,811.8 L728.0,811.6 L730.5,811.8 L733.0,811.9 L735.5,812.2 L738.0,812.6 L740.5,812.7 L743.0,812.6 L745.5,812.8 L748.0,812.8"/>
<path d="M488.0,768.7 L490.5,768.6 L493.0,769.0 L495.5,768.9 L498.0,768.6 L500.5,768.9 L503.0,768.7 L505.5,768.7 L508.0,768.7 L510.5,768.6 L513.0,768.6 L515.5,768.7 L518.0,768.7 L520.5,769.0 L523.0,768.6 L525.5,769.0 L528.0,768.7 L530.5,768.7 L533.0,769.0 L535.5,769.0 L538.0,768.8 L540.5,768.6 L543.0,768.8 L545.5,768.7 L548.0,769.0 L550.5,768.6 L553.0,768.7 L555.5,769.0 L558.0,768.5 L560.5,768.7 L563.0,768.9 L565.5,768.9 L568.0,768.5 L570.5,768.4 L573.0,768.4 L575.5,768.7 L578.0,768.3 L580.5,768.4 L583.0,768.2 L585.5,767.7 L588.0,767.4 L590.5,767.3 L593.0,766.7 L595.5,765.9 L598.0,765.5 L600.5,764.5 L603.0,763.6 L605.5,762.4 L608.0,761.7 L610.5,760.5 L613.0,759.0 L615.5,757.8 L618.0,755.8 L620.5,754.5 L623.0,753.1 L625.5,751.9 L628.0,750.6 L630.5,749.2 L633.0,748.2 L635.5,747.5 L638.0,747.0 L640.5,747.1 L643.0,746.8 L645.5,747.6 L648.0,748.3 L650.5,749.4 L653.0,750.8 L655.5,752.4 L658.0,754.3 L660.5,756.5 L663.0,759.0 L665.5,762.0 L668.0,764.6 L670.5,767.8 L673.0,771.4 L675.5,774.6 L678.0,778.0 L680.5,781.6 L683.0,785.5 L685.5,789.0 L688.0,792.8 L690.5,796.0 L693.0,799.1 L695.5,801.6 L698.0,804.0 L700.5,806.2 L703.0,808.4 L705.5,810.2 L708.0,811.5 L710.5,812.6 L713.0,813.7 L715.5,814.6 L718.0,815.3 L720.5,815.9 L723.0,816.4 L725.5,816.7 L728.0,816.7 L730.5,817.3 L733.0,817.2 L735.5,817.5 L738.0,817.5 L740.5,817.8 L743.0,817.6 L745.5,817.7 L748.0,817.8"/>
<path d="M488.0,773.0 L490.5,773.4 L493.0,773.2 L495.5,773.1 L498.0,773.1 L500.5,773.4 L503.0,773.2 L505.5,773.1 L508.0,773.4 L510.5,773.3 L513.0,773.4 L515.5,773.0 L518.0,773.2 L520.5,773.4 L523.0,773.4 L525.5,773.4 L528.0,773.0 L530.5,773.1 L533.0,773.0 L535.5,773.0 L538.0,773.4 L540.5,773.2 L543.0,773.4 L545.5,773.1 L548.0,773.4 L550.5,773.2 L553.0,773.0 L555.5,773.3 L558.0,773.4 L560.5,772.9 L563.0,773.1 L565.5,773.1 L568.0,772.8 L570.5,772.8 L573.0,772.6 L575.5,772.5 L578.0,772.3 L580.5,772.2 L583.0,772.0 L585.5,771.4 L588.0,770.9 L590.5,770.6 L593.0,770.2 L595.5,769.3 L598.0,768.7 L600.5,767.8 L603.0,767.3 L605.5,766.2 L608.0,764.9 L610.5,763.9 L613.0,763.0 L615.5,762.0 L618.0,761.0 L620.5,759.8 L623.0,759.0 L625.5,758.5 L628.0,757.7 L630.5,757.2 L633.0,756.9 L635.5,757.2 L638.0,757.0 L640.5,757.5 L643.0,758.0 L645.5,758.8 L648.0,760.1 L650.5,761.4 L653.0,762.5 L655.5,764.0 L658.0,766.1 L660.5,767.8 L663.0,769.8 L665.5,772.5 L668.0,774.7 L670.5,777.5 L673.0,780.0 L675.5,783.1 L678.0,785.9 L680.5,788.8 L683.0,791.8 L685.5,795.2 L688.0,798.3 L690.5,801.4 L693.0,803.7 L695.5,806.6 L698.0,808.9 L700.5,811.1 L703.0,812.8 L705.5,814.5 L708.0,816.1 L710.5,817.6 L713.0,818.2 L715.5,819.3 L718.0,820.2 L720.5,820.9 L723.0,821.0 L725.5,821.4 L728.0,822.1 L730.5,822.4 L733.0,822.4 L735.5,822.4 L738.0,823.0 L740.5,822.8 L743.0,823.2 L745.5,823.1 L748.0,823.3"/>
<path d="M488.0,777.4 L490.5,777.7 L493.0,777.5 L495.5,777.6 L498.0,777.8 L500.5,777.8 L503.0,777.4 L505.5,777.5 L508.0,777.5 L510.5,777.6 L513.0,777.5 L515.5,777.4 L518.0,777.5 L520.5,777.7 L523.0,777.8 L525.5,777.4 L528.0,777.6 L530.5,777.7 L533.0,777.4 L535.5,777.8 L538.0,777.4 L540.5,777.6 L543.0,777.6 L545.5,777.6 L548.0,777.5 L550.5,777.5 L553.0,777.6 L555.5,777.5 L558.0,777.6 L560.5,777.4 L563.0,777.3 L565.5,777.1 L568.0,777.3 L570.5,777.1 L573.0,776.8 L575.5,776.9 L578.0,776.7 L580.5,776.2 L583.0,775.8 L585.5,775.6 L588.0,775.0 L590.5,774.5 L593.0,774.2 L595.5,773.4 L598.0,773.0 L600.5,772.4 L603.0,771.4 L605.5,771.0 L608.0,770.0 L610.5,769.6 L613.0,769.0 L615.5,768.2 L618.0,767.4 L620.5,767.1 L623.0,766.6 L625.5,766.6 L628.0,766.0 L630.5,766.3 L633.0,766.5 L635.5,766.6 L638.0,767.1 L640.5,767.3 L643.0,768.4 L645.5,769.0 L648.0,770.2 L650.5,771.3 L653.0,772.2 L655.5,773.9 L658.0,775.4 L660.5,776.6 L663.0,778.5 L665.5,780.6 L668.0,782.3 L670.5,784.9 L673.0,786.9 L675.5,789.6 L678.0,791.9 L680.5,794.7 L683.0,797.7 L685.5,800.1 L688.0,803.0 L690.5,805.8 L693.0,808.4 L695.5,810.7 L698.0,813.1 L700.5,815.2 L703.0,817.5 L705.5,819.1 L708.0,820.7 L710.5,821.7 L713.0,823.1 L715.5,823.7 L718.0,824.7 L720.5,825.5 L723.0,825.9 L725.5,826.7 L728.0,826.9 L730.5,827.3 L733.0,827.7 L735.5,827.5 L738.0,828.2 L740.5,828.1 L743.0,828.1 L745.5,828.4 L748.0,828.3"/>
<path d="M488.0,782.2 L490.5,782.0 L493.0,781.9 L495.5,782.1 L498.0,782.0 L500.5,781.8 L503.0,782.1 L505.5,781.8 L508.0,782.2 L510.5,781.9 L513.0,782.1 L515.5,782.2 L518.0,782.0 L520.5,782.1 L523.0,781.9 L525.5,781.7 L528.0,781.8 L530.5,781.8 L533.0,782.1 L535.5,782.0 L538.0,782.0 L540.5,782.2 L543.0,781.8 L545.5,781.8 L548.0,782.0 L550.5,781.7 L553.0,781.6 L555.5,781.8 L558.0,781.6 L560.5,781.7 L563.0,781.6 L565.5,781.7 L568.0,781.6 L570.5,781.2 L573.0,781.3 L575.5,781.0 L578.0,780.7 L580.5,780.8 L583.0,780.2 L585.5,779.9 L588.0,779.5 L590.5,779.4 L593.0,779.1 L595.5,778.6 L598.0,778.0 L600.5,777.5 L603.0,776.9 L605.5,776.8 L608.0,776.3 L610.5,775.7 L613.0,775.5 L615.5,775.1 L618.0,775.1 L620.5,774.7 L623.0,774.4 L625.5,774.7 L628.0,774.3 L630.5,774.7 L633.0,774.9 L635.5,775.1 L638.0,775.5 L640.5,776.4 L643.0,776.6 L645.5,777.6 L648.0,778.6 L650.5,779.2 L653.0,780.2 L655.5,781.5 L658.0,782.7 L660.5,784.1 L663.0,785.7 L665.5,787.0 L668.0,788.8 L670.5,790.7 L673.0,792.6 L675.5,795.2 L678.0,797.5 L680.5,799.9 L683.0,802.1 L685.5,805.1 L688.0,807.7 L690.5,810.1 L693.0,812.8 L695.5,815.1 L698.0,817.3 L700.5,819.4 L703.0,821.4 L705.5,823.0 L708.0,824.8 L710.5,826.3 L713.0,827.5 L715.5,828.6 L718.0,829.5 L720.5,830.0 L723.0,830.8 L725.5,831.3 L728.0,831.9 L730.5,832.2 L733.0,832.4 L735.5,832.9 L738.0,833.2 L740.5,833.1 L743.0,833.5 L745.5,833.2 L748.0,833.5"/>
<path d="M488.0,786.3 L490.5,786.5 L493.0,786.6 L495.5,786.5 L498.0,786.3 L500.5,786.6 L503.0,786.3 L505.5,786.3 L508.0,786.6 L510.5,786.5 L513.0,786.5 L515.5,786.5 L518.0,786.6 L520.5,786.4 L523.0,786.6 L525.5,786.5 L528.0,786.6 L530.5,786.4 L533.0,786.5 L535.5,786.4 L538.0,786.3 L540.5,786.2 L543.0,786.4 L545.5,786.1 L548.0,786.5 L550.5,786.1 L553.0,786.0 L555.5,786.1 L558.0,786.4 L560.5,786.1 L563.0,785.9 L565.5,785.8 L568.0,785.7 L570.5,785.9 L573.0,785.8 L575.5,785.7 L578.0,785.5 L580.5,785.0 L583.0,785.1 L585.5,784.7 L588.0,784.7 L590.5,784.5 L593.0,784.3 L595.5,783.6 L598.0,783.7 L600.5,783.4 L603.0,783.2 L605.5,782.5 L608.0,782.3 L610.5,782.1 L613.0,781.9 L615.5,782.1 L618.0,782.0 L620.5,781.9 L623.0,782.0 L625.5,781.9 L628.0,781.9 L630.5,782.0 L633.0,782.3 L635.5,782.9 L638.0,783.0 L640.5,783.6 L643.0,784.1 L645.5,784.5 L648.0,785.3 L650.5,786.1 L653.0,787.2 L655.5,787.9 L658.0,789.0 L660.5,790.4 L663.0,791.5 L665.5,793.1 L668.0,794.5 L670.5,795.9 L673.0,798.0 L675.5,800.0 L678.0,802.3 L680.5,804.4 L683.0,807.0 L685.5,809.4 L688.0,811.7 L690.5,814.5 L693.0,816.6 L695.5,819.4 L698.0,821.3 L700.5,823.4 L703.0,825.5 L705.5,827.6 L708.0,829.3 L710.5,830.3 L713.0,831.8 L715.5,833.0 L718.0,834.1 L720.5,834.6 L723.0,835.5 L725.5,836.1 L728.0,836.8 L730.5,837.0 L733.0,837.7 L735.5,837.7 L738.0,837.9 L740.5,838.4 L743.0,838.5 L745.5,838.5 L748.0,838.8"/>
<path d="M488.0,790.6 L490.5,790.9 L493.0,790.9 L495.5,790.9 L498.0,790.9 L500.5,790.7 L503.0,790.8 L505.5,790.7 L508.0,791.0 L510.5,790.6 L513.0,791.0 L515.5,790.6 L518.0,790.7 L520.5,790.7 L523.0,791.0 L525.5,790.8 L528.0,790.7 L530.5,791.0 L533.0,790.7 L535.5,790.8 L538.0,790.8 L540.5,790.9 L543.0,790.9 L545.5,790.9 L548.0,790.7 L550.5,790.7 L553.0,790.6 L555.5,791.0 L558.0,790.9 L560.5,790.9 L563.0,790.6 L565.5,790.8 L568.0,790.9 L570.5,790.8 L573.0,790.6 L575.5,790.7 L578.0,790.9 L580.5,790.5 L583.0,790.4 L585.5,790.4 L588.0,790.4 L590.5,790.4 L593.0,789.8 L595.5,789.6 L598.0,789.4 L600.5,789.1 L603.0,788.8 L605.5,788.3 L608.0,788.0 L610.5,787.5 L613.0,787.5 L615.5,787.0 L618.0,786.4 L620.5,786.6 L623.0,786.0 L625.5,786.0 L628.0,786.4 L630.5,786.4 L633.0,786.7 L635.5,786.9 L638.0,787.3 L640.5,788.2 L643.0,788.7 L645.5,789.7 L648.0,790.8 L650.5,791.9 L653.0,793.5 L655.5,795.4 L658.0,797.4 L660.5,799.6 L663.0,802.3 L665.5,805.3 L668.0,808.5 L670.5,812.3 L673.0,816.0 L675.5,820.0 L678.0,823.8 L680.5,827.0 L683.0,830.2 L685.5,833.1 L688.0,835.3 L690.5,837.2 L693.0,839.0 L695.5,840.4 L698.0,841.4 L700.5,842.2 L703.0,842.9 L705.5,843.3 L708.0,843.6 L710.5,843.8 L713.0,844.0 L715.5,844.3 L718.0,844.2 L720.5,844.4 L723.0,844.7 L725.5,844.7 L728.0,844.7 L730.5,844.5 L733.0,844.6 L735.5,844.7 L738.0,844.8 L740.5,844.7 L743.0,844.8 L745.5,845.0 L748.0,844.6"/>
<path d="M488.0,795.3 L490.5,795.3 L493.0,795.1 L495.5,795.2 L498.0,795.4 L500.5,795.0 L503.0,795.2 L505.5,795.0 L508.0,795.3 L510.5,795.4 L513.0,795.2 L515.5,795.0 L518.0,795.2 L520.5,795.2 L523.0,795.3 L525.5,795.2 L528.0,795.3 L530.5,795.4 L533.0,795.2 L535.5,795.2 L538.0,795.4 L540.5,795.1 L543.0,795.3 L545.5,795.1 L548.0,795.3 L550.5,795.0 L553.0,795.4 L555.5,795.1 L558.0,795.0 L560.5,795.1 L563.0,795.1 L565.5,794.9 L568.0,795.1 L570.5,795.1 L573.0,795.2 L575.5,795.1 L578.0,795.0 L580.5,794.9 L583.0,795.1 L585.5,795.1 L588.0,794.8 L590.5,794.5 L593.0,794.6 L595.5,794.2 L598.0,793.8 L600.5,793.5 L603.0,793.5 L605.5,793.1 L608.0,792.6 L610.5,792.1 L613.0,791.8 L615.5,791.2 L618.0,791.3 L620.5,790.7 L623.0,790.6 L625.5,790.6 L628.0,790.6 L630.5,790.6 L633.0,790.7 L635.5,791.2 L638.0,791.5 L640.5,792.5 L643.0,793.0 L645.5,794.2 L648.0,795.0 L650.5,796.2 L653.0,797.6 L655.5,799.4 L658.0,801.2 L660.5,803.4 L663.0,806.3 L665.5,809.1 L668.0,812.3 L670.5,815.9 L673.0,819.8 L675.5,823.6 L678.0,827.5 L680.5,831.1 L683.0,834.2 L685.5,837.4 L688.0,839.9 L690.5,841.6 L693.0,843.7 L695.5,845.2 L698.0,846.3 L700.5,846.8 L703.0,847.9 L705.5,848.3 L708.0,848.5 L710.5,848.8 L713.0,849.5 L715.5,849.5 L718.0,849.5 L720.5,849.5 L723.0,849.6 L725.5,849.7 L728.0,850.1 L730.5,849.9 L733.0,849.8 L735.5,850.2 L738.0,850.2 L740.5,849.9 L743.0,850.3 L745.5,850.1 L748.0,850.2"/>
<path d="M488.0,799.7 L490.5,799.8 L493.0,799.7 L495.5,799.8 L498.0,799.4 L500.5,799.7 L503.0,799.6 L505.5,799.7 L508.0,799.6 L510.5,799.8 L513.0,799.6 L515.5,799.5 L518.0,799.5 L520.5,799.4 L523.0,799.6 L525.5,799.4 L528.0,799.6 L530.5,799.4 L533.0,799.6 L535.5,799.6 L538.0,799.6 L540.5,799.8 L543.0,799.4 L545.5,799.8 L548.0,799.6 L550.5,799.6 L553.0,799.7 L555.5,799.8 L558.0,799.5 L560.5,799.6 L563.0,799.8 L565.5,799.4 L568.0,799.6 L570.5,799.6 L573.0,799.3 L575.5,799.6 L578.0,799.6 L580.5,799.7 L583.0,799.3 L585.5,799.5 L588.0,799.2 L590.5,799.1 L593.0,799.1 L595.5,798.4 L598.0,798.5 L600.5,798.2 L603.0,797.7 L605.5,797.6 L608.0,797.0 L610.5,796.6 L613.0,796.2 L615.5,796.0 L618.0,795.3 L620.5,795.2 L623.0,794.9 L625.5,794.9 L628.0,795.0 L630.5,794.8 L633.0,795.3 L635.5,795.4 L638.0,796.0 L640.5,796.5 L643.0,797.3 L645.5,798.5 L648.0,799.3 L650.5,800.6 L653.0,801.8 L655.5,803.4 L658.0,805.3 L660.5,807.7 L663.0,810.2 L665.5,813.2 L668.0,816.1 L670.5,819.9 L673.0,823.8 L675.5,827.4 L678.0,831.0 L680.5,834.8 L683.0,838.1 L685.5,841.2 L688.0,844.2 L690.5,846.3 L693.0,848.3 L695.5,849.9 L698.0,851.2 L700.5,852.0 L703.0,852.8 L705.5,853.4 L708.0,853.9 L710.5,854.2 L713.0,854.6 L715.5,854.6 L718.0,855.0 L720.5,855.0 L723.0,855.2 L725.5,855.0 L728.0,855.1 L730.5,855.0 L733.0,855.4 L735.5,855.5 L738.0,855.4 L740.5,855.3 L743.0,855.5 L745.5,855.5 L748.0,855.4"/>
<path d="M488.0,803.9 L490.5,803.9 L493.0,804.0 L495.5,803.9 L498.0,804.0 L500.5,804.1 L503.0,804.2 L505.5,803.8 L508.0,804.0 L510.5,803.8 L513.0,803.8 L515.5,804.2 L518.0,804.0 L520.5,804.2 L523.0,804.0 L525.5,803.8 L528.0,803.9 L530.5,804.0 L533.0,804.2 L535.5,804.2 L538.0,804.0 L540.5,804.0 L543.0,803.8 L545.5,804.1 L548.0,803.9 L550.5,803.8 L553.0,803.8 L555.5,803.8 L558.0,804.1 L560.5,803.8 L563.0,804.2 L565.5,803.8 L568.0,804.2 L570.5,803.8 L573.0,803.7 L575.5,804.0 L578.0,803.8 L580.5,804.0 L583.0,803.7 L585.5,803.5 L588.0,803.8 L590.5,803.6 L593.0,803.5 L595.5,803.2 L598.0,802.7 L600.5,802.7 L603.0,802.4 L605.5,801.9 L608.0,801.7 L610.5,801.0 L613.0,800.9 L615.5,800.4 L618.0,799.7 L620.5,799.4 L623.0,799.5 L625.5,799.4 L628.0,799.0 L630.5,799.2 L633.0,799.6 L635.5,799.6 L638.0,800.4 L640.5,800.8 L643.0,801.3 L645.5,802.4 L648.0,803.5 L650.5,804.6 L653.0,806.1 L655.5,807.5 L658.0,809.7 L660.5,811.6 L663.0,814.2 L665.5,817.1 L668.0,820.1 L670.5,823.6 L673.0,827.5 L675.5,831.4 L678.0,835.2 L680.5,838.8 L683.0,842.2 L685.5,845.2 L688.0,848.5 L690.5,850.8 L693.0,852.9 L695.5,854.3 L698.0,855.8 L700.5,857.1 L703.0,857.9 L705.5,858.4 L708.0,858.8 L710.5,859.3 L713.0,859.9 L715.5,859.9 L718.0,860.2 L720.5,860.3 L723.0,860.6 L725.5,860.6 L728.0,860.4 L730.5,860.3 L733.0,860.5 L735.5,860.6 L738.0,860.7 L740.5,860.8 L743.0,860.9 L745.5,860.5 L748.0,860.9"/>
<path d="M488.0,808.6 L490.5,808.6 L493.0,808.4 L495.5,808.3 L498.0,808.6 L500.5,808.6 L503.0,808.5 L505.5,808.6 L508.0,808.3 L510.5,808.2 L513.0,808.4 L515.5,808.5 L518.0,808.3 L520.5,808.5 L523.0,808.6 L525.5,808.3 L528.0,808.5 L530.5,808.5 L533.0,808.4 L535.5,808.3 L538.0,808.3 L540.5,808.5 L543.0,808.5 L545.5,808.4 L548.0,808.2 L550.5,808.6 L553.0,808.5 L555.5,808.3 L558.0,808.4 L560.5,808.6 L563.0,808.6 L565.5,808.4 L568.0,808.4 L570.5,808.4 L573.0,808.2 L575.5,808.2 L578.0,808.2 L580.5,808.4 L583.0,808.2 L585.5,808.2 L588.0,808.0 L590.5,807.9 L593.0,807.6 L595.5,807.4 L598.0,807.6 L600.5,807.0 L603.0,806.6 L605.5,806.5 L608.0,806.2 L610.5,805.4 L613.0,805.2 L615.5,804.7 L618.0,804.4 L620.5,803.8 L623.0,803.6 L625.5,803.9 L628.0,803.7 L630.5,803.6 L633.0,803.8 L635.5,803.9 L638.0,804.6 L640.5,805.0 L643.0,806.0 L645.5,806.8 L648.0,807.8 L650.5,809.1 L653.0,810.1 L655.5,811.5 L658.0,813.4 L660.5,815.6 L663.0,817.9 L665.5,820.7 L668.0,824.1 L670.5,827.6 L673.0,831.1 L675.5,835.2 L678.0,839.0 L680.5,842.4 L683.0,846.3 L685.5,849.5 L688.0,852.3 L690.5,855.3 L693.0,857.1 L695.5,859.1 L698.0,860.6 L700.5,861.9 L703.0,862.7 L705.5,863.4 L708.0,864.0 L710.5,864.3 L713.0,865.1 L715.5,865.4 L718.0,865.2 L720.5,865.3 L723.0,865.5 L725.5,865.7 L728.0,866.0 L730.5,866.1 L733.0,866.1 L735.5,865.7 L738.0,866.1 L740.5,866.1 L743.0,866.1 L745.5,866.3 L748.0,865.8"/>
<path d="M488.0,812.6 L490.5,812.9 L493.0,813.0 L495.5,812.9 L498.0,812.7 L500.5,812.8 L503.0,812.9 L505.5,812.6 L508.0,812.7 L510.5,812.7 L513.0,812.6 L515.5,812.8 L518.0,812.6 L520.5,812.7 L523.0,812.6 L525.5,812.9 L528.0,812.6 L530.5,812.9 L533.0,812.6 L535.5,812.6 L538.0,813.0 L540.5,812.7 L543.0,813.0 L545.5,813.0 L548.0,813.0 L550.5,812.6 L553.0,812.8 L555.5,812.6 L558.0,813.0 L560.5,813.0 L563.0,812.9 L565.5,812.8 L568.0,812.7 L570.5,812.9 L573.0,812.8 L575.5,812.8 L578.0,812.5 L580.5,812.6 L583.0,812.4 L585.5,812.7 L588.0,812.5 L590.5,812.2 L593.0,812.4 L595.5,811.9 L598.0,811.8 L600.5,811.4 L603.0,811.1 L605.5,811.1 L608.0,810.4 L610.5,809.9 L613.0,809.7 L615.5,809.2 L618.0,809.1 L620.5,808.3 L623.0,808.5 L625.5,807.8 L628.0,808.1 L630.5,808.0 L633.0,807.9 L635.5,808.3 L638.0,808.7 L640.5,809.2 L643.0,809.9 L645.5,810.8 L648.0,812.1 L650.5,813.2 L653.0,814.5 L655.5,815.7 L658.0,817.6 L660.5,820.0 L663.0,821.9 L665.5,825.0 L668.0,827.8 L670.5,831.5 L673.0,834.7 L675.5,838.9 L678.0,842.5 L680.5,846.3 L683.0,849.9 L685.5,853.7 L688.0,856.7 L690.5,859.2 L693.0,861.6 L695.5,863.8 L698.0,865.1 L700.5,866.5 L703.0,867.4 L705.5,868.2 L708.0,869.2 L710.5,869.7 L713.0,869.8 L715.5,870.1 L718.0,870.4 L720.5,870.8 L723.0,870.9 L725.5,870.9 L728.0,871.0 L730.5,871.2 L733.0,871.3 L735.5,871.4 L738.0,871.3 L740.5,871.2 L743.0,871.1 L745.5,871.5 L748.0,871.3"/>
<path d="M488.0,817.3 L490.5,817.0 L493.0,817.4 L495.5,817.1 L498.0,817.4 L500.5,817.4 L503.0,817.2 L505.5,817.0 L508.0,817.4 L510.5,817.2 L513.0,817.4 L515.5,817.1 L518.0,817.0 L520.5,817.4 L523.0,817.1 L525.5,817.0 L528.0,817.1 L530.5,817.2 L533.0,817.0 L535.5,817.2 L538.0,817.2 L540.5,817.2 L543.0,817.0 L545.5,817.3 L548.0,817.4 L550.5,817.4 L553.0,817.1 L555.5,817.3 L558.0,817.1 L560.5,817.3 L563.0,817.0 L565.5,817.4 L568.0,817.4 L570.5,817.2 L573.0,817.2 L575.5,817.2 L578.0,817.2 L580.5,816.9 L583.0,817.3 L585.5,816.9 L588.0,816.8 L590.5,816.6 L593.0,816.5 L595.5,816.6 L598.0,816.0 L600.5,815.8 L603.0,815.8 L605.5,815.2 L608.0,814.8 L610.5,814.6 L613.0,814.2 L615.5,813.8 L618.0,813.5 L620.5,812.8 L623.0,812.9 L625.5,812.6 L628.0,812.1 L630.5,812.1 L633.0,812.4 L635.5,812.7 L638.0,812.9 L640.5,813.4 L643.0,814.2 L645.5,814.9 L648.0,816.1 L650.5,817.3 L653.0,818.3 L655.5,820.1 L658.0,821.9 L660.5,823.6 L663.0,826.3 L665.5,829.0 L668.0,831.7 L670.5,835.0 L673.0,838.8 L675.5,842.5 L678.0,846.3 L680.5,850.5 L683.0,854.2 L685.5,857.5 L688.0,860.6 L690.5,863.5 L693.0,866.0 L695.5,868.4 L698.0,870.0 L700.5,871.5 L703.0,872.6 L705.5,873.5 L708.0,873.9 L710.5,874.7 L713.0,875.4 L715.5,875.7 L718.0,875.6 L720.5,875.9 L723.0,876.2 L725.5,876.2 L728.0,876.4 L730.5,876.3 L733.0,876.5 L735.5,876.6 L738.0,876.4 L740.5,876.5 L743.0,876.9 L745.5,876.8 L748.0,876.9"/>
<path d="M488.0,821.7 L490.5,821.8 L493.0,821.8 L495.5,821.8 L498.0,821.4 L500.5,821.7 L503.0,821.5 L505.5,821.7 L508.0,821.5 L510.5,821.6 L513.0,821.8 L515.5,821.7 L518.0,821.5 L520.5,821.6 L523.0,821.6 L525.5,821.8 L528.0,821.5 L530.5,821.5 L533.0,821.7 L535.5,821.4 L538.0,821.6 L540.5,821.8 L543.0,821.6 L545.5,821.5 L548.0,821.6 L550.5,821.6 L553.0,821.4 L555.5,821.4 L558.0,821.4 L560.5,821.5 L563.0,821.5 L565.5,821.5 L568.0,821.5 L570.5,821.4 L573.0,821.6 L575.5,821.7 L578.0,821.6 L580.5,821.5 L583.0,821.5 L585.5,821.3 L588.0,821.4 L590.5,821.2 L593.0,821.1 L595.5,821.0 L598.0,820.7 L600.5,820.4 L603.0,820.1 L605.5,819.7 L608.0,819.5 L610.5,819.0 L613.0,818.7 L615.5,818.0 L618.0,817.8 L620.5,817.6 L623.0,817.0 L625.5,816.9 L628.0,816.7 L630.5,816.6 L633.0,817.0 L635.5,816.9 L638.0,817.4 L640.5,817.6 L643.0,818.2 L645.5,819.4 L648.0,820.2 L650.5,821.1 L653.0,822.6 L655.5,824.1 L658.0,826.0 L660.5,827.7 L663.0,830.0 L665.5,833.0 L668.0,835.8 L670.5,838.7 L673.0,842.4 L675.5,846.1 L678.0,850.2 L680.5,854.1 L683.0,858.0 L685.5,861.6 L688.0,864.8 L690.5,867.9 L693.0,870.5 L695.5,872.7 L698.0,874.5 L700.5,876.1 L703.0,877.4 L705.5,878.5 L708.0,878.9 L710.5,879.9 L713.0,880.0 L715.5,880.8 L718.0,881.0 L720.5,881.2 L723.0,881.6 L725.5,881.6 L728.0,881.6 L730.5,881.9 L733.0,882.0 L735.5,881.9 L738.0,881.9 L740.5,881.9 L743.0,882.0 L745.5,882.1 L748.0,881.9"/>
<path d="M488.0,825.9 L490.5,826.0 L493.0,825.9 L495.5,825.9 L498.0,826.1 L500.5,826.2 L503.0,826.0 L505.5,826.0 L508.0,825.8 L510.5,825.9 L513.0,825.8 L515.5,826.0 L518.0,826.0 L520.5,825.8 L523.0,826.2 L525.5,825.9 L528.0,826.2 L530.5,826.2 L533.0,826.2 L535.5,825.9 L538.0,826.0 L540.5,826.2 L543.0,825.8 L545.5,825.8 L548.0,826.0 L550.5,826.0 L553.0,826.2 L555.5,826.1 L558.0,826.0 L560.5,826.2 L563.0,826.0 L565.5,826.0 L568.0,826.1 L570.5,825.9 L573.0,825.9 L575.5,826.0 L578.0,825.9 L580.5,826.1 L583.0,826.0 L585.5,825.8 L588.0,825.6 L590.5,825.6 L593.0,825.5 L595.5,825.4 L598.0,825.2 L600.5,825.1 L603.0,824.9 L605.5,824.3 L608.0,823.9 L610.5,823.6 L613.0,823.4 L615.5,822.7 L618.0,822.3 L620.5,822.1 L623.0,821.4 L625.5,821.2 L628.0,821.4 L630.5,821.2 L633.0,821.1 L635.5,821.1 L638.0,821.8 L640.5,822.2 L643.0,822.9 L645.5,823.7 L648.0,824.6 L650.5,825.5 L653.0,826.6 L655.5,828.2 L658.0,830.0 L660.5,831.9 L663.0,834.0 L665.5,836.5 L668.0,839.6 L670.5,842.8 L673.0,846.2 L675.5,850.2 L678.0,853.9 L680.5,857.6 L683.0,861.6 L685.5,865.5 L688.0,868.7 L690.5,872.0 L693.0,874.4 L695.5,876.9 L698.0,879.2 L700.5,880.7 L703.0,882.1 L705.5,883.0 L708.0,884.0 L710.5,884.8 L713.0,885.2 L715.5,885.9 L718.0,886.1 L720.5,886.7 L723.0,886.7 L725.5,886.8 L728.0,886.7 L730.5,886.9 L733.0,887.2 L735.5,887.0 L738.0,887.0 L740.5,887.1 L743.0,887.3 L745.5,887.5 L748.0,887.4"/>
<path d="M488.0,830.6 L490.5,830.2 L493.0,830.2 L495.5,830.5 L498.0,830.3 L500.5,830.5 L503.0,830.3 L505.5,830.2 L508.0,830.3 L510.5,830.2 L513.0,830.6 L515.5,830.4 L518.0,830.3 L520.5,830.4 L523.0,830.3 L525.5,830.2 L528.0,830.6 L530.5,830.4 L533.0,830.6 L535.5,830.4 L538.0,830.5 L540.5,830.3 L543.0,830.2 L545.5,830.6 L548.0,830.6 L550.5,830.3 L553.0,830.6 L555.5,830.6 L558.0,830.3 L560.5,830.4 L563.0,830.6 L565.5,830.4 L568.0,830.6 L570.5,830.3 L573.0,830.3 L575.5,830.5 L578.0,830.2 L580.5,830.2 L583.0,830.5 L585.5,830.2 L588.0,830.3 L590.5,830.0 L593.0,829.8 L595.5,829.7 L598.0,829.5 L600.5,829.6 L603.0,829.0 L605.5,828.9 L608.0,828.3 L610.5,828.1 L613.0,827.6 L615.5,827.2 L618.0,826.6 L620.5,826.2 L623.0,826.2 L625.5,825.7 L628.0,825.4 L630.5,825.3 L633.0,825.3 L635.5,825.5 L638.0,825.7 L640.5,826.4 L643.0,826.9 L645.5,827.5 L648.0,828.7 L650.5,829.5 L653.0,830.8 L655.5,832.6 L658.0,833.9 L660.5,836.0 L663.0,838.4 L665.5,840.8 L668.0,843.3 L670.5,846.5 L673.0,850.2 L675.5,853.7 L678.0,857.8 L680.5,861.4 L683.0,865.7 L685.5,869.3 L688.0,872.7 L690.5,876.0 L693.0,878.7 L695.5,881.5 L698.0,883.4 L700.5,885.5 L703.0,886.8 L705.5,887.9 L708.0,888.9 L710.5,889.8 L713.0,890.2 L715.5,891.1 L718.0,891.1 L720.5,891.6 L723.0,891.9 L725.5,891.9 L728.0,892.3 L730.5,892.2 L733.0,892.5 L735.5,892.5 L738.0,892.4 L740.5,892.5 L743.0,892.4 L745.5,892.5 L748.0,892.8"/>
<path d="M488.0,834.7 L490.5,834.9 L493.0,834.6 L495.5,834.8 L498.0,834.7 L500.5,834.8 L503.0,834.7 L505.5,834.6 L508.0,834.7 L510.5,834.7 L513.0,834.6 L515.5,834.9 L518.0,834.7 L520.5,834.8 L523.0,835.0 L525.5,834.9 L528.0,835.0 L530.5,835.0 L533.0,834.6 L535.5,834.7 L538.0,834.6 L540.5,834.9 L543.0,834.9 L545.5,834.7 L548.0,834.8 L550.5,834.9 L553.0,834.9 L555.5,834.7 L558.0,835.0 L560.5,834.7 L563.0,834.9 L565.5,834.6 L568.0,834.6 L570.5,835.0 L573.0,834.9 L575.5,834.9 L578.0,834.5 L580.5,834.5 L583.0,834.5 L585.5,834.5 L588.0,834.5 L590.5,834.5 L593.0,834.2 L595.5,834.2 L598.0,834.2 L600.5,833.7 L603.0,833.8 L605.5,833.3 L608.0,833.1 L610.5,832.4 L613.0,832.1 L615.5,831.8 L618.0,831.2 L620.5,830.6 L623.0,830.7 L625.5,830.3 L628.0,829.8 L630.5,829.6 L633.0,830.0 L635.5,830.0 L638.0,830.0 L640.5,830.5 L643.0,831.0 L645.5,832.1 L648.0,832.7 L650.5,834.1 L653.0,835.2 L655.5,836.3 L658.0,838.3 L660.5,840.0 L663.0,842.3 L665.5,844.8 L668.0,847.3 L670.5,850.3 L673.0,854.1 L675.5,857.5 L678.0,861.6 L680.5,865.4 L683.0,869.4 L685.5,873.3 L688.0,876.8 L690.5,880.1 L693.0,882.9 L695.5,885.8 L698.0,887.9 L700.5,889.9 L703.0,891.7 L705.5,892.6 L708.0,894.0 L710.5,894.5 L713.0,895.5 L715.5,896.1 L718.0,896.3 L720.5,896.8 L723.0,897.3 L725.5,897.3 L728.0,897.5 L730.5,897.4 L733.0,897.5 L735.5,897.7 L738.0,897.8 L740.5,897.7 L743.0,897.8 L745.5,897.8 L748.0,898.1"/>
<path d="M488.0,839.3 L490.5,839.1 L493.0,839.1 L495.5,839.2 L498.0,839.2 L500.5,839.4 L503.0,839.1 L505.5,839.1 L508.0,839.4 L510.5,839.0 L513.0,839.2 L515.5,839.1 L518.0,839.4 L520.5,839.2 L523.0,839.3 L525.5,839.0 L528.0,839.3 L530.5,839.2 L533.0,839.2 L535.5,839.3 L538.0,839.4 L540.5,839.0 L543.0,839.1 L545.5,839.1 L548.0,839.1 L550.5,839.0 L553.0,839.1 L555.5,839.0 L558.0,839.3 L560.5,839.2 L563.0,839.0 L565.5,839.1 L568.0,839.2 L570.5,839.1 L573.0,839.0 L575.5,839.0 L578.0,838.9 L580.5,839.4 L583.0,839.2 L585.5,838.9 L588.0,839.1 L590.5,839.2 L593.0,838.9 L595.5,838.5 L598.0,838.5 L600.5,838.3 L603.0,837.9 L605.5,837.8 L608.0,837.2 L610.5,837.3 L613.0,836.7 L615.5,836.3 L618.0,836.0 L620.5,835.4 L623.0,834.9 L625.5,834.5 L628.0,834.2 L630.5,834.0 L633.0,834.3 L635.5,834.4 L638.0,834.4 L640.5,834.7 L643.0,835.5 L645.5,836.3 L648.0,837.2 L650.5,837.9 L653.0,839.4 L655.5,840.8 L658.0,842.4 L660.5,844.0 L663.0,846.1 L665.5,848.8 L668.0,851.2 L670.5,854.3 L673.0,857.7 L675.5,861.2 L678.0,865.3 L680.5,868.9 L683.0,872.8 L685.5,876.9 L688.0,880.7 L690.5,884.2 L693.0,887.3 L695.5,890.2 L698.0,892.6 L700.5,894.4 L703.0,896.1 L705.5,897.4 L708.0,898.6 L710.5,899.7 L713.0,900.2 L715.5,901.1 L718.0,901.4 L720.5,901.9 L723.0,902.5 L725.5,902.3 L728.0,902.4 L730.5,902.8 L733.0,902.8 L735.5,903.2 L738.0,902.9 L740.5,903.3 L743.0,903.4 L745.5,903.4 L748.0,903.2"/>
<path d="M488.0,843.5 L490.5,843.7 L493.0,843.6 L495.5,843.6 L498.0,843.5 L500.5,843.6 L503.0,843.7 L505.5,843.8 L508.0,843.8 L510.5,843.4 L513.0,843.5 L515.5,843.6 L518.0,843.6 L520.5,843.5 L523.0,843.4 L525.5,843.4 L528.0,843.5 L530.5,843.6 L533.0,843.8 L535.5,843.8 L538.0,843.8 L540.5,843.8 L543.0,843.8 L545.5,843.7 L548.0,843.8 L550.5,843.4 L553.0,843.7 L555.5,843.7 L558.0,843.5 L560.5,843.6 L563.0,843.8 L565.5,843.6 L568.0,843.7 L570.5,843.5 L573.0,843.5 L575.5,843.8 L578.0,843.3 L580.5,843.4 L583.0,843.6 L585.5,843.5 L588.0,843.2 L590.5,843.4 L593.0,843.2 L595.5,843.2 L598.0,842.9 L600.5,842.8 L603.0,842.6 L605.5,842.2 L608.0,841.7 L610.5,841.4 L613.0,841.4 L615.5,840.8 L618.0,840.1 L620.5,840.0 L623.0,839.3 L625.5,838.9 L628.0,838.8 L630.5,838.5 L633.0,838.5 L635.5,838.6 L638.0,838.7 L640.5,839.2 L643.0,839.5 L645.5,840.4 L648.0,841.2 L650.5,842.0 L653.0,843.4 L655.5,844.6 L658.0,846.4 L660.5,848.4 L663.0,850.3 L665.5,852.7 L668.0,855.4 L670.5,858.0 L673.0,861.7 L675.5,865.2 L678.0,868.6 L680.5,872.9 L683.0,876.7 L685.5,880.5 L688.0,884.7 L690.5,888.1 L693.0,891.4 L695.5,894.0 L698.0,896.9 L700.5,898.7 L703.0,900.6 L705.5,902.2 L708.0,903.3 L710.5,904.6 L713.0,905.3 L715.5,906.0 L718.0,906.7 L720.5,907.0 L723.0,907.6 L725.5,907.8 L728.0,908.1 L730.5,908.1 L733.0,908.4 L735.5,908.5 L738.0,908.2 L740.5,908.6 L743.0,908.4 L745.5,908.7 L748.0,908.7"/>
<path d="M488.0,849.8 L490.5,849.4 L493.0,849.5 L495.5,849.7 L498.0,849.8 L500.5,849.7 L503.0,849.4 L505.5,849.6 L508.0,849.4 L510.5,849.6 L513.0,849.7 L515.5,849.4 L518.0,849.8 L520.5,849.7 L523.0,849.5 L525.5,849.4 L528.0,849.6 L530.5,849.8 L533.0,849.6 L535.5,849.4 L538.0,849.4 L540.5,849.4 L543.0,849.7 L545.5,849.4 L548.0,849.6 L550.5,849.5 L553.0,849.7 L555.5,849.5 L558.0,849.4 L560.5,849.8 L563.0,849.6 L565.5,849.7 L568.0,849.7 L570.5,849.8 L573.0,849.3 L575.5,849.5 L578.0,849.4 L580.5,849.5 L583.0,849.7 L585.5,849.6 L588.0,849.2 L590.5,849.2 L593.0,849.4 L595.5,849.3 L598.0,849.0 L600.5,848.8 L603.0,848.4 L605.5,848.5 L608.0,848.0 L610.5,847.8 L613.0,847.3 L615.5,846.6 L618.0,846.3 L620.5,845.8 L623.0,845.7 L625.5,845.2 L628.0,844.6 L630.5,844.5 L633.0,844.4 L635.5,844.5 L638.0,844.7 L640.5,845.0 L643.0,845.4 L645.5,845.9 L648.0,847.0 L650.5,847.8 L653.0,848.8 L655.5,850.4 L658.0,852.2 L660.5,853.5 L663.0,855.5 L665.5,858.1 L668.0,860.4 L670.5,863.2 L673.0,866.5 L675.5,869.8 L678.0,873.6 L680.5,877.4 L683.0,881.5 L685.5,885.4 L688.0,888.7 L690.5,892.5 L693.0,895.9 L695.5,898.9 L698.0,901.5 L700.5,903.7 L703.0,905.6 L705.5,907.1 L708.0,908.4 L710.5,909.7 L713.0,910.7 L715.5,911.4 L718.0,911.9 L720.5,912.1 L723.0,912.7 L725.5,913.0 L728.0,913.2 L730.5,913.4 L733.0,913.4 L735.5,913.6 L738.0,913.7 L740.5,913.6 L743.0,913.7 L745.5,913.8 L748.0,914.2"/>
<path d="M488.0,855.6 L490.5,855.5 L493.0,855.5 L495.5,855.4 L498.0,855.5 L500.5,855.4 L503.0,855.3 L505.5,855.8 L508.0,855.6 L510.5,855.6 L513.0,855.6 L515.5,855.5 L518.0,855.4 L520.5,855.4 L523.0,855.5 L525.5,855.5 L528.0,855.7 L530.5,855.6 L533.0,855.8 L535.5,855.5 L538.0,855.8 L540.5,855.6 L543.0,855.4 L545.5,855.4 L548.0,855.6 L550.5,855.8 L553.0,855.5 L555.5,855.7 L558.0,855.5 L560.5,855.8 L563.0,855.4 L565.5,855.6 L568.0,855.8 L570.5,855.5 L573.0,855.4 L575.5,855.3 L578.0,855.4 L580.5,855.4 L583.0,855.6 L585.5,855.3 L588.0,855.4 L590.5,855.2 L593.0,855.3 L595.5,855.4 L598.0,855.1 L600.5,854.7 L603.0,854.8 L605.5,854.6 L608.0,854.1 L610.5,853.5 L613.0,853.5 L615.5,853.1 L618.0,852.4 L620.5,851.8 L623.0,851.4 L625.5,851.2 L628.0,851.1 L630.5,850.7 L633.0,850.7 L635.5,850.3 L638.0,850.5 L640.5,851.0 L643.0,851.4 L645.5,851.9 L648.0,852.8 L650.5,853.6 L653.0,854.5 L655.5,856.0 L658.0,857.3 L660.5,859.3 L663.0,861.1 L665.5,863.3 L668.0,865.8 L670.5,868.4 L673.0,871.5 L675.5,874.6 L678.0,878.6 L680.5,882.1 L683.0,886.1 L685.5,889.5 L688.0,893.5 L690.5,897.1 L693.0,900.2 L695.5,903.1 L698.0,905.8 L700.5,908.1 L703.0,910.4 L705.5,911.8 L708.0,913.5 L710.5,914.5 L713.0,915.5 L715.5,916.3 L718.0,916.9 L720.5,917.5 L723.0,917.9 L725.5,918.0 L728.0,918.5 L730.5,918.5 L733.0,918.9 L735.5,919.0 L738.0,919.1 L740.5,919.0 L743.0,919.3 L745.5,919.4 L748.0,919.2"/>
<path d="M488.0,861.5 L490.5,861.6 L493.0,861.8 L495.5,861.4 L498.0,861.3 L500.5,861.6 L503.0,861.6 L505.5,861.7 L508.0,861.5 L510.5,861.8 L513.0,861.4 L515.5,861.7 L518.0,861.4 L520.5,861.3 L523.0,861.4 L525.5,861.4 L528.0,861.6 L530.5,861.6 L533.0,861.4 L535.5,861.8 L538.0,861.5 L540.5,861.4 L543.0,861.4 L545.5,861.7 L548.0,861.8 L550.5,861.4 L553.0,861.3 L555.5,861.7 L558.0,861.4 L560.5,861.8 L563.0,861.6 L565.5,861.6 L568.0,861.5 L570.5,861.7 L573.0,861.5 L575.5,861.5 L578.0,861.7 L580.5,861.3 L583.0,861.6 L585.5,861.3 L588.0,861.5 L590.5,861.3 L593.0,861.5 L595.5,861.0 L598.0,861.1 L600.5,860.9 L603.0,860.9 L605.5,860.7 L608.0,860.2 L610.5,859.7 L613.0,859.3 L615.5,858.9 L618.0,858.5 L620.5,858.0 L623.0,857.5 L625.5,857.4 L628.0,857.0 L630.5,856.5 L633.0,856.7 L635.5,856.3 L638.0,856.5 L640.5,856.6 L643.0,857.3 L645.5,857.9 L648.0,858.3 L650.5,859.5 L653.0,860.6 L655.5,861.6 L658.0,863.0 L660.5,864.8 L663.0,866.8 L665.5,868.6 L668.0,871.2 L670.5,873.7 L673.0,876.6 L675.5,879.8 L678.0,883.4 L680.5,886.6 L683.0,890.7 L685.5,894.2 L688.0,898.1 L690.5,901.7 L693.0,904.7 L695.5,908.0 L698.0,910.8 L700.5,912.9 L703.0,914.8 L705.5,916.6 L708.0,918.5 L710.5,919.2 L713.0,920.7 L715.5,921.2 L718.0,922.1 L720.5,922.3 L723.0,922.8 L725.5,923.4 L728.0,923.4 L730.5,923.8 L733.0,924.2 L735.5,924.3 L738.0,924.5 L740.5,924.6 L743.0,924.2 L745.5,924.4 L748.0,924.7"/>
<path d="M488.0,867.7 L490.5,867.3 L493.0,867.6 L495.5,867.4 L498.0,867.5 L500.5,867.4 L503.0,867.3 L505.5,867.8 L508.0,867.5 L510.5,867.7 L513.0,867.4 L515.5,867.6 L518.0,867.4 L520.5,867.5 L523.0,867.4 L525.5,867.7 L528.0,867.4 L530.5,867.7 L533.0,867.6 L535.5,867.4 L538.0,867.5 L540.5,867.6 L543.0,867.8 L545.5,867.5 L548.0,867.4 L550.5,867.8 L553.0,867.8 L555.5,867.7 L558.0,867.4 L560.5,867.4 L563.0,867.4 L565.5,867.3 L568.0,867.3 L570.5,867.6 L573.0,867.5 L575.5,867.6 L578.0,867.5 L580.5,867.3 L583.0,867.6 L585.5,867.6 L588.0,867.5 L590.5,867.4 L593.0,867.4 L595.5,867.5 L598.0,867.3 L600.5,867.1 L603.0,866.7 L605.5,866.4 L608.0,866.2 L610.5,866.1 L613.0,865.4 L615.5,865.0 L618.0,864.6 L620.5,864.0 L623.0,864.0 L625.5,863.1 L628.0,863.0 L630.5,862.9 L633.0,862.3 L635.5,862.4 L638.0,862.4 L640.5,862.5 L643.0,862.8 L645.5,863.3 L648.0,864.4 L650.5,865.2 L653.0,866.3 L655.5,867.1 L658.0,868.8 L660.5,870.2 L663.0,872.2 L665.5,874.2 L668.0,876.3 L670.5,879.2 L673.0,881.5 L675.5,884.9 L678.0,888.2 L680.5,891.6 L683.0,895.2 L685.5,899.1 L688.0,902.4 L690.5,906.1 L693.0,909.5 L695.5,912.3 L698.0,915.3 L700.5,917.6 L703.0,919.8 L705.5,921.6 L708.0,923.2 L710.5,924.3 L713.0,925.6 L715.5,926.4 L718.0,927.0 L720.5,927.7 L723.0,928.0 L725.5,928.7 L728.0,928.8 L730.5,929.2 L733.0,929.3 L735.5,929.4 L738.0,929.4 L740.5,929.5 L743.0,929.9 L745.5,929.8 L748.0,929.9"/>
<path d="M488.0,873.6 L490.5,873.7 L493.0,873.4 L495.5,873.4 L498.0,873.7 L500.5,873.5 L503.0,873.6 L505.5,873.7 L508.0,873.7 L510.5,873.7 L513.0,873.3 L515.5,873.5 L518.0,873.7 L520.5,873.7 L523.0,873.4 L525.5,873.4 L528.0,873.4 L530.5,873.4 L533.0,873.5 L535.5,873.7 L538.0,873.6 L540.5,873.5 L543.0,873.3 L545.5,873.5 L548.0,873.8 L550.5,873.6 L553.0,873.5 L555.5,873.5 L558.0,873.7 L560.5,873.7 L563.0,873.4 L565.5,873.6 L568.0,873.5 L570.5,873.6 L573.0,873.4 L575.5,873.5 L578.0,873.5 L580.5,873.5 L583.0,873.3 L585.5,873.3 L588.0,873.5 L590.5,873.2 L593.0,873.2 L595.5,873.4 L598.0,873.0 L600.5,872.9 L603.0,872.7 L605.5,872.7 L608.0,872.1 L610.5,872.0 L613.0,871.8 L615.5,871.0 L618.0,870.7 L620.5,870.4 L623.0,869.9 L625.5,869.3 L628.0,868.8 L630.5,868.7 L633.0,868.4 L635.5,868.5 L638.0,868.3 L640.5,868.5 L643.0,868.9 L645.5,869.5 L648.0,869.9 L650.5,870.8 L653.0,871.8 L655.5,873.2 L658.0,874.2 L660.5,876.1 L663.0,877.7 L665.5,879.5 L668.0,881.8 L670.5,884.1 L673.0,886.6 L675.5,889.9 L678.0,892.9 L680.5,896.4 L683.0,899.9 L685.5,903.7 L688.0,907.2 L690.5,910.3 L693.0,913.9 L695.5,917.0 L698.0,919.8 L700.5,922.5 L703.0,924.4 L705.5,926.4 L708.0,928.2 L710.5,929.3 L713.0,930.5 L715.5,931.4 L718.0,932.3 L720.5,932.9 L723.0,933.4 L725.5,933.7 L728.0,933.8 L730.5,934.4 L733.0,934.5 L735.5,934.8 L738.0,935.0 L740.5,934.7 L743.0,934.9 L745.5,934.9 L748.0,935.3"/>
<path d="M488.0,879.3 L490.5,879.2 L493.0,879.6 L495.5,879.5 L498.0,879.2 L500.5,879.5 L503.0,879.5 L505.5,879.4 L508.0,879.2 L510.5,879.5 L513.0,879.4 L515.5,879.5 L518.0,879.7 L520.5,879.6 L523.0,879.6 L525.5,879.2 L528.0,879.3 L530.5,879.4 L533.0,879.1 L535.5,879.6 L538.0,879.2 L540.5,879.2 L543.0,879.3 L545.5,879.2 L548.0,879.5 L550.5,879.3 L553.0,879.3 L555.5,879.2 L558.0,879.0 L560.5,879.2 L563.0,879.4 L565.5,879.4 L568.0,879.4 L570.5,879.1 L573.0,879.0 L575.5,878.9 L578.0,879.1 L580.5,879.0 L583.0,879.0 L585.5,879.0 L588.0,879.0 L590.5,878.8 L593.0,879.0 L595.5,878.6 L598.0,878.9 L600.5,878.7 L603.0,878.3 L605.5,878.3 L608.0,878.3 L610.5,878.1 L613.0,878.1 L615.5,877.8 L618.0,877.6 L620.5,877.6 L623.0,877.2 L625.5,877.1 L628.0,877.0 L630.5,876.6 L633.0,876.4 L635.5,876.6 L638.0,876.3 L640.5,876.7 L643.0,876.6 L645.5,877.1 L648.0,877.7 L650.5,878.1 L653.0,879.2 L655.5,879.6 L658.0,880.9 L660.5,881.7 L663.0,883.3 L665.5,884.6 L668.0,886.3 L670.5,887.9 L673.0,890.0 L675.5,892.3 L678.0,894.6 L680.5,897.3 L683.0,900.5 L685.5,903.3 L688.0,906.9 L690.5,909.8 L693.0,912.9 L695.5,916.1 L698.0,919.4 L700.5,922.3 L703.0,924.6 L705.5,927.1 L708.0,928.9 L710.5,931.0 L713.0,932.5 L715.5,933.6 L718.0,934.7 L720.5,936.0 L723.0,936.4 L725.5,937.5 L728.0,937.8 L730.5,938.2 L733.0,938.8 L735.5,939.0 L738.0,939.4 L740.5,939.4 L743.0,939.9 L745.5,939.8 L748.0,940.2"/>
<path d="M488.0,885.2 L490.5,885.6 L493.0,885.6 L495.5,885.3 L498.0,885.2 L500.5,885.3 L503.0,885.5 L505.5,885.2 L508.0,885.4 L510.5,885.2 L513.0,885.3 L515.5,885.5 L518.0,885.3 L520.5,885.4 L523.0,885.1 L525.5,885.5 L528.0,885.1 L530.5,885.5 L533.0,885.5 L535.5,885.5 L538.0,885.3 L540.5,885.2 L543.0,885.2 L545.5,885.4 L548.0,885.2 L550.5,885.4 L553.0,885.0 L555.5,885.2 L558.0,885.3 L560.5,885.2 L563.0,885.1 L565.5,884.9 L568.0,884.9 L570.5,884.9 L573.0,885.2 L575.5,885.1 L578.0,884.8 L580.5,885.1 L583.0,884.6 L585.5,884.8 L588.0,884.9 L590.5,884.5 L593.0,884.8 L595.5,884.5 L598.0,884.1 L600.5,884.1 L603.0,884.1 L605.5,883.8 L608.0,883.9 L610.5,883.4 L613.0,883.5 L615.5,883.0 L618.0,882.6 L620.5,882.5 L623.0,881.9 L625.5,881.7 L628.0,881.4 L630.5,880.8 L633.0,880.3 L635.5,879.7 L638.0,879.7 L640.5,879.4 L643.0,879.8 L645.5,879.9 L648.0,880.7 L650.5,881.3 L653.0,882.2 L655.5,883.3 L658.0,884.3 L660.5,885.6 L663.0,887.4 L665.5,888.7 L668.0,890.7 L670.5,892.6 L673.0,894.6 L675.5,896.8 L678.0,899.3 L680.5,902.5 L683.0,905.1 L685.5,908.4 L688.0,911.7 L690.5,914.8 L693.0,918.2 L695.5,921.2 L698.0,924.4 L700.5,927.2 L703.0,929.7 L705.5,931.9 L708.0,934.1 L710.5,935.8 L713.0,937.3 L715.5,938.7 L718.0,940.2 L720.5,941.0 L723.0,942.0 L725.5,942.2 L728.0,943.3 L730.5,943.5 L733.0,944.1 L735.5,944.3 L738.0,944.6 L740.5,944.6 L743.0,945.0 L745.5,944.9 L748.0,945.1"/>
<path d="M488.0,891.1 L490.5,891.3 L493.0,891.4 L495.5,891.2 L498.0,891.5 L500.5,891.1 L503.0,891.4 L505.5,891.2 L508.0,891.4 L510.5,891.4 L513.0,891.4 L515.5,891.1 L518.0,891.2 L520.5,891.3 L523.0,891.5 L525.5,891.0 L528.0,891.3 L530.5,891.3 L533.0,891.4 L535.5,891.1 L538.0,891.3 L540.5,891.2 L543.0,891.4 L545.5,890.9 L548.0,891.3 L550.5,891.1 L553.0,891.0 L555.5,890.8 L558.0,890.9 L560.5,891.1 L563.0,891.1 L565.5,890.8 L568.0,890.8 L570.5,890.7 L573.0,890.7 L575.5,890.6 L578.0,890.6 L580.5,890.9 L583.0,890.8 L585.5,890.7 L588.0,890.4 L590.5,890.4 L593.0,890.4 L595.5,890.4 L598.0,890.1 L600.5,889.9 L603.0,889.6 L605.5,889.6 L608.0,889.5 L610.5,889.2 L613.0,888.6 L615.5,888.6 L618.0,888.0 L620.5,887.5 L623.0,887.4 L625.5,886.6 L628.0,886.0 L630.5,884.9 L633.0,884.5 L635.5,883.7 L638.0,882.9 L640.5,882.3 L643.0,882.0 L645.5,882.1 L648.0,882.5 L650.5,883.2 L653.0,884.4 L655.5,885.7 L658.0,887.2 L660.5,888.5 L663.0,890.5 L665.5,892.2 L668.0,894.4 L670.5,896.2 L673.0,898.9 L675.5,901.4 L678.0,903.8 L680.5,907.1 L683.0,909.8 L685.5,913.0 L688.0,916.5 L690.5,919.7 L693.0,923.1 L695.5,926.5 L698.0,929.4 L700.5,932.2 L703.0,934.7 L705.5,937.2 L708.0,939.3 L710.5,941.1 L713.0,942.8 L715.5,944.1 L718.0,945.0 L720.5,945.8 L723.0,947.0 L725.5,947.7 L728.0,948.1 L730.5,948.7 L733.0,949.2 L735.5,949.5 L738.0,949.4 L740.5,949.9 L743.0,949.8 L745.5,950.0 L748.0,950.5"/>
<path d="M488.0,897.3 L490.5,897.4 L493.0,897.3 L495.5,897.2 L498.0,897.2 L500.5,897.2 L503.0,897.5 L505.5,897.3 L508.0,897.2 L510.5,897.0 L513.0,897.1 L515.5,897.3 L518.0,897.2 L520.5,897.3 L523.0,897.4 L525.5,897.0 L528.0,897.3 L530.5,896.9 L533.0,897.3 L535.5,897.0 L538.0,897.0 L540.5,897.3 L543.0,897.0 L545.5,896.9 L548.0,897.2 L550.5,897.1 L553.0,897.2 L555.5,896.9 L558.0,896.9 L560.5,897.1 L563.0,896.9 L565.5,897.1 L568.0,896.6 L570.5,896.9 L573.0,896.5 L575.5,896.6 L578.0,896.3 L580.5,896.3 L583.0,896.7 L585.5,896.3 L588.0,896.4 L590.5,896.0 L593.0,896.0 L595.5,895.7 L598.0,895.8 L600.5,895.8 L603.0,895.5 L605.5,895.2 L608.0,895.2 L610.5,894.9 L613.0,894.5 L615.5,893.8 L618.0,893.7 L620.5,893.1 L623.0,892.7 L625.5,891.7 L628.0,891.0 L630.5,890.0 L633.0,888.7 L635.5,887.6 L638.0,886.3 L640.5,885.1 L643.0,883.9 L645.5,883.2 L648.0,883.5 L650.5,883.6 L653.0,885.1 L655.5,886.5 L658.0,888.2 L660.5,890.2 L663.0,892.5 L665.5,894.9 L668.0,897.2 L670.5,899.7 L673.0,902.0 L675.5,905.0 L678.0,907.8 L680.5,911.3 L683.0,914.5 L685.5,917.5 L688.0,921.1 L690.5,924.5 L693.0,927.6 L695.5,931.0 L698.0,934.2 L700.5,937.1 L703.0,939.5 L705.5,942.1 L708.0,944.0 L710.5,945.9 L713.0,947.5 L715.5,949.1 L718.0,950.2 L720.5,951.2 L723.0,952.0 L725.5,952.6 L728.0,953.5 L730.5,953.8 L733.0,954.2 L735.5,954.4 L738.0,954.6 L740.5,955.0 L743.0,955.4 L745.5,955.5 L748.0,955.4"/>
<path d="M488.0,903.1 L490.5,903.3 L493.0,903.5 L495.5,903.1 L498.0,903.4 L500.5,903.1 L503.0,903.2 L505.5,903.0 L508.0,903.1 L510.5,903.2 L513.0,903.4 L515.5,903.4 L518.0,903.0 L520.5,903.1 L523.0,903.4 L525.5,903.0 L528.0,903.0 L530.5,903.1 L533.0,902.9 L535.5,903.0 L538.0,903.0 L540.5,903.0 L543.0,903.3 L545.5,902.9 L548.0,902.8 L550.5,903.2 L553.0,902.9 L555.5,903.1 L558.0,902.9 L560.5,903.0 L563.0,902.7 L565.5,902.6 L568.0,902.8 L570.5,902.6 L573.0,902.6 L575.5,902.6 L578.0,902.6 L580.5,902.3 L583.0,902.3 L585.5,902.5 L588.0,902.2 L590.5,902.0 L593.0,902.0 L595.5,901.7 L598.0,901.8 L600.5,901.3 L603.0,901.5 L605.5,901.1 L608.0,900.8 L610.5,900.8 L613.0,900.1 L615.5,899.7 L618.0,899.2 L620.5,898.9 L623.0,898.3 L625.5,897.5 L628.0,896.5 L630.5,895.6 L633.0,893.9 L635.5,892.4 L638.0,890.8 L640.5,889.0 L643.0,886.8 L645.5,885.1 L648.0,883.9 L650.5,883.5 L653.0,884.6 L655.5,886.0 L658.0,887.8 L660.5,890.3 L663.0,893.3 L665.5,896.0 L668.0,898.8 L670.5,902.2 L673.0,905.1 L675.5,908.3 L678.0,911.7 L680.5,915.1 L683.0,918.2 L685.5,921.8 L688.0,925.2 L690.5,928.9 L693.0,932.4 L695.5,935.9 L698.0,938.9 L700.5,941.8 L703.0,944.4 L705.5,946.9 L708.0,948.8 L710.5,951.0 L713.0,952.6 L715.5,954.0 L718.0,954.9 L720.5,956.2 L723.0,957.1 L725.5,957.7 L728.0,958.5 L730.5,959.0 L733.0,959.3 L735.5,959.7 L738.0,959.9 L740.5,960.3 L743.0,960.2 L745.5,960.6 L748.0,960.8"/>
<path d="M488.0,909.3 L490.5,909.1 L493.0,909.0 L495.5,909.3 L498.0,909.4 L500.5,909.1 L503.0,909.1 L505.5,909.1 L508.0,909.0 L510.5,909.3 L513.0,909.4 L515.5,909.3 L518.0,909.1 L520.5,909.2 L523.0,908.9 L525.5,909.3 L528.0,909.0 L530.5,908.8 L533.0,909.1 L535.5,908.9 L538.0,908.9 L540.5,908.8 L543.0,909.0 L545.5,909.0 L548.0,909.1 L550.5,908.7 L553.0,909.0 L555.5,908.7 L558.0,908.7 L560.5,908.8 L563.0,908.7 L565.5,908.6 L568.0,908.7 L570.5,908.5 L573.0,908.7 L575.5,908.3 L578.0,908.6 L580.5,908.5 L583.0,908.3 L585.5,908.0 L588.0,908.2 L590.5,907.8 L593.0,907.9 L595.5,907.7 L598.0,907.4 L600.5,907.5 L603.0,907.3 L605.5,907.1 L608.0,906.7 L610.5,906.5 L613.0,906.2 L615.5,905.6 L618.0,905.5 L620.5,905.0 L623.0,904.3 L625.5,903.6 L628.0,902.3 L630.5,901.5 L633.0,899.7 L635.5,898.1 L638.0,895.9 L640.5,893.6 L643.0,890.8 L645.5,887.8 L648.0,884.7 L650.5,882.6 L653.0,881.9 L655.5,882.9 L658.0,884.9 L660.5,887.8 L663.0,891.6 L665.5,895.2 L668.0,899.0 L670.5,902.7 L673.0,906.8 L675.5,910.3 L678.0,914.1 L680.5,918.1 L683.0,921.9 L685.5,925.8 L688.0,929.5 L690.5,933.3 L693.0,936.9 L695.5,940.2 L698.0,943.4 L700.5,946.1 L703.0,948.9 L705.5,951.3 L708.0,953.9 L710.5,955.7 L713.0,957.4 L715.5,958.6 L718.0,959.9 L720.5,960.8 L723.0,962.0 L725.5,962.9 L728.0,963.2 L730.5,963.6 L733.0,964.1 L735.5,964.6 L738.0,965.1 L740.5,965.4 L743.0,965.4 L745.5,965.4 L748.0,965.6"/>
<path d="M488.0,915.0 L490.5,915.3 L493.0,915.2 L495.5,915.4 L498.0,915.4 L500.5,915.3 L503.0,915.2 L505.5,915.3 L508.0,915.0 L510.5,914.9 L513.0,915.1 L515.5,915.1 L518.0,914.9 L520.5,915.0 L523.0,914.8 L525.5,915.3 L528.0,915.1 L530.5,915.2 L533.0,915.2 L535.5,914.9 L538.0,915.1 L540.5,914.9 L543.0,915.1 L545.5,915.1 L548.0,914.7 L550.5,914.6 L553.0,914.7 L555.5,914.8 L558.0,914.7 L560.5,914.4 L563.0,914.8 L565.5,914.7 L568.0,914.5 L570.5,914.3 L573.0,914.6 L575.5,914.4 L578.0,914.1 L580.5,914.2 L583.0,914.2 L585.5,914.3 L588.0,914.0 L590.5,913.9 L593.0,913.6 L595.5,913.5 L598.0,913.7 L600.5,913.2 L603.0,912.9 L605.5,912.9 L608.0,912.5 L610.5,912.2 L613.0,912.0 L615.5,911.7 L618.0,911.3 L620.5,910.9 L623.0,910.2 L625.5,909.3 L628.0,908.7 L630.5,907.3 L633.0,906.3 L635.5,904.7 L638.0,902.8 L640.5,900.3 L643.0,897.0 L645.5,893.3 L648.0,888.7 L650.5,883.4 L653.0,878.2 L655.5,874.9 L658.0,873.8 L660.5,875.3 L663.0,878.9 L665.5,884.2 L668.0,889.4 L670.5,895.3 L673.0,901.2 L675.5,906.7 L678.0,911.9 L680.5,916.9 L683.0,921.4 L685.5,926.0 L688.0,930.9 L690.5,935.1 L693.0,938.7 L695.5,942.5 L698.0,946.2 L700.5,949.8 L703.0,952.4 L705.5,955.3 L708.0,957.7 L710.5,959.7 L713.0,961.6 L715.5,962.8 L718.0,964.1 L720.5,965.1 L723.0,966.5 L725.5,966.9 L728.0,968.1 L730.5,968.5 L733.0,968.8 L735.5,969.5 L738.0,969.5 L740.5,970.0 L743.0,970.1 L745.5,970.6 L748.0,970.9"/>
<path d="M488.0,921.4 L490.5,920.9 L493.0,921.3 L495.5,921.2 L498.0,921.3 L500.5,921.1 L503.0,921.2 L505.5,921.2 L508.0,921.2 L510.5,920.9 L513.0,920.8 L515.5,921.1 L518.0,920.9 L520.5,921.0 L523.0,920.8 L525.5,921.1 L528.0,920.7 L530.5,921.1 L533.0,921.1 L535.5,920.9 L538.0,920.7 L540.5,920.9 L543.0,920.7 L545.5,920.8 L548.0,920.6 L550.5,921.0 L553.0,920.7 L555.5,920.6 L558.0,920.4 L560.5,920.7 L563.0,920.7 L565.5,920.7 L568.0,920.2 L570.5,920.3 L573.0,920.2 L575.5,920.4 L578.0,920.0 L580.5,920.2 L583.0,920.3 L585.5,920.0 L588.0,919.6 L590.5,919.5 L593.0,919.4 L595.5,919.5 L598.0,919.3 L600.5,919.1 L603.0,918.8 L605.5,918.6 L608.0,918.4 L610.5,918.1 L613.0,917.9 L615.5,917.4 L618.0,917.0 L620.5,916.5 L623.0,915.8 L625.5,914.9 L628.0,913.6 L630.5,912.8 L633.0,911.4 L635.5,909.5 L638.0,907.5 L640.5,904.3 L643.0,901.2 L645.5,896.7 L648.0,891.6 L650.5,885.7 L653.0,880.1 L655.5,875.9 L658.0,874.8 L660.5,876.5 L663.0,880.6 L665.5,886.1 L668.0,892.0 L670.5,898.4 L673.0,904.4 L675.5,910.2 L678.0,915.8 L680.5,921.0 L683.0,925.7 L685.5,930.5 L688.0,935.1 L690.5,939.3 L693.0,943.5 L695.5,947.7 L698.0,951.3 L700.5,954.4 L703.0,957.6 L705.5,960.3 L708.0,962.7 L710.5,964.7 L713.0,966.4 L715.5,967.7 L718.0,969.4 L720.5,970.3 L723.0,971.5 L725.5,972.2 L728.0,972.9 L730.5,973.8 L733.0,973.9 L735.5,974.5 L738.0,974.9 L740.5,975.2 L743.0,975.6 L745.5,975.6 L748.0,976.0"/>
<path d="M488.0,927.2 L490.5,927.4 L493.0,926.9 L495.5,927.0 L498.0,927.0 L500.5,927.3 L503.0,926.8 L505.5,926.9 L508.0,927.2 L510.5,927.3 L513.0,926.9 L515.5,927.0 L518.0,927.1 L520.5,927.1 L523.0,927.1 L525.5,927.1 L528.0,926.8 L530.5,926.8 L533.0,926.6 L535.5,926.9 L538.0,926.7 L540.5,926.7 L543.0,927.0 L545.5,926.8 L548.0,926.7 L550.5,926.7 L553.0,926.7 L555.5,926.7 L558.0,926.4 L560.5,926.3 L563.0,926.2 L565.5,926.2 L568.0,926.3 L570.5,926.1 L573.0,926.0 L575.5,926.1 L578.0,926.3 L580.5,926.1 L583.0,925.7 L585.5,925.9 L588.0,925.5 L590.5,925.3 L593.0,925.3 L595.5,925.2 L598.0,925.1 L600.5,924.8 L603.0,924.7 L605.5,924.1 L608.0,924.2 L610.5,923.6 L613.0,923.5 L615.5,922.6 L618.0,922.5 L620.5,921.6 L623.0,921.2 L625.5,920.3 L628.0,919.2 L630.5,917.7 L633.0,916.0 L635.5,914.1 L638.0,912.0 L640.5,908.6 L643.0,905.0 L645.5,900.2 L648.0,894.6 L650.5,888.0 L653.0,881.8 L655.5,877.1 L658.0,876.3 L660.5,877.9 L663.0,882.2 L665.5,887.8 L668.0,894.1 L670.5,900.7 L673.0,907.2 L675.5,913.8 L678.0,919.2 L680.5,925.1 L683.0,930.0 L685.5,935.1 L688.0,939.5 L690.5,944.3 L693.0,948.2 L695.5,952.2 L698.0,956.0 L700.5,959.1 L703.0,962.2 L705.5,965.2 L708.0,967.3 L710.5,969.5 L713.0,971.5 L715.5,972.8 L718.0,974.2 L720.5,975.3 L723.0,976.4 L725.5,977.2 L728.0,978.1 L730.5,978.6 L733.0,979.3 L735.5,979.4 L738.0,980.0 L740.5,980.4 L743.0,980.4 L745.5,980.6 L748.0,981.0"/>
<path d="M488.0,932.9 L490.5,933.1 L493.0,933.2 L495.5,932.9 L498.0,932.9 L500.5,933.0 L503.0,932.9 L505.5,932.9 L508.0,933.0 L510.5,932.8 L513.0,932.8 L515.5,932.9 L518.0,932.9 L520.5,933.1 L523.0,932.9 L525.5,932.7 L528.0,932.7 L530.5,933.0 L533.0,932.8 L535.5,933.0 L538.0,933.0 L540.5,932.9 L543.0,932.5 L545.5,932.9 L548.0,932.6 L550.5,932.5 L553.0,932.4 L555.5,932.7 L558.0,932.3 L560.5,932.2 L563.0,932.2 L565.5,932.5 L568.0,932.2 L570.5,932.3 L573.0,931.9 L575.5,932.0 L578.0,931.8 L580.5,931.7 L583.0,931.8 L585.5,931.5 L588.0,931.3 L590.5,931.6 L593.0,931.2 L595.5,930.8 L598.0,930.5 L600.5,930.6 L603.0,930.3 L605.5,929.8 L608.0,929.7 L610.5,929.5 L613.0,928.9 L615.5,928.3 L618.0,927.9 L620.5,927.2 L623.0,926.5 L625.5,925.3 L628.0,924.5 L630.5,923.1 L633.0,921.3 L635.5,919.2 L638.0,916.3 L640.5,913.2 L643.0,908.7 L645.5,903.5 L648.0,897.5 L650.5,890.7 L653.0,883.5 L655.5,878.5 L658.0,877.0 L660.5,879.2 L663.0,883.5 L665.5,889.5 L668.0,896.7 L670.5,903.7 L673.0,910.8 L675.5,917.0 L678.0,923.3 L680.5,928.7 L683.0,934.5 L685.5,939.3 L688.0,944.2 L690.5,948.8 L693.0,953.3 L695.5,957.1 L698.0,961.0 L700.5,964.2 L703.0,967.1 L705.5,970.1 L708.0,972.2 L710.5,974.8 L713.0,976.3 L715.5,977.8 L718.0,979.6 L720.5,980.4 L723.0,981.5 L725.5,982.3 L728.0,983.2 L730.5,983.5 L733.0,984.2 L735.5,984.5 L738.0,985.3 L740.5,985.2 L743.0,985.8 L745.5,985.8 L748.0,986.1"/>
<path d="M488.0,939.1 L490.5,939.2 L493.0,938.9 L495.5,938.9 L498.0,938.8 L500.5,939.2 L503.0,938.8 L505.5,938.8 L508.0,939.0 L510.5,939.0 L513.0,939.1 L515.5,938.7 L518.0,938.8 L520.5,938.7 L523.0,938.9 L525.5,938.8 L528.0,938.8 L530.5,939.0 L533.0,938.8 L535.5,938.9 L538.0,938.9 L540.5,938.5 L543.0,938.8 L545.5,938.5 L548.0,938.3 L550.5,938.7 L553.0,938.3 L555.5,938.2 L558.0,938.3 L560.5,938.2 L563.0,938.5 L565.5,938.4 L568.0,938.1 L570.5,938.1 L573.0,938.1 L575.5,938.0 L578.0,937.9 L580.5,937.7 L583.0,937.4 L585.5,937.3 L588.0,937.4 L590.5,937.2 L593.0,937.1 L595.5,937.0 L598.0,936.8 L600.5,936.2 L603.0,935.8 L605.5,936.0 L608.0,935.4 L610.5,934.8 L613.0,934.6 L615.5,933.9 L618.0,933.3 L620.5,932.6 L623.0,931.8 L625.5,930.9 L628.0,929.3 L630.5,928.1 L633.0,926.2 L635.5,923.8 L638.0,921.0 L640.5,917.5 L643.0,912.5 L645.5,907.1 L648.0,900.5 L650.5,893.0 L653.0,885.6 L655.5,879.9 L658.0,878.6 L660.5,880.6 L663.0,885.0 L665.5,891.6 L668.0,899.2 L670.5,906.3 L673.0,913.7 L675.5,920.8 L678.0,927.2 L680.5,932.8 L683.0,938.7 L685.5,943.7 L688.0,948.8 L690.5,953.5 L693.0,957.6 L695.5,961.7 L698.0,965.5 L700.5,968.9 L703.0,971.9 L705.5,974.7 L708.0,977.3 L710.5,979.5 L713.0,981.2 L715.5,983.0 L718.0,984.6 L720.5,985.6 L723.0,986.5 L725.5,987.6 L728.0,988.2 L730.5,988.7 L733.0,989.4 L735.5,989.6 L738.0,990.3 L740.5,990.4 L743.0,990.8 L745.5,991.4 L748.0,991.5"/>
<path d="M488.0,945.2 L490.5,945.1 L493.0,945.1 L495.5,945.1 L498.0,945.2 L500.5,944.8 L503.0,945.1 L505.5,944.8 L508.0,944.8 L510.5,945.1 L513.0,944.9 L515.5,945.0 L518.0,945.0 L520.5,944.9 L523.0,944.6 L525.5,944.5 L528.0,944.8 L530.5,944.8 L533.0,944.6 L535.5,944.4 L538.0,944.4 L540.5,944.4 L543.0,944.7 L545.5,944.3 L548.0,944.3 L550.5,944.3 L553.0,944.5 L555.5,944.6 L558.0,944.0 L560.5,944.0 L563.0,944.4 L565.5,944.3 L568.0,943.8 L570.5,943.9 L573.0,943.9 L575.5,943.7 L578.0,943.6 L580.5,943.5 L583.0,943.3 L585.5,943.1 L588.0,942.9 L590.5,942.8 L593.0,942.6 L595.5,942.6 L598.0,942.4 L600.5,942.0 L603.0,941.9 L605.5,941.6 L608.0,941.0 L610.5,940.7 L613.0,940.0 L615.5,939.8 L618.0,939.0 L620.5,937.9 L623.0,937.0 L625.5,936.2 L628.0,934.7 L630.5,933.2 L633.0,931.0 L635.5,928.8 L638.0,925.7 L640.5,921.4 L643.0,916.7 L645.5,910.5 L648.0,903.5 L650.5,895.4 L653.0,887.5 L655.5,881.2 L658.0,879.3 L660.5,881.8 L663.0,886.7 L665.5,893.3 L668.0,901.1 L670.5,909.3 L673.0,916.7 L675.5,924.2 L678.0,930.7 L680.5,936.9 L683.0,942.7 L685.5,948.2 L688.0,953.4 L690.5,957.8 L693.0,962.6 L695.5,966.5 L698.0,970.3 L700.5,974.0 L703.0,977.1 L705.5,979.9 L708.0,982.5 L710.5,984.3 L713.0,986.3 L715.5,988.1 L718.0,989.3 L720.5,990.4 L723.0,991.5 L725.5,992.7 L728.0,993.4 L730.5,994.0 L733.0,994.7 L735.5,995.1 L738.0,995.3 L740.5,995.6 L743.0,996.1 L745.5,996.1 L748.0,996.6"/>
<path d="M488.0,950.8 L490.5,950.7 L493.0,951.0 L495.5,950.8 L498.0,951.1 L500.5,951.1 L503.0,950.9 L505.5,950.7 L508.0,950.7 L510.5,950.8 L513.0,950.8 L515.5,950.7 L518.0,950.9 L520.5,950.8 L523.0,950.9 L525.5,950.5 L528.0,950.5 L530.5,950.6 L533.0,950.6 L535.5,950.5 L538.0,950.6 L540.5,950.4 L543.0,950.4 L545.5,950.4 L548.0,950.5 L550.5,950.5 L553.0,950.2 L555.5,950.2 L558.0,950.4 L560.5,950.3 L563.0,950.1 L565.5,949.8 L568.0,949.8 L570.5,949.9 L573.0,949.6 L575.5,949.4 L578.0,949.7 L580.5,949.5 L583.0,949.0 L585.5,949.0 L588.0,948.9 L590.5,948.6 L593.0,948.3 L595.5,948.4 L598.0,948.1 L600.5,947.7 L603.0,947.2 L605.5,947.0 L608.0,946.4 L610.5,946.3 L613.0,945.3 L615.5,944.8 L618.0,944.3 L620.5,943.0 L623.0,942.0 L625.5,940.6 L628.0,939.1 L630.5,937.4 L633.0,935.2 L635.5,931.9 L638.0,928.3 L640.5,924.0 L643.0,918.1 L645.5,911.0 L648.0,902.6 L650.5,893.8 L653.0,886.2 L655.5,880.8 L658.0,880.8 L660.5,884.5 L663.0,890.7 L665.5,898.4 L668.0,906.4 L670.5,914.9 L673.0,922.5 L675.5,929.6 L678.0,936.3 L680.5,942.6 L683.0,948.4 L685.5,953.4 L688.0,958.5 L690.5,963.6 L693.0,967.6 L695.5,972.1 L698.0,975.6 L700.5,979.0 L703.0,982.2 L705.5,985.0 L708.0,987.8 L710.5,989.5 L713.0,991.7 L715.5,993.1 L718.0,994.4 L720.5,995.9 L723.0,996.8 L725.5,997.6 L728.0,998.4 L730.5,999.3 L733.0,999.9 L735.5,1000.2 L738.0,1000.3 L740.5,1001.1 L743.0,1001.3 L745.5,1001.7 L748.0,1002.0"/>
<path d="M488.0,956.8 L490.5,957.2 L493.0,957.3 L495.5,957.2 L498.0,957.5 L500.5,957.7 L503.0,957.9 L505.5,958.1 L508.0,958.2 L510.5,958.5 L513.0,959.1 L515.5,959.1 L518.0,959.5 L520.5,959.8 L523.0,960.0 L525.5,960.0 L528.0,960.6 L530.5,960.8 L533.0,961.2 L535.5,961.3 L538.0,961.6 L540.5,961.9 L543.0,961.9 L545.5,962.3 L548.0,962.5 L550.5,962.9 L553.0,962.8 L555.5,963.3 L558.0,963.5 L560.5,964.0 L563.0,964.0 L565.5,964.4 L568.0,964.7 L570.5,964.9 L573.0,964.8 L575.5,965.4 L578.0,965.5 L580.5,965.6 L583.0,965.8 L585.5,965.7 L588.0,966.2 L590.5,966.2 L593.0,966.2 L595.5,966.2 L598.0,966.4 L600.5,966.3 L603.0,966.0 L605.5,965.1 L608.0,964.6 L610.5,963.9 L613.0,963.1 L615.5,962.3 L618.0,961.2 L620.5,960.3 L623.0,958.6 L625.5,956.7 L628.0,954.6 L630.5,952.3 L633.0,948.8 L635.5,944.8 L638.0,939.7 L640.5,933.5 L643.0,925.7 L645.5,915.8 L648.0,905.0 L650.5,894.1 L653.0,884.8 L655.5,880.8 L658.0,882.3 L660.5,887.4 L663.0,895.7 L665.5,905.0 L668.0,914.4 L670.5,923.9 L673.0,932.5 L675.5,940.0 L678.0,946.9 L680.5,953.0 L683.0,958.9 L685.5,963.9 L688.0,968.3 L690.5,972.7 L693.0,976.7 L695.5,980.6 L698.0,983.8 L700.5,986.5 L703.0,989.6 L705.5,991.6 L708.0,994.0 L710.5,995.8 L713.0,997.5 L715.5,998.8 L718.0,999.9 L720.5,1001.1 L723.0,1002.2 L725.5,1003.0 L728.0,1003.5 L730.5,1004.0 L733.0,1004.8 L735.5,1005.2 L738.0,1005.3 L740.5,1006.0 L743.0,1006.4 L745.5,1006.4 L748.0,1006.6"/>
<path d="M488.0,962.9 L490.5,963.1 L493.0,962.9 L495.5,963.0 L498.0,963.2 L500.5,963.5 L503.0,963.3 L505.5,963.6 L508.0,963.8 L510.5,964.0 L513.0,963.9 L515.5,964.4 L518.0,964.6 L520.5,964.5 L523.0,964.8 L525.5,964.6 L528.0,965.1 L530.5,965.1 L533.0,965.3 L535.5,965.5 L538.0,965.4 L540.5,965.9 L543.0,965.6 L545.5,965.7 L548.0,966.1 L550.5,966.4 L553.0,966.5 L555.5,966.7 L558.0,966.6 L560.5,966.9 L563.0,966.9 L565.5,966.8 L568.0,967.1 L570.5,967.3 L573.0,967.2 L575.5,967.4 L578.0,967.3 L580.5,967.3 L583.0,967.4 L585.5,967.5 L588.0,967.5 L590.5,967.2 L593.0,967.1 L595.5,967.2 L598.0,967.3 L600.5,967.1 L603.0,966.4 L605.5,965.9 L608.0,965.4 L610.5,964.5 L613.0,964.0 L615.5,963.2 L618.0,961.7 L620.5,960.6 L623.0,959.1 L625.5,957.2 L628.0,954.9 L630.5,952.0 L633.0,948.3 L635.5,944.1 L638.0,938.6 L640.5,931.2 L643.0,923.1 L645.5,912.7 L648.0,901.4 L650.5,890.8 L653.0,883.8 L655.5,882.1 L658.0,885.0 L660.5,891.7 L663.0,900.5 L665.5,910.3 L668.0,919.6 L670.5,928.8 L673.0,936.7 L675.5,944.1 L678.0,950.8 L680.5,957.0 L683.0,962.7 L685.5,967.6 L688.0,972.3 L690.5,976.7 L693.0,980.7 L695.5,984.5 L698.0,988.0 L700.5,991.2 L703.0,993.9 L705.5,996.6 L708.0,998.8 L710.5,1001.0 L713.0,1002.4 L715.5,1004.2 L718.0,1005.2 L720.5,1006.2 L723.0,1007.3 L725.5,1007.9 L728.0,1008.7 L730.5,1009.2 L733.0,1010.1 L735.5,1010.7 L738.0,1010.8 L740.5,1011.1 L743.0,1011.4 L745.5,1011.7 L748.0,1012.1"/>
<path d="M488.0,968.7 L490.5,968.6 L493.0,969.0 L495.5,968.9 L498.0,968.6 L500.5,969.1 L503.0,969.0 L505.5,968.9 L508.0,969.1 L510.5,969.2 L513.0,969.0 L515.5,969.1 L518.0,969.0 L520.5,969.2 L523.0,969.3 L525.5,969.4 L528.0,969.5 L530.5,969.1 L533.0,969.3 L535.5,969.5 L538.0,969.5 L540.5,969.4 L543.0,969.5 L545.5,969.3 L548.0,969.6 L550.5,969.5 L553.0,969.4 L555.5,969.3 L558.0,969.2 L560.5,969.6 L563.0,969.5 L565.5,969.1 L568.0,969.2 L570.5,969.2 L573.0,969.2 L575.5,969.0 L578.0,969.2 L580.5,968.8 L583.0,968.7 L585.5,968.8 L588.0,968.4 L590.5,968.1 L593.0,967.8 L595.5,967.5 L598.0,967.3 L600.5,967.0 L603.0,966.1 L605.5,965.5 L608.0,964.8 L610.5,963.9 L613.0,963.2 L615.5,961.8 L618.0,960.2 L620.5,958.5 L623.0,956.7 L625.5,953.9 L628.0,951.1 L630.5,947.0 L633.0,942.4 L635.5,936.6 L638.0,930.0 L640.5,921.3 L643.0,911.8 L645.5,901.9 L648.0,893.3 L650.5,888.3 L653.0,888.1 L655.5,891.7 L658.0,898.0 L660.5,905.8 L663.0,914.8 L665.5,923.1 L668.0,931.9 L670.5,939.3 L673.0,946.2 L675.5,952.8 L678.0,958.6 L680.5,963.6 L683.0,968.3 L685.5,973.1 L688.0,977.2 L690.5,981.0 L693.0,984.7 L695.5,987.6 L698.0,990.7 L700.5,993.6 L703.0,996.2 L705.5,999.0 L708.0,1001.2 L710.5,1002.9 L713.0,1004.7 L715.5,1006.4 L718.0,1008.0 L720.5,1009.3 L723.0,1010.6 L725.5,1011.3 L728.0,1012.6 L730.5,1013.1 L733.0,1013.8 L735.5,1014.3 L738.0,1014.8 L740.5,1015.7 L743.0,1016.1 L745.5,1016.4 L748.0,1016.4"/>
<path d="M488.0,974.6 L490.5,974.5 L493.0,974.6 L495.5,974.7 L498.0,974.4 L500.5,974.5 L503.0,974.6 L505.5,974.2 L508.0,974.3 L510.5,974.4 L513.0,974.3 L515.5,974.1 L518.0,974.3 L520.5,974.1 L523.0,973.9 L525.5,973.8 L528.0,974.0 L530.5,973.9 L533.0,973.8 L535.5,973.5 L538.0,973.2 L540.5,973.2 L543.0,973.2 L545.5,973.2 L548.0,972.7 L550.5,973.0 L553.0,972.9 L555.5,972.6 L558.0,972.2 L560.5,972.4 L563.0,972.1 L565.5,972.0 L568.0,971.8 L570.5,971.7 L573.0,971.3 L575.5,971.4 L578.0,971.1 L580.5,970.8 L583.0,970.4 L585.5,969.9 L588.0,969.5 L590.5,969.1 L593.0,968.9 L595.5,968.4 L598.0,967.8 L600.5,967.2 L603.0,966.6 L605.5,965.6 L608.0,964.5 L610.5,963.6 L613.0,962.0 L615.5,960.6 L618.0,958.5 L620.5,956.6 L623.0,953.7 L625.5,950.3 L628.0,946.5 L630.5,941.2 L633.0,935.7 L635.5,928.9 L638.0,921.3 L640.5,914.5 L643.0,908.7 L645.5,906.0 L648.0,906.5 L650.5,909.5 L653.0,914.6 L655.5,920.2 L658.0,927.2 L660.5,933.5 L663.0,940.0 L665.5,946.0 L668.0,951.9 L670.5,956.9 L673.0,961.8 L675.5,966.1 L678.0,970.5 L680.5,974.5 L683.0,978.0 L685.5,981.9 L688.0,985.5 L690.5,988.6 L693.0,992.0 L695.5,994.8 L698.0,997.8 L700.5,1000.7 L703.0,1003.2 L705.5,1005.6 L708.0,1007.4 L710.5,1009.4 L713.0,1011.3 L715.5,1012.8 L718.0,1014.1 L720.5,1015.5 L723.0,1016.4 L725.5,1017.7 L728.0,1018.3 L730.5,1018.9 L733.0,1019.9 L735.5,1020.2 L738.0,1021.0 L740.5,1021.1 L743.0,1022.0 L745.5,1022.1 L748.0,1022.5"/>
<path d="M488.0,980.5 L490.5,980.7 L493.0,980.5 L495.5,980.3 L498.0,980.4 L500.5,979.9 L503.0,980.0 L505.5,979.6 L508.0,979.8 L510.5,979.7 L513.0,979.1 L515.5,979.1 L518.0,979.0 L520.5,978.9 L523.0,978.7 L525.5,978.4 L528.0,978.5 L530.5,977.9 L533.0,977.7 L535.5,977.8 L538.0,977.2 L540.5,977.0 L543.0,977.0 L545.5,976.6 L548.0,976.3 L550.5,976.4 L553.0,975.9 L555.5,975.8 L558.0,975.3 L560.5,975.3 L563.0,974.7 L565.5,974.7 L568.0,974.2 L570.5,974.0 L573.0,973.6 L575.5,973.1 L578.0,972.6 L580.5,972.4 L583.0,971.7 L585.5,971.0 L588.0,970.8 L590.5,970.2 L593.0,969.4 L595.5,968.7 L598.0,967.6 L600.5,966.8 L603.0,966.2 L605.5,965.2 L608.0,964.0 L610.5,962.2 L613.0,960.9 L615.5,958.8 L618.0,956.4 L620.5,953.5 L623.0,950.3 L625.5,946.6 L628.0,942.3 L630.5,937.5 L633.0,932.7 L635.5,928.5 L638.0,925.4 L640.5,924.1 L643.0,924.6 L645.5,927.1 L648.0,930.0 L650.5,934.2 L653.0,938.7 L655.5,942.8 L658.0,947.6 L660.5,952.2 L663.0,956.2 L665.5,960.3 L668.0,964.0 L670.5,967.6 L673.0,971.3 L675.5,974.7 L678.0,978.2 L680.5,981.8 L683.0,985.1 L685.5,988.6 L688.0,991.6 L690.5,994.6 L693.0,998.0 L695.5,1000.7 L698.0,1003.5 L700.5,1006.3 L703.0,1008.7 L705.5,1010.8 L708.0,1013.1 L710.5,1014.9 L713.0,1016.9 L715.5,1018.2 L718.0,1019.9 L720.5,1020.8 L723.0,1021.8 L725.5,1023.1 L728.0,1023.8 L730.5,1024.7 L733.0,1025.2 L735.5,1026.1 L738.0,1026.6 L740.5,1027.0 L743.0,1027.6 L745.5,1027.9 L748.0,1028.1"/>
<path d="M488.0,987.0 L490.5,986.5 L493.0,986.3 L495.5,986.3 L498.0,986.3 L500.5,985.8 L503.0,985.7 L505.5,985.2 L508.0,985.1 L510.5,985.1 L513.0,984.7 L515.5,984.5 L518.0,983.9 L520.5,983.7 L523.0,983.4 L525.5,983.4 L528.0,982.7 L530.5,982.9 L533.0,982.2 L535.5,982.2 L538.0,981.7 L540.5,981.3 L543.0,981.2 L545.5,980.6 L548.0,980.4 L550.5,979.7 L553.0,979.7 L555.5,979.4 L558.0,978.6 L560.5,978.5 L563.0,977.8 L565.5,977.3 L568.0,977.0 L570.5,976.7 L573.0,976.3 L575.5,975.8 L578.0,975.3 L580.5,974.5 L583.0,973.9 L585.5,973.0 L588.0,972.6 L590.5,971.7 L593.0,970.8 L595.5,970.2 L598.0,968.8 L600.5,967.7 L603.0,966.8 L605.5,965.7 L608.0,964.6 L610.5,963.3 L613.0,961.2 L615.5,959.4 L618.0,957.2 L620.5,954.8 L623.0,952.3 L625.5,950.0 L628.0,947.7 L630.5,946.4 L633.0,946.3 L635.5,946.8 L638.0,948.2 L640.5,949.6 L643.0,952.0 L645.5,954.1 L648.0,956.5 L650.5,959.3 L653.0,961.8 L655.5,964.3 L658.0,967.0 L660.5,969.2 L663.0,971.9 L665.5,974.5 L668.0,976.8 L670.5,979.4 L673.0,982.2 L675.5,984.7 L678.0,987.2 L680.5,990.0 L683.0,992.9 L685.5,995.9 L688.0,998.7 L690.5,1001.9 L693.0,1004.7 L695.5,1007.4 L698.0,1010.2 L700.5,1013.0 L703.0,1015.0 L705.5,1017.2 L708.0,1019.4 L710.5,1021.3 L713.0,1023.3 L715.5,1024.8 L718.0,1026.0 L720.5,1027.1 L723.0,1028.2 L725.5,1029.2 L728.0,1030.4 L730.5,1031.0 L733.0,1031.4 L735.5,1032.2 L738.0,1032.4 L740.5,1033.1 L743.0,1033.4 L745.5,1033.6 L748.0,1034.2"/>
<path d="M488.0,993.2 L490.5,992.9 L493.0,992.5 L495.5,992.5 L498.0,992.1 L500.5,991.9 L503.0,991.3 L505.5,991.4 L508.0,990.6 L510.5,990.3 L513.0,990.1 L515.5,989.6 L518.0,989.2 L520.5,989.1 L523.0,988.9 L525.5,988.2 L528.0,987.8 L530.5,987.6 L533.0,986.9 L535.5,986.6 L538.0,986.3 L540.5,985.8 L543.0,985.2 L545.5,984.7 L548.0,984.5 L550.5,984.3 L553.0,983.8 L555.5,982.9 L558.0,982.6 L560.5,982.1 L563.0,981.4 L565.5,981.2 L568.0,980.5 L570.5,980.2 L573.0,979.3 L575.5,979.1 L578.0,978.4 L580.5,977.6 L583.0,976.8 L585.5,976.3 L588.0,975.4 L590.5,974.9 L593.0,974.0 L595.5,973.1 L598.0,972.4 L600.5,971.0 L603.0,970.7 L605.5,970.1 L608.0,969.0 L610.5,968.4 L613.0,967.5 L615.5,967.1 L618.0,966.7 L620.5,966.2 L623.0,966.3 L625.5,966.4 L628.0,967.0 L630.5,967.3 L633.0,968.4 L635.5,968.9 L638.0,969.6 L640.5,970.6 L643.0,971.9 L645.5,973.1 L648.0,974.0 L650.5,975.0 L653.0,976.5 L655.5,977.7 L658.0,978.8 L660.5,980.4 L663.0,982.1 L665.5,983.5 L668.0,985.3 L670.5,987.5 L673.0,989.9 L675.5,992.2 L678.0,994.3 L680.5,997.2 L683.0,999.8 L685.5,1002.6 L688.0,1005.3 L690.5,1008.3 L693.0,1011.0 L695.5,1013.9 L698.0,1016.4 L700.5,1018.8 L703.0,1021.3 L705.5,1023.6 L708.0,1025.6 L710.5,1027.5 L713.0,1029.3 L715.5,1030.9 L718.0,1032.1 L720.5,1033.4 L723.0,1034.6 L725.5,1035.6 L728.0,1036.4 L730.5,1037.2 L733.0,1037.6 L735.5,1038.3 L738.0,1038.7 L740.5,1039.3 L743.0,1039.6 L745.5,1040.0 L748.0,1040.1"/>
</g>
<rect x="486.6" y="606.0" width="263.6" height="444.2" fill="none" stroke="#444" stroke-width="1.6"/>
<line x1="488.1" y1="1050.2" x2="488.1" y2="1041.2" stroke="#000" stroke-width="1.5"/>
<text x="488.1" y="1076.0" font-size="25.5" text-anchor="middle">−40</text>
<line x1="539.8" y1="1050.2" x2="539.8" y2="1041.2" stroke="#000" stroke-width="1.5"/>
<text x="539.8" y="1076.0" font-size="25.5" text-anchor="middle">−30</text>
<line x1="591.4" y1="1050.2" x2="591.4" y2="1041.2" stroke="#000" stroke-width="1.5"/>
<text x="591.4" y="1076.0" font-size="25.5" text-anchor="middle">−20</text>
<line x1="643.0" y1="1050.2" x2="643.0" y2="1041.2" stroke="#000" stroke-width="1.5"/>
<text x="643.0" y="1076.0" font-size="25.5" text-anchor="middle">−10</text>
<line x1="694.7" y1="1050.2" x2="694.7" y2="1041.2" stroke="#000" stroke-width="1.5"/>
<text x="694.7" y="1076.0" font-size="25.5" text-anchor="middle">0</text>
<line x1="746.4" y1="1050.2" x2="746.4" y2="1041.2" stroke="#000" stroke-width="1.5"/>
<text x="746.4" y="1076.0" font-size="25.5" text-anchor="middle">10</text>
<text x="618.0" y="1114.0" font-size="25" text-anchor="middle"><tspan font-style="italic">k</tspan><tspan font-style="italic" font-size="17" dy="8">x</tspan><tspan dy="-8"> (</tspan><tspan font-family="Liberation Serif" font-style="italic">π</tspan><tspan dx="2">/</tspan><tspan font-style="italic" dx="1.5">a</tspan>)</text>
<text x="470.5" y="827.0" font-size="25" text-anchor="middle" transform="rotate(-90 470.5 827.0)">Intensity (a.u.)</text>
<text x="510.0" y="645.0" font-size="25">8 K EDC</text></svg></body></html>
